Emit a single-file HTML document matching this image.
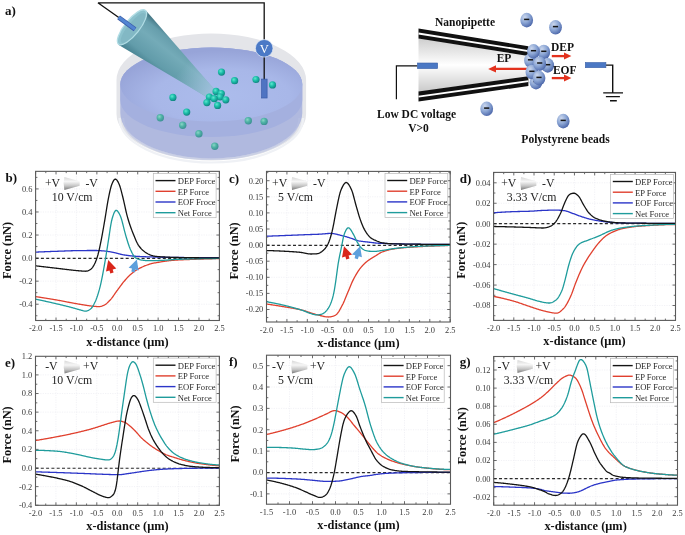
<!DOCTYPE html>
<html><head><meta charset="utf-8">
<style>
html,body{margin:0;padding:0;background:#fff;}
svg{display:block;will-change:transform;}
text{font-family:"Liberation Serif",serif;}
.tl{font-size:8.4px;fill:#3a3a3a;}
.at{font-size:12.4px;font-weight:bold;fill:#111;}
.pl{font-size:13px;font-weight:bold;fill:#111;}
.lg{font-size:8.6px;fill:#2a2a2a;}
.an{font-size:11.8px;fill:#222;}
.sb{font-size:11.5px;font-weight:bold;fill:#111;}
</style>
</head>
<body>
<svg width="685" height="535" viewBox="0 0 685 535">

<defs>
<radialGradient id="bg" cx="0.38" cy="0.35" r="0.7">
 <stop offset="0" stop-color="#5fe6cf"/><stop offset="0.45" stop-color="#1cbfa9"/><stop offset="1" stop-color="#0f7f7c"/>
</radialGradient>
<radialGradient id="bgf" cx="0.38" cy="0.35" r="0.7">
 <stop offset="0" stop-color="#8ad6c6"/><stop offset="0.45" stop-color="#4fb3a6"/><stop offset="1" stop-color="#3a8c90"/>
</radialGradient>
<radialGradient id="nb" cx="0.35" cy="0.3" r="0.75">
 <stop offset="0" stop-color="#cad6ec"/><stop offset="0.5" stop-color="#8da7d5"/><stop offset="1" stop-color="#4964a8"/>
</radialGradient>
<radialGradient id="liq" cx="0.56" cy="0.66" r="0.62">
 <stop offset="0" stop-color="#acbcec"/><stop offset="0.6" stop-color="#a8b7e8"/><stop offset="1" stop-color="#97a4d8"/>
</radialGradient>
<linearGradient id="coneb" gradientUnits="userSpaceOnUse" x1="119.6" y1="43.1" x2="144.4" y2="11.9">
 <stop offset="0" stop-color="#4c8695"/><stop offset="0.18" stop-color="#629caa"/><stop offset="0.6" stop-color="#74abb8"/><stop offset="0.86" stop-color="#669eac"/><stop offset="1" stop-color="#477a88"/>
</linearGradient>
<linearGradient id="conetip" gradientUnits="userSpaceOnUse" x1="132" y1="27.5" x2="213" y2="93">
 <stop offset="0" stop-color="#a8c8e2" stop-opacity="0"/><stop offset="0.62" stop-color="#a8c8e2" stop-opacity="0"/><stop offset="1" stop-color="#a8c4e4" stop-opacity="0.85"/>
</linearGradient>
<linearGradient id="pip" x1="0" y1="0" x2="0" y2="1">
 <stop offset="0" stop-color="#cdcdcd"/><stop offset="0.5" stop-color="#ffffff"/><stop offset="1" stop-color="#c9c9c9"/>
</linearGradient>
<linearGradient id="coneg" x1="0" y1="0" x2="0" y2="1">
 <stop offset="0" stop-color="#d8d8d8"/><stop offset="0.35" stop-color="#f6f6f6"/><stop offset="0.7" stop-color="#c4c4c4"/><stop offset="1" stop-color="#7c7c7c"/>
</linearGradient>
</defs>

<rect width="685" height="535" fill="#fff"/>
<path d="M116.50000000000001 80.0 A94.8 46.5 0 0 1 306.1 80.0 L306.1 114.0 A94.8 46.5 0 0 1 116.50000000000001 114.0 Z" fill="#e4e5e9"/>
<path d="M120.30000000000001 84.5 A91 37 0 0 1 302.3 84.5 L302.3 113 A91 45.5 0 0 1 120.30000000000001 113 Z" fill="#b0b9df"/>
<path d="M120.30000000000001 84.5 A91 37 0 0 1 302.3 84.5 L302.3 100 A91 37 0 0 1 120.30000000000001 100 Z" fill="#a4b0df"/>
<ellipse cx="211.3" cy="84.5" rx="91" ry="37" fill="url(#liq)"/>
<path d="M119.50000000000001 118.0 A91.8 44.5 0 0 0 303.1 118.0" fill="none" stroke="#eff1f5" stroke-width="2.2"/>
<path d="M123.30000000000001 118 A88 41 0 0 0 299.3 118" fill="none" stroke="#b9c1e3" stroke-width="2" opacity="0.6"/>
<circle cx="160.3" cy="117.8" r="3.7" fill="url(#bgf)"/>
<circle cx="182.7" cy="125.3" r="3.7" fill="url(#bgf)"/>
<circle cx="198.9" cy="133.7" r="3.7" fill="url(#bgf)"/>
<circle cx="214.8" cy="146.2" r="3.7" fill="url(#bgf)"/>
<circle cx="248.3" cy="120.8" r="3.7" fill="url(#bgf)"/>
<circle cx="264.1" cy="121.4" r="3.7" fill="url(#bgf)"/>
<circle cx="221.5" cy="72.1" r="3.6" fill="url(#bg)"/>
<circle cx="234.6" cy="80.7" r="3.6" fill="url(#bg)"/>
<circle cx="256.0" cy="79.5" r="3.6" fill="url(#bg)"/>
<circle cx="272.5" cy="84.9" r="3.6" fill="url(#bg)"/>
<circle cx="172.9" cy="97.4" r="3.6" fill="url(#bg)"/>
<circle cx="186.7" cy="112.1" r="3.6" fill="url(#bg)"/>
<path d="M97.9 2.8H264.2V40M264.2 56V80M97.9 2.8L119.5 18" fill="none" stroke="#111" stroke-width="1.3"/>
<rect x="261.6" y="79.1" width="5.5" height="18.9" fill="#4f74c2" stroke="#3b5ca8" stroke-width="0.7"/>
<circle cx="264.2" cy="48.3" r="8.8" fill="#4b79c6" stroke="#e8eef8" stroke-width="0.7"/>
<text x="264.2" y="52.6" text-anchor="middle" font-family="Liberation Serif" font-size="12.5" fill="#fff">V</text>
<path d="M118.3 44.7 L207.5 97.5 Q213 96 214.5 89.5 L145.7 10.3 Z" fill="url(#coneb)"/>
<path d="M118.3 44.7 L207.5 97.5 Q213 96 214.5 89.5 L145.7 10.3 Z" fill="url(#conetip)"/>
<ellipse cx="132" cy="27.3" rx="21.6" ry="7.4" transform="rotate(-51.5 132 27.3)" fill="#8cc2cd" stroke="#b2dde5" stroke-width="1.3"/>
<ellipse cx="133.0" cy="28.0" rx="18.5" ry="5.4" transform="rotate(-51.5 133.0 28.0)" fill="#7db4c0" opacity="0.7"/>
<path d="M118.6 17.3 L135.0 29.3" stroke="#3b5ca8" stroke-width="4.6"/>
<path d="M118.6 17.3 L135.0 29.3" stroke="#5285d2" stroke-width="3.2"/>
<circle cx="216.1" cy="91.4" r="3.6" fill="url(#bg)"/>
<circle cx="221.3" cy="93.6" r="3.6" fill="url(#bg)"/>
<circle cx="209.4" cy="97.0" r="3.6" fill="url(#bg)"/>
<circle cx="220.1" cy="97.0" r="3.6" fill="url(#bg)"/>
<circle cx="214.2" cy="98.7" r="3.6" fill="url(#bg)"/>
<circle cx="225.8" cy="99.8" r="3.6" fill="url(#bg)"/>
<circle cx="206.9" cy="102.6" r="3.6" fill="url(#bg)"/>
<circle cx="217.6" cy="105.4" r="3.6" fill="url(#bg)"/>
<path d="M418.5 38 L528.4 56 L528.4 76 L418.5 92 Z" fill="url(#pip)"/>
<path d="M418.5 28.5 L528.4 46.2 L528.4 56.0 L418.5 38.6 Z" fill="#111"/>
<path d="M418.5 33.5 L528.4 51.1" stroke="#fff" stroke-width="1.9"/>
<path d="M418.5 91.5 L528.4 76.2 L528.4 86.0 L418.5 101.6 Z" fill="#111"/>
<path d="M418.5 96.6 L528.4 81.1" stroke="#fff" stroke-width="1.9"/>
<path d="M417.4 65.8H396.4V99.3" fill="none" stroke="#111" stroke-width="1.2"/>
<rect x="417.4" y="63.0" width="20.3" height="5.6" fill="#4b78c4" stroke="#3d62a8" stroke-width="0.6"/>
<path d="M605.9 65.1H612.7V92.9M603.2 92.9H623M605.9 96.6H619.9M610 100.7H616.8" fill="none" stroke="#111" stroke-width="1.4"/>
<rect x="585.3" y="62.5" width="20.6" height="5.2" fill="#4b78c4" stroke="#3d62a8" stroke-width="0.6"/>
<path d="M528.4 68.9H494" stroke="#e3321e" stroke-width="2.3"/>
<path d="M488.2 68.9 L496 65.3 L496 72.5Z" fill="#e3321e"/>
<path d="M551.8 56.1H565" stroke="#e3321e" stroke-width="2.3"/>
<path d="M571.4 56.1 L564 52.6 L564 59.6Z" fill="#e3321e"/>
<path d="M551.8 78.1H565" stroke="#e3321e" stroke-width="2.3"/>
<path d="M571.4 78.1 L564 74.6 L564 81.6Z" fill="#e3321e"/>
<ellipse cx="526.7" cy="20.1" rx="6.4" ry="7.3" fill="url(#nb)"/><path d="M524.1 19.4h5.2" stroke="#151515" stroke-width="1.5"/>
<ellipse cx="555.5" cy="27.3" rx="6.4" ry="7.3" fill="url(#nb)"/><path d="M552.9 26.6h5.2" stroke="#151515" stroke-width="1.5"/>
<ellipse cx="486.7" cy="108.8" rx="6.4" ry="7.3" fill="url(#nb)"/><path d="M484.1 108.1h5.2" stroke="#151515" stroke-width="1.5"/>
<ellipse cx="563.2" cy="121.1" rx="6.4" ry="7.3" fill="url(#nb)"/><path d="M560.6 120.4h5.2" stroke="#151515" stroke-width="1.5"/>
<ellipse cx="530.5" cy="60.5" rx="6.4" ry="7.3" fill="url(#nb)"/><path d="M527.9 59.8h5.2" stroke="#151515" stroke-width="1.5"/>
<ellipse cx="536.0" cy="82.2" rx="6.4" ry="7.3" fill="url(#nb)"/><path d="M533.4 81.5h5.2" stroke="#151515" stroke-width="1.5"/>
<ellipse cx="531.9" cy="72.0" rx="6.4" ry="7.3" fill="url(#nb)"/><path d="M529.3 71.3h5.2" stroke="#151515" stroke-width="1.5"/>
<ellipse cx="543.8" cy="52.0" rx="6.4" ry="7.3" fill="url(#nb)"/><path d="M541.2 51.3h5.2" stroke="#151515" stroke-width="1.5"/>
<ellipse cx="533.5" cy="51.4" rx="6.4" ry="7.3" fill="url(#nb)"/><path d="M530.9 50.7h5.2" stroke="#151515" stroke-width="1.5"/>
<ellipse cx="547.7" cy="65.4" rx="6.4" ry="7.3" fill="url(#nb)"/><path d="M545.1 64.7h5.2" stroke="#151515" stroke-width="1.5"/>
<ellipse cx="539.7" cy="63.7" rx="6.4" ry="7.3" fill="url(#nb)"/><path d="M537.1 63.0h5.2" stroke="#151515" stroke-width="1.5"/>
<ellipse cx="539.0" cy="78.1" rx="6.4" ry="7.3" fill="url(#nb)"/><path d="M536.4 77.4h5.2" stroke="#151515" stroke-width="1.5"/>
<text x="465" y="25.8" text-anchor="middle" class="sb">Nanopipette</text>
<text x="504" y="62.2" text-anchor="middle" class="sb">EP</text>
<text x="562.5" y="50.7" text-anchor="middle" class="sb">DEP</text>
<text x="564.7" y="73.7" text-anchor="middle" class="sb">EOF</text>
<text x="416.6" y="118.3" text-anchor="middle" class="sb">Low DC voltage</text>
<text x="418.5" y="131.8" text-anchor="middle" class="sb">V&gt;0</text>
<text x="565.5" y="143.1" text-anchor="middle" class="sb">Polystyrene beads</text>
<clipPath id="clipb"><rect x="35.60" y="171.35" width="183.80" height="149.15"/></clipPath>
<path d="M56.02 171.35V320.50M76.44 171.35V320.50M96.87 171.35V320.50M117.29 171.35V320.50M137.71 171.35V320.50M158.13 171.35V320.50M178.56 171.35V320.50M198.98 171.35V320.50M35.60 188.92H219.40M35.60 211.98H219.40M35.60 235.04H219.40M35.60 258.10H219.40M35.60 281.16H219.40M35.60 304.22H219.40" stroke="#ececf2" stroke-width="0.7" fill="none" stroke-dasharray="1.2 1.2"/>
<path d="M35.60 320.50v-3.0M35.60 171.35v3.0M45.81 320.50v-1.8M45.81 171.35v1.8M56.02 320.50v-3.0M56.02 171.35v3.0M66.23 320.50v-1.8M66.23 171.35v1.8M76.44 320.50v-3.0M76.44 171.35v3.0M86.66 320.50v-1.8M86.66 171.35v1.8M96.87 320.50v-3.0M96.87 171.35v3.0M107.08 320.50v-1.8M107.08 171.35v1.8M117.29 320.50v-3.0M117.29 171.35v3.0M127.50 320.50v-1.8M127.50 171.35v1.8M137.71 320.50v-3.0M137.71 171.35v3.0M147.92 320.50v-1.8M147.92 171.35v1.8M158.13 320.50v-3.0M158.13 171.35v3.0M168.34 320.50v-1.8M168.34 171.35v1.8M178.56 320.50v-3.0M178.56 171.35v3.0M188.77 320.50v-1.8M188.77 171.35v1.8M198.98 320.50v-3.0M198.98 171.35v3.0M209.19 320.50v-1.8M209.19 171.35v1.8M219.40 320.50v-3.0M219.40 171.35v3.0M35.60 315.75h1.8M219.40 315.75h-1.8M35.60 304.22h3.0M219.40 304.22h-3.0M35.60 292.69h1.8M219.40 292.69h-1.8M35.60 281.16h3.0M219.40 281.16h-3.0M35.60 269.63h1.8M219.40 269.63h-1.8M35.60 258.10h3.0M219.40 258.10h-3.0M35.60 246.57h1.8M219.40 246.57h-1.8M35.60 235.04h3.0M219.40 235.04h-3.0M35.60 223.51h1.8M219.40 223.51h-1.8M35.60 211.98h3.0M219.40 211.98h-3.0M35.60 200.45h1.8M219.40 200.45h-1.8M35.60 188.92h3.0M219.40 188.92h-3.0M35.60 177.39h1.8M219.40 177.39h-1.8" stroke="#5a5a5a" stroke-width="0.9" fill="none"/>
<path d="M35.60 258.40H219.40" stroke="#2a2a2a" stroke-width="1.15" stroke-dasharray="3 2.3" fill="none"/>
<path d="M35.60 252.10 L36.21 252.08 L36.83 252.05 L37.44 252.03 L38.05 252.00 L38.66 251.98 L39.28 251.95 L39.89 251.92 L40.50 251.90 L41.11 251.87 L41.73 251.85 L42.34 251.83 L42.95 251.80 L43.56 251.78 L44.18 251.75 L44.79 251.73 L45.40 251.70 L46.02 251.68 L46.63 251.66 L47.24 251.63 L47.85 251.61 L48.47 251.59 L49.08 251.56 L49.69 251.54 L50.30 251.52 L50.92 251.49 L51.53 251.47 L52.14 251.45 L52.75 251.43 L53.37 251.40 L53.98 251.38 L54.59 251.36 L55.21 251.34 L55.82 251.32 L56.43 251.30 L57.04 251.28 L57.66 251.25 L58.27 251.23 L58.88 251.21 L59.49 251.19 L60.11 251.16 L60.72 251.14 L61.33 251.12 L61.94 251.10 L62.56 251.07 L63.17 251.05 L63.78 251.03 L64.40 251.00 L65.01 250.98 L65.62 250.96 L66.23 250.94 L66.85 250.92 L67.46 250.89 L68.07 250.87 L68.68 250.85 L69.30 250.83 L69.91 250.81 L70.52 250.79 L71.13 250.77 L71.75 250.76 L72.36 250.74 L72.97 250.72 L73.59 250.71 L74.20 250.69 L74.81 250.68 L75.42 250.66 L76.04 250.65 L76.65 250.64 L77.26 250.63 L77.87 250.62 L78.49 250.61 L79.10 250.60 L79.71 250.60 L80.32 250.59 L80.94 250.58 L81.55 250.58 L82.16 250.57 L82.78 250.56 L83.39 250.56 L84.00 250.55 L84.61 250.55 L85.23 250.54 L85.84 250.53 L86.45 250.53 L87.06 250.52 L87.68 250.52 L88.29 250.52 L88.90 250.51 L89.51 250.51 L90.13 250.50 L90.74 250.50 L91.35 250.50 L91.97 250.50 L92.58 250.49 L93.19 250.49 L93.80 250.49 L94.42 250.49 L95.03 250.49 L95.64 250.50 L96.25 250.50 L96.87 250.52 L97.48 250.54 L98.09 250.56 L98.70 250.59 L99.32 250.62 L99.93 250.66 L100.54 250.70 L101.16 250.74 L101.77 250.78 L102.38 250.83 L102.99 250.87 L103.61 250.92 L104.22 250.97 L104.83 251.03 L105.44 251.09 L106.06 251.16 L106.67 251.24 L107.28 251.33 L107.89 251.42 L108.51 251.52 L109.12 251.62 L109.73 251.73 L110.35 251.84 L110.96 251.95 L111.57 252.06 L112.18 252.18 L112.80 252.30 L113.41 252.41 L114.02 252.54 L114.63 252.67 L115.25 252.81 L115.86 252.96 L116.47 253.11 L117.08 253.27 L117.70 253.44 L118.31 253.60 L118.92 253.77 L119.54 253.93 L120.15 254.09 L120.76 254.25 L121.37 254.40 L121.99 254.54 L122.60 254.66 L123.21 254.78 L123.82 254.89 L124.44 254.99 L125.05 255.08 L125.66 255.17 L126.27 255.26 L126.89 255.35 L127.50 255.43 L128.11 255.51 L128.73 255.59 L129.34 255.67 L129.95 255.74 L130.56 255.81 L131.18 255.88 L131.79 255.94 L132.40 256.00 L133.01 256.06 L133.63 256.11 L134.24 256.16 L134.85 256.21 L135.46 256.25 L136.08 256.29 L136.69 256.33 L137.30 256.36 L137.92 256.40 L138.53 256.43 L139.14 256.46 L139.75 256.50 L140.37 256.53 L140.98 256.55 L141.59 256.58 L142.20 256.61 L142.82 256.64 L143.43 256.66 L144.04 256.69 L144.65 256.71 L145.27 256.73 L145.88 256.76 L146.49 256.78 L147.11 256.80 L147.72 256.82 L148.33 256.84 L148.94 256.86 L149.56 256.88 L150.17 256.90 L150.78 256.92 L151.39 256.94 L152.01 256.96 L152.62 256.97 L153.23 256.99 L153.84 257.01 L154.46 257.03 L155.07 257.05 L155.68 257.06 L156.30 257.08 L156.91 257.10 L157.52 257.11 L158.13 257.13 L158.75 257.14 L159.36 257.16 L159.97 257.17 L160.58 257.19 L161.20 257.20 L161.81 257.21 L162.42 257.23 L163.03 257.24 L163.65 257.25 L164.26 257.26 L164.87 257.27 L165.49 257.28 L166.10 257.29 L166.71 257.30 L167.32 257.31 L167.94 257.32 L168.55 257.32 L169.16 257.33 L169.77 257.34 L170.39 257.35 L171.00 257.36 L171.61 257.37 L172.22 257.37 L172.84 257.38 L173.45 257.39 L174.06 257.40 L174.68 257.41 L175.29 257.41 L175.90 257.42 L176.51 257.43 L177.13 257.44 L177.74 257.45 L178.35 257.45 L178.96 257.46 L179.58 257.47 L180.19 257.48 L180.80 257.48 L181.41 257.49 L182.03 257.50 L182.64 257.51 L183.25 257.51 L183.87 257.52 L184.48 257.53 L185.09 257.53 L185.70 257.54 L186.32 257.55 L186.93 257.56 L187.54 257.56 L188.15 257.57 L188.77 257.57 L189.38 257.58 L189.99 257.59 L190.60 257.59 L191.22 257.60 L191.83 257.61 L192.44 257.61 L193.06 257.62 L193.67 257.62 L194.28 257.63 L194.89 257.63 L195.51 257.64 L196.12 257.65 L196.73 257.65 L197.34 257.66 L197.96 257.66 L198.57 257.67 L199.18 257.67 L199.79 257.68 L200.41 257.68 L201.02 257.68 L201.63 257.69 L202.25 257.69 L202.86 257.70 L203.47 257.70 L204.08 257.70 L204.70 257.71 L205.31 257.71 L205.92 257.72 L206.53 257.72 L207.15 257.72 L207.76 257.73 L208.37 257.73 L208.98 257.73 L209.60 257.73 L210.21 257.74 L210.82 257.74 L211.44 257.74 L212.05 257.74 L212.66 257.74 L213.27 257.75 L213.89 257.75 L214.50 257.75 L215.11 257.75 L215.72 257.75 L216.34 257.75 L216.95 257.75 L217.56 257.75 L218.17 257.75 L218.79 257.75 L219.40 257.75" stroke="#2b35c8" stroke-width="1.3" fill="none" stroke-linejoin="round" clip-path="url(#clipb)"/>
<path d="M35.60 296.61 L36.21 296.70 L36.83 296.79 L37.44 296.89 L38.05 296.98 L38.66 297.07 L39.28 297.17 L39.89 297.26 L40.50 297.35 L41.11 297.45 L41.73 297.54 L42.34 297.64 L42.95 297.74 L43.56 297.83 L44.18 297.93 L44.79 298.03 L45.40 298.12 L46.02 298.22 L46.63 298.32 L47.24 298.42 L47.85 298.52 L48.47 298.62 L49.08 298.72 L49.69 298.82 L50.30 298.92 L50.92 299.02 L51.53 299.13 L52.14 299.23 L52.75 299.33 L53.37 299.43 L53.98 299.54 L54.59 299.64 L55.21 299.74 L55.82 299.85 L56.43 299.95 L57.04 300.06 L57.66 300.17 L58.27 300.28 L58.88 300.39 L59.49 300.50 L60.11 300.61 L60.72 300.72 L61.33 300.84 L61.94 300.95 L62.56 301.07 L63.17 301.19 L63.78 301.31 L64.40 301.42 L65.01 301.54 L65.62 301.66 L66.23 301.78 L66.85 301.90 L67.46 302.02 L68.07 302.13 L68.68 302.25 L69.30 302.37 L69.91 302.49 L70.52 302.61 L71.13 302.72 L71.75 302.84 L72.36 302.95 L72.97 303.07 L73.59 303.18 L74.20 303.29 L74.81 303.40 L75.42 303.51 L76.04 303.62 L76.65 303.73 L77.26 303.83 L77.87 303.94 L78.49 304.04 L79.10 304.14 L79.71 304.24 L80.32 304.34 L80.94 304.44 L81.55 304.55 L82.16 304.65 L82.78 304.75 L83.39 304.85 L84.00 304.96 L84.61 305.06 L85.23 305.16 L85.84 305.26 L86.45 305.35 L87.06 305.45 L87.68 305.54 L88.29 305.63 L88.90 305.72 L89.51 305.81 L90.13 305.89 L90.74 305.97 L91.35 306.04 L91.97 306.11 L92.58 306.18 L93.19 306.24 L93.80 306.29 L94.42 306.35 L95.03 306.41 L95.64 306.46 L96.25 306.51 L96.87 306.56 L97.48 306.59 L98.09 306.62 L98.70 306.62 L99.32 306.60 L99.93 306.53 L100.54 306.42 L101.16 306.28 L101.77 306.10 L102.38 305.90 L102.99 305.67 L103.61 305.43 L104.22 305.14 L104.83 304.80 L105.44 304.39 L106.06 303.93 L106.67 303.43 L107.28 302.88 L107.89 302.30 L108.51 301.70 L109.12 301.08 L109.73 300.45 L110.35 299.80 L110.96 299.11 L111.57 298.37 L112.18 297.58 L112.80 296.75 L113.41 295.89 L114.02 295.00 L114.63 294.11 L115.25 293.22 L115.86 292.34 L116.47 291.47 L117.08 290.63 L117.70 289.79 L118.31 288.96 L118.92 288.12 L119.54 287.28 L120.15 286.45 L120.76 285.62 L121.37 284.81 L121.99 284.01 L122.60 283.22 L123.21 282.46 L123.82 281.71 L124.44 280.98 L125.05 280.26 L125.66 279.54 L126.27 278.84 L126.89 278.15 L127.50 277.48 L128.11 276.82 L128.73 276.19 L129.34 275.59 L129.95 275.01 L130.56 274.46 L131.18 273.93 L131.79 273.41 L132.40 272.91 L133.01 272.43 L133.63 271.96 L134.24 271.51 L134.85 271.08 L135.46 270.66 L136.08 270.26 L136.69 269.88 L137.30 269.52 L137.92 269.17 L138.53 268.83 L139.14 268.51 L139.75 268.19 L140.37 267.89 L140.98 267.59 L141.59 267.30 L142.20 267.02 L142.82 266.75 L143.43 266.48 L144.04 266.22 L144.65 265.97 L145.27 265.72 L145.88 265.48 L146.49 265.24 L147.11 265.01 L147.72 264.78 L148.33 264.56 L148.94 264.34 L149.56 264.14 L150.17 263.95 L150.78 263.77 L151.39 263.61 L152.01 263.46 L152.62 263.33 L153.23 263.20 L153.84 263.09 L154.46 262.98 L155.07 262.87 L155.68 262.77 L156.30 262.67 L156.91 262.57 L157.52 262.47 L158.13 262.36 L158.75 262.25 L159.36 262.14 L159.97 262.03 L160.58 261.92 L161.20 261.81 L161.81 261.70 L162.42 261.60 L163.03 261.51 L163.65 261.42 L164.26 261.33 L164.87 261.25 L165.49 261.17 L166.10 261.09 L166.71 261.01 L167.32 260.93 L167.94 260.86 L168.55 260.78 L169.16 260.71 L169.77 260.65 L170.39 260.58 L171.00 260.52 L171.61 260.46 L172.22 260.40 L172.84 260.34 L173.45 260.29 L174.06 260.24 L174.68 260.20 L175.29 260.16 L175.90 260.12 L176.51 260.08 L177.13 260.04 L177.74 260.01 L178.35 259.97 L178.96 259.94 L179.58 259.91 L180.19 259.88 L180.80 259.84 L181.41 259.81 L182.03 259.79 L182.64 259.76 L183.25 259.73 L183.87 259.70 L184.48 259.68 L185.09 259.65 L185.70 259.63 L186.32 259.60 L186.93 259.58 L187.54 259.56 L188.15 259.53 L188.77 259.51 L189.38 259.49 L189.99 259.46 L190.60 259.44 L191.22 259.42 L191.83 259.40 L192.44 259.37 L193.06 259.35 L193.67 259.33 L194.28 259.31 L194.89 259.28 L195.51 259.26 L196.12 259.24 L196.73 259.22 L197.34 259.20 L197.96 259.18 L198.57 259.15 L199.18 259.13 L199.79 259.11 L200.41 259.09 L201.02 259.07 L201.63 259.05 L202.25 259.03 L202.86 259.01 L203.47 258.99 L204.08 258.97 L204.70 258.95 L205.31 258.93 L205.92 258.91 L206.53 258.89 L207.15 258.88 L207.76 258.86 L208.37 258.84 L208.98 258.82 L209.60 258.80 L210.21 258.79 L210.82 258.77 L211.44 258.75 L212.05 258.74 L212.66 258.72 L213.27 258.70 L213.89 258.69 L214.50 258.67 L215.11 258.66 L215.72 258.64 L216.34 258.63 L216.95 258.61 L217.56 258.60 L218.17 258.59 L218.79 258.57 L219.40 258.56" stroke="#e0402e" stroke-width="1.3" fill="none" stroke-linejoin="round" clip-path="url(#clipb)"/>
<path d="M35.60 299.15 L36.21 299.27 L36.83 299.40 L37.44 299.53 L38.05 299.66 L38.66 299.79 L39.28 299.92 L39.89 300.05 L40.50 300.18 L41.11 300.31 L41.73 300.44 L42.34 300.58 L42.95 300.71 L43.56 300.84 L44.18 300.98 L44.79 301.11 L45.40 301.25 L46.02 301.38 L46.63 301.52 L47.24 301.66 L47.85 301.79 L48.47 301.93 L49.08 302.07 L49.69 302.21 L50.30 302.35 L50.92 302.49 L51.53 302.63 L52.14 302.77 L52.75 302.91 L53.37 303.05 L53.98 303.19 L54.59 303.33 L55.21 303.47 L55.82 303.62 L56.43 303.76 L57.04 303.90 L57.66 304.05 L58.27 304.19 L58.88 304.34 L59.49 304.48 L60.11 304.63 L60.72 304.77 L61.33 304.92 L61.94 305.07 L62.56 305.22 L63.17 305.37 L63.78 305.51 L64.40 305.67 L65.01 305.82 L65.62 305.97 L66.23 306.12 L66.85 306.27 L67.46 306.43 L68.07 306.58 L68.68 306.74 L69.30 306.90 L69.91 307.06 L70.52 307.21 L71.13 307.37 L71.75 307.54 L72.36 307.70 L72.97 307.87 L73.59 308.04 L74.20 308.22 L74.81 308.40 L75.42 308.57 L76.04 308.75 L76.65 308.93 L77.26 309.10 L77.87 309.28 L78.49 309.45 L79.10 309.61 L79.71 309.77 L80.32 309.94 L80.94 310.10 L81.55 310.27 L82.16 310.45 L82.78 310.63 L83.39 310.79 L84.00 310.93 L84.61 311.03 L85.23 311.09 L85.84 311.08 L86.45 311.01 L87.06 310.86 L87.68 310.65 L88.29 310.37 L88.90 310.05 L89.51 309.69 L90.13 309.29 L90.74 308.83 L91.35 308.26 L91.97 307.54 L92.58 306.67 L93.19 305.65 L93.80 304.52 L94.42 303.30 L95.03 302.02 L95.64 300.65 L96.25 299.17 L96.87 297.54 L97.48 295.78 L98.09 293.87 L98.70 291.84 L99.32 289.68 L99.93 287.36 L100.54 284.85 L101.16 282.12 L101.77 279.18 L102.38 276.07 L102.99 272.83 L103.61 269.50 L104.22 266.10 L104.83 262.63 L105.44 259.05 L106.06 255.33 L106.67 251.52 L107.28 247.65 L107.89 243.76 L108.51 239.85 L109.12 235.83 L109.73 231.73 L110.35 227.71 L110.96 224.05 L111.57 220.98 L112.18 218.51 L112.80 216.44 L113.41 214.62 L114.02 213.04 L114.63 211.76 L115.25 210.85 L115.86 210.37 L116.47 210.32 L117.08 210.65 L117.70 211.28 L118.31 212.14 L118.92 213.16 L119.54 214.30 L120.15 215.57 L120.76 217.04 L121.37 218.81 L121.99 220.89 L122.60 223.21 L123.21 225.68 L123.82 228.19 L124.44 230.64 L125.05 232.95 L125.66 235.12 L126.27 237.21 L126.89 239.26 L127.50 241.27 L128.11 243.21 L128.73 245.05 L129.34 246.77 L129.95 248.33 L130.56 249.75 L131.18 251.09 L131.79 252.36 L132.40 253.56 L133.01 254.69 L133.63 255.69 L134.24 256.55 L134.85 257.23 L135.46 257.76 L136.08 258.16 L136.69 258.48 L137.30 258.77 L137.92 259.03 L138.53 259.25 L139.14 259.45 L139.75 259.63 L140.37 259.78 L140.98 259.91 L141.59 260.02 L142.20 260.12 L142.82 260.20 L143.43 260.29 L144.04 260.36 L144.65 260.43 L145.27 260.50 L145.88 260.55 L146.49 260.59 L147.11 260.61 L147.72 260.63 L148.33 260.63 L148.94 260.64 L149.56 260.64 L150.17 260.64 L150.78 260.64 L151.39 260.64 L152.01 260.64 L152.62 260.64 L153.23 260.64 L153.84 260.64 L154.46 260.63 L155.07 260.63 L155.68 260.62 L156.30 260.60 L156.91 260.59 L157.52 260.57 L158.13 260.54 L158.75 260.52 L159.36 260.49 L159.97 260.46 L160.58 260.43 L161.20 260.40 L161.81 260.37 L162.42 260.34 L163.03 260.31 L163.65 260.28 L164.26 260.25 L164.87 260.21 L165.49 260.17 L166.10 260.13 L166.71 260.08 L167.32 260.04 L167.94 259.99 L168.55 259.94 L169.16 259.89 L169.77 259.84 L170.39 259.79 L171.00 259.74 L171.61 259.70 L172.22 259.65 L172.84 259.61 L173.45 259.57 L174.06 259.53 L174.68 259.50 L175.29 259.47 L175.90 259.44 L176.51 259.42 L177.13 259.39 L177.74 259.37 L178.35 259.34 L178.96 259.32 L179.58 259.29 L180.19 259.27 L180.80 259.25 L181.41 259.23 L182.03 259.20 L182.64 259.18 L183.25 259.16 L183.87 259.14 L184.48 259.12 L185.09 259.11 L185.70 259.09 L186.32 259.07 L186.93 259.05 L187.54 259.03 L188.15 259.02 L188.77 259.00 L189.38 258.99 L189.99 258.97 L190.60 258.95 L191.22 258.94 L191.83 258.93 L192.44 258.91 L193.06 258.90 L193.67 258.88 L194.28 258.87 L194.89 258.85 L195.51 258.84 L196.12 258.83 L196.73 258.81 L197.34 258.80 L197.96 258.79 L198.57 258.77 L199.18 258.76 L199.79 258.75 L200.41 258.73 L201.02 258.72 L201.63 258.71 L202.25 258.70 L202.86 258.69 L203.47 258.67 L204.08 258.66 L204.70 258.65 L205.31 258.64 L205.92 258.63 L206.53 258.62 L207.15 258.61 L207.76 258.59 L208.37 258.58 L208.98 258.57 L209.60 258.56 L210.21 258.55 L210.82 258.55 L211.44 258.54 L212.05 258.53 L212.66 258.52 L213.27 258.51 L213.89 258.50 L214.50 258.50 L215.11 258.49 L215.72 258.48 L216.34 258.47 L216.95 258.47 L217.56 258.46 L218.17 258.46 L218.79 258.45 L219.40 258.45" stroke="#1f9c9c" stroke-width="1.3" fill="none" stroke-linejoin="round" clip-path="url(#clipb)"/>
<path d="M35.60 265.83 L36.21 265.90 L36.83 265.97 L37.44 266.04 L38.05 266.11 L38.66 266.19 L39.28 266.26 L39.89 266.33 L40.50 266.40 L41.11 266.47 L41.73 266.54 L42.34 266.62 L42.95 266.69 L43.56 266.76 L44.18 266.83 L44.79 266.90 L45.40 266.97 L46.02 267.04 L46.63 267.12 L47.24 267.19 L47.85 267.26 L48.47 267.33 L49.08 267.40 L49.69 267.47 L50.30 267.54 L50.92 267.61 L51.53 267.68 L52.14 267.75 L52.75 267.82 L53.37 267.89 L53.98 267.97 L54.59 268.04 L55.21 268.11 L55.82 268.18 L56.43 268.25 L57.04 268.32 L57.66 268.39 L58.27 268.46 L58.88 268.53 L59.49 268.61 L60.11 268.68 L60.72 268.76 L61.33 268.83 L61.94 268.91 L62.56 268.98 L63.17 269.06 L63.78 269.13 L64.40 269.21 L65.01 269.28 L65.62 269.36 L66.23 269.43 L66.85 269.51 L67.46 269.58 L68.07 269.65 L68.68 269.73 L69.30 269.80 L69.91 269.87 L70.52 269.94 L71.13 270.01 L71.75 270.08 L72.36 270.15 L72.97 270.21 L73.59 270.28 L74.20 270.34 L74.81 270.41 L75.42 270.47 L76.04 270.53 L76.65 270.58 L77.26 270.64 L77.87 270.70 L78.49 270.75 L79.10 270.80 L79.71 270.85 L80.32 270.91 L80.94 270.97 L81.55 271.02 L82.16 271.07 L82.78 271.12 L83.39 271.16 L84.00 271.20 L84.61 271.22 L85.23 271.23 L85.84 271.20 L86.45 271.14 L87.06 271.01 L87.68 270.83 L88.29 270.60 L88.90 270.33 L89.51 270.02 L90.13 269.67 L90.74 269.28 L91.35 268.78 L91.97 268.14 L92.58 267.35 L93.19 266.42 L93.80 265.38 L94.42 264.23 L95.03 263.00 L95.64 261.63 L96.25 260.08 L96.87 258.32 L97.48 256.36 L98.09 254.21 L98.70 251.85 L99.32 249.24 L99.93 246.42 L100.54 243.45 L101.16 240.37 L101.77 237.16 L102.38 233.85 L102.99 230.46 L103.61 226.99 L104.22 223.46 L104.83 219.83 L105.44 216.07 L106.06 212.23 L106.67 208.38 L107.28 204.66 L107.89 201.14 L108.51 197.89 L109.12 194.85 L109.73 191.99 L110.35 189.34 L110.96 187.01 L111.57 185.05 L112.18 183.44 L112.80 182.09 L113.41 180.92 L114.02 179.97 L114.63 179.33 L115.25 179.05 L115.86 179.17 L116.47 179.64 L117.08 180.39 L117.70 181.34 L118.31 182.44 L118.92 183.72 L119.54 185.25 L120.15 187.08 L120.76 189.17 L121.37 191.44 L121.99 193.82 L122.60 196.25 L123.21 198.75 L123.82 201.37 L124.44 204.13 L125.05 206.95 L125.66 209.74 L126.27 212.40 L126.89 214.88 L127.50 217.15 L128.11 219.27 L128.73 221.28 L129.34 223.20 L129.95 225.04 L130.56 226.81 L131.18 228.50 L131.79 230.13 L132.40 231.72 L133.01 233.29 L133.63 234.84 L134.24 236.36 L134.85 237.85 L135.46 239.29 L136.08 240.68 L136.69 241.98 L137.30 243.20 L137.92 244.33 L138.53 245.34 L139.14 246.24 L139.75 247.04 L140.37 247.77 L140.98 248.46 L141.59 249.10 L142.20 249.70 L142.82 250.27 L143.43 250.80 L144.04 251.30 L144.65 251.77 L145.27 252.21 L145.88 252.62 L146.49 253.00 L147.11 253.37 L147.72 253.71 L148.33 254.03 L148.94 254.33 L149.56 254.62 L150.17 254.88 L150.78 255.11 L151.39 255.33 L152.01 255.53 L152.62 255.71 L153.23 255.88 L153.84 256.02 L154.46 256.15 L155.07 256.25 L155.68 256.33 L156.30 256.41 L156.91 256.47 L157.52 256.53 L158.13 256.59 L158.75 256.64 L159.36 256.69 L159.97 256.74 L160.58 256.78 L161.20 256.82 L161.81 256.85 L162.42 256.89 L163.03 256.92 L163.65 256.96 L164.26 256.99 L164.87 257.02 L165.49 257.05 L166.10 257.09 L166.71 257.12 L167.32 257.15 L167.94 257.17 L168.55 257.20 L169.16 257.23 L169.77 257.26 L170.39 257.28 L171.00 257.31 L171.61 257.33 L172.22 257.35 L172.84 257.38 L173.45 257.40 L174.06 257.42 L174.68 257.44 L175.29 257.45 L175.90 257.47 L176.51 257.48 L177.13 257.50 L177.74 257.51 L178.35 257.52 L178.96 257.53 L179.58 257.54 L180.19 257.55 L180.80 257.56 L181.41 257.57 L182.03 257.58 L182.64 257.58 L183.25 257.59 L183.87 257.60 L184.48 257.61 L185.09 257.62 L185.70 257.63 L186.32 257.63 L186.93 257.64 L187.54 257.65 L188.15 257.66 L188.77 257.67 L189.38 257.67 L189.99 257.68 L190.60 257.69 L191.22 257.70 L191.83 257.70 L192.44 257.71 L193.06 257.72 L193.67 257.72 L194.28 257.73 L194.89 257.74 L195.51 257.74 L196.12 257.75 L196.73 257.75 L197.34 257.76 L197.96 257.77 L198.57 257.77 L199.18 257.78 L199.79 257.78 L200.41 257.79 L201.02 257.79 L201.63 257.80 L202.25 257.80 L202.86 257.81 L203.47 257.81 L204.08 257.81 L204.70 257.82 L205.31 257.82 L205.92 257.83 L206.53 257.83 L207.15 257.83 L207.76 257.84 L208.37 257.84 L208.98 257.84 L209.60 257.85 L210.21 257.85 L210.82 257.85 L211.44 257.85 L212.05 257.86 L212.66 257.86 L213.27 257.86 L213.89 257.86 L214.50 257.86 L215.11 257.86 L215.72 257.87 L216.34 257.87 L216.95 257.87 L217.56 257.87 L218.17 257.87 L218.79 257.87 L219.40 257.87" stroke="#141414" stroke-width="1.3" fill="none" stroke-linejoin="round" clip-path="url(#clipb)"/>
<rect x="35.60" y="171.35" width="183.80" height="149.15" fill="none" stroke="#5a5a5a" stroke-width="1.1"/>
<text x="35.60" y="331.10" class="tl" text-anchor="middle">-2.0</text>
<text x="56.02" y="331.10" class="tl" text-anchor="middle">-1.5</text>
<text x="76.44" y="331.10" class="tl" text-anchor="middle">-1.0</text>
<text x="96.87" y="331.10" class="tl" text-anchor="middle">-0.5</text>
<text x="117.29" y="331.10" class="tl" text-anchor="middle">0.0</text>
<text x="137.71" y="331.10" class="tl" text-anchor="middle">0.5</text>
<text x="158.13" y="331.10" class="tl" text-anchor="middle">1.0</text>
<text x="178.56" y="331.10" class="tl" text-anchor="middle">1.5</text>
<text x="198.98" y="331.10" class="tl" text-anchor="middle">2.0</text>
<text x="219.40" y="331.10" class="tl" text-anchor="middle">2.5</text>
<text x="32.40" y="191.82" class="tl" text-anchor="end">0.6</text>
<text x="32.40" y="214.88" class="tl" text-anchor="end">0.4</text>
<text x="32.40" y="237.94" class="tl" text-anchor="end">0.2</text>
<text x="32.40" y="261.00" class="tl" text-anchor="end">0.0</text>
<text x="32.40" y="284.06" class="tl" text-anchor="end">-0.2</text>
<text x="32.40" y="307.12" class="tl" text-anchor="end">-0.4</text>
<text x="127.50" y="345.50" class="at" text-anchor="middle">x-distance (μm)</text>
<text transform="translate(11.30 250.43) rotate(-90)" class="at" text-anchor="middle">Force (nN)</text>
<text x="5.50" y="182.40" class="pl">b)</text>
<rect x="153.30" y="173.50" width="62.8" height="44.2" fill="#fff" stroke="#b8b8b8" stroke-width="0.7"/>
<path d="M155.50 180.60h20" stroke="#141414" stroke-width="1.4"/>
<text x="177.70" y="183.90" class="lg">DEP Force</text>
<path d="M155.50 191.30h20" stroke="#e0402e" stroke-width="1.4"/>
<text x="177.70" y="194.60" class="lg">EP Force</text>
<path d="M155.50 202.00h20" stroke="#2b35c8" stroke-width="1.4"/>
<text x="177.70" y="205.30" class="lg">EOF Froce</text>
<path d="M155.50 212.70h20" stroke="#1f9c9c" stroke-width="1.4"/>
<text x="177.70" y="216.00" class="lg">Net Force</text>
<text x="44.90" y="186.80" class="an">+V</text>
<path d="M64.40 177.10 L79.70 181.20 L79.70 185.80 L64.40 189.90 Q62.60 183.50 64.40 177.10Z" fill="url(#coneg)"/>
<text x="85.40" y="186.80" class="an">-V</text>
<text x="51.80" y="200.70" class="an">10 V/cm</text>
<clipPath id="clipc"><rect x="266.50" y="171.40" width="183.70" height="150.60"/></clipPath>
<path d="M286.91 171.40V322.00M307.32 171.40V322.00M327.73 171.40V322.00M348.14 171.40V322.00M368.56 171.40V322.00M388.97 171.40V322.00M409.38 171.40V322.00M429.79 171.40V322.00M266.50 180.70H450.20M266.50 196.80H450.20M266.50 212.90H450.20M266.50 229.00H450.20M266.50 245.10H450.20M266.50 261.20H450.20M266.50 277.30H450.20M266.50 293.40H450.20M266.50 309.50H450.20" stroke="#ececf2" stroke-width="0.7" fill="none" stroke-dasharray="1.2 1.2"/>
<path d="M266.50 322.00v-3.0M266.50 171.40v3.0M276.71 322.00v-1.8M276.71 171.40v1.8M286.91 322.00v-3.0M286.91 171.40v3.0M297.12 322.00v-1.8M297.12 171.40v1.8M307.32 322.00v-3.0M307.32 171.40v3.0M317.53 322.00v-1.8M317.53 171.40v1.8M327.73 322.00v-3.0M327.73 171.40v3.0M337.94 322.00v-1.8M337.94 171.40v1.8M348.14 322.00v-3.0M348.14 171.40v3.0M358.35 322.00v-1.8M358.35 171.40v1.8M368.56 322.00v-3.0M368.56 171.40v3.0M378.76 322.00v-1.8M378.76 171.40v1.8M388.97 322.00v-3.0M388.97 171.40v3.0M399.17 322.00v-1.8M399.17 171.40v1.8M409.38 322.00v-3.0M409.38 171.40v3.0M419.58 322.00v-1.8M419.58 171.40v1.8M429.79 322.00v-3.0M429.79 171.40v3.0M439.99 322.00v-1.8M439.99 171.40v1.8M450.20 322.00v-3.0M450.20 171.40v3.0M266.50 317.55h1.8M450.20 317.55h-1.8M266.50 309.50h3.0M450.20 309.50h-3.0M266.50 301.45h1.8M450.20 301.45h-1.8M266.50 293.40h3.0M450.20 293.40h-3.0M266.50 285.35h1.8M450.20 285.35h-1.8M266.50 277.30h3.0M450.20 277.30h-3.0M266.50 269.25h1.8M450.20 269.25h-1.8M266.50 261.20h3.0M450.20 261.20h-3.0M266.50 253.15h1.8M450.20 253.15h-1.8M266.50 245.10h3.0M450.20 245.10h-3.0M266.50 237.05h1.8M450.20 237.05h-1.8M266.50 229.00h3.0M450.20 229.00h-3.0M266.50 220.95h1.8M450.20 220.95h-1.8M266.50 212.90h3.0M450.20 212.90h-3.0M266.50 204.85h1.8M450.20 204.85h-1.8M266.50 196.80h3.0M450.20 196.80h-3.0M266.50 188.75h1.8M450.20 188.75h-1.8M266.50 180.70h3.0M450.20 180.70h-3.0M266.50 172.65h1.8M450.20 172.65h-1.8" stroke="#5a5a5a" stroke-width="0.9" fill="none"/>
<path d="M266.50 245.30H450.20" stroke="#2a2a2a" stroke-width="1.15" stroke-dasharray="3 2.3" fill="none"/>
<path d="M266.50 236.21 L267.11 236.19 L267.72 236.17 L268.34 236.14 L268.95 236.12 L269.56 236.10 L270.17 236.08 L270.79 236.05 L271.40 236.03 L272.01 236.01 L272.62 235.98 L273.24 235.96 L273.85 235.94 L274.46 235.92 L275.07 235.89 L275.69 235.87 L276.30 235.85 L276.91 235.82 L277.52 235.80 L278.13 235.78 L278.75 235.75 L279.36 235.73 L279.97 235.71 L280.58 235.68 L281.20 235.66 L281.81 235.64 L282.42 235.61 L283.03 235.59 L283.65 235.57 L284.26 235.54 L284.87 235.52 L285.48 235.50 L286.09 235.47 L286.71 235.45 L287.32 235.42 L287.93 235.40 L288.54 235.38 L289.16 235.35 L289.77 235.33 L290.38 235.30 L290.99 235.28 L291.61 235.26 L292.22 235.23 L292.83 235.21 L293.44 235.18 L294.06 235.16 L294.67 235.13 L295.28 235.11 L295.89 235.08 L296.50 235.06 L297.12 235.03 L297.73 235.01 L298.34 234.98 L298.95 234.96 L299.57 234.94 L300.18 234.91 L300.79 234.89 L301.40 234.86 L302.02 234.84 L302.63 234.81 L303.24 234.79 L303.85 234.77 L304.46 234.74 L305.08 234.72 L305.69 234.70 L306.30 234.67 L306.91 234.65 L307.53 234.63 L308.14 234.61 L308.75 234.58 L309.36 234.56 L309.98 234.54 L310.59 234.52 L311.20 234.50 L311.81 234.49 L312.43 234.47 L313.04 234.45 L313.65 234.43 L314.26 234.41 L314.87 234.39 L315.49 234.37 L316.10 234.34 L316.71 234.32 L317.32 234.30 L317.94 234.27 L318.55 234.25 L319.16 234.22 L319.77 234.19 L320.39 234.16 L321.00 234.12 L321.61 234.07 L322.22 234.02 L322.83 233.97 L323.45 233.91 L324.06 233.85 L324.67 233.79 L325.28 233.73 L325.90 233.67 L326.51 233.62 L327.12 233.57 L327.73 233.52 L328.35 233.48 L328.96 233.45 L329.57 233.43 L330.18 233.42 L330.79 233.43 L331.41 233.45 L332.02 233.49 L332.63 233.55 L333.24 233.62 L333.86 233.71 L334.47 233.82 L335.08 233.94 L335.69 234.06 L336.31 234.20 L336.92 234.35 L337.53 234.50 L338.14 234.66 L338.76 234.82 L339.37 234.98 L339.98 235.14 L340.59 235.30 L341.20 235.46 L341.82 235.61 L342.43 235.76 L343.04 235.91 L343.65 236.07 L344.27 236.23 L344.88 236.40 L345.49 236.57 L346.10 236.74 L346.72 236.92 L347.33 237.10 L347.94 237.29 L348.55 237.47 L349.16 237.66 L349.78 237.85 L350.39 238.05 L351.00 238.26 L351.61 238.48 L352.23 238.70 L352.84 238.93 L353.45 239.17 L354.06 239.40 L354.68 239.63 L355.29 239.86 L355.90 240.07 L356.51 240.28 L357.13 240.46 L357.74 240.63 L358.35 240.78 L358.96 240.91 L359.57 241.02 L360.19 241.13 L360.80 241.22 L361.41 241.31 L362.02 241.40 L362.64 241.47 L363.25 241.55 L363.86 241.62 L364.47 241.69 L365.09 241.76 L365.70 241.83 L366.31 241.89 L366.92 241.96 L367.53 242.02 L368.15 242.09 L368.76 242.16 L369.37 242.24 L369.98 242.31 L370.60 242.39 L371.21 242.47 L371.82 242.54 L372.43 242.62 L373.05 242.70 L373.66 242.77 L374.27 242.85 L374.88 242.92 L375.50 242.99 L376.11 243.05 L376.72 243.11 L377.33 243.17 L377.94 243.22 L378.56 243.26 L379.17 243.29 L379.78 243.32 L380.39 243.35 L381.01 243.37 L381.62 243.39 L382.23 243.41 L382.84 243.43 L383.46 243.44 L384.07 243.46 L384.68 243.47 L385.29 243.48 L385.90 243.50 L386.52 243.51 L387.13 243.52 L387.74 243.53 L388.35 243.54 L388.97 243.55 L389.58 243.57 L390.19 243.58 L390.80 243.59 L391.42 243.60 L392.03 243.62 L392.64 243.63 L393.25 243.65 L393.87 243.66 L394.48 243.68 L395.09 243.70 L395.70 243.72 L396.31 243.74 L396.93 243.76 L397.54 243.78 L398.15 243.80 L398.76 243.82 L399.38 243.84 L399.99 243.87 L400.60 243.89 L401.21 243.91 L401.83 243.93 L402.44 243.95 L403.05 243.97 L403.66 243.99 L404.27 244.01 L404.89 244.03 L405.50 244.05 L406.11 244.07 L406.72 244.08 L407.34 244.10 L407.95 244.11 L408.56 244.12 L409.17 244.13 L409.79 244.14 L410.40 244.15 L411.01 244.16 L411.62 244.16 L412.24 244.17 L412.85 244.18 L413.46 244.19 L414.07 244.20 L414.68 244.20 L415.30 244.21 L415.91 244.22 L416.52 244.23 L417.13 244.23 L417.75 244.24 L418.36 244.25 L418.97 244.26 L419.58 244.26 L420.20 244.27 L420.81 244.28 L421.42 244.28 L422.03 244.29 L422.64 244.30 L423.26 244.30 L423.87 244.31 L424.48 244.32 L425.09 244.32 L425.71 244.33 L426.32 244.33 L426.93 244.34 L427.54 244.35 L428.16 244.35 L428.77 244.36 L429.38 244.36 L429.99 244.37 L430.61 244.37 L431.22 244.38 L431.83 244.38 L432.44 244.39 L433.05 244.39 L433.67 244.39 L434.28 244.40 L434.89 244.40 L435.50 244.41 L436.12 244.41 L436.73 244.41 L437.34 244.42 L437.95 244.42 L438.57 244.42 L439.18 244.43 L439.79 244.43 L440.40 244.43 L441.01 244.44 L441.63 244.44 L442.24 244.44 L442.85 244.44 L443.46 244.45 L444.08 244.45 L444.69 244.45 L445.30 244.45 L445.91 244.45 L446.53 244.45 L447.14 244.45 L447.75 244.45 L448.36 244.46 L448.98 244.46 L449.59 244.46 L450.20 244.46" stroke="#2b35c8" stroke-width="1.3" fill="none" stroke-linejoin="round" clip-path="url(#clipc)"/>
<path d="M266.50 304.03 L267.11 304.12 L267.72 304.20 L268.34 304.29 L268.95 304.38 L269.56 304.48 L270.17 304.57 L270.79 304.66 L271.40 304.75 L272.01 304.85 L272.62 304.94 L273.24 305.03 L273.85 305.13 L274.46 305.22 L275.07 305.32 L275.69 305.41 L276.30 305.51 L276.91 305.61 L277.52 305.70 L278.13 305.80 L278.75 305.90 L279.36 306.00 L279.97 306.10 L280.58 306.20 L281.20 306.30 L281.81 306.40 L282.42 306.50 L283.03 306.60 L283.65 306.70 L284.26 306.80 L284.87 306.90 L285.48 307.01 L286.09 307.11 L286.71 307.21 L287.32 307.31 L287.93 307.42 L288.54 307.52 L289.16 307.62 L289.77 307.72 L290.38 307.82 L290.99 307.92 L291.61 308.02 L292.22 308.12 L292.83 308.23 L293.44 308.33 L294.06 308.44 L294.67 308.55 L295.28 308.65 L295.89 308.77 L296.50 308.88 L297.12 309.00 L297.73 309.12 L298.34 309.24 L298.95 309.37 L299.57 309.50 L300.18 309.64 L300.79 309.78 L301.40 309.93 L302.02 310.09 L302.63 310.26 L303.24 310.43 L303.85 310.61 L304.46 310.80 L305.08 310.99 L305.69 311.18 L306.30 311.38 L306.91 311.58 L307.53 311.78 L308.14 311.99 L308.75 312.19 L309.36 312.40 L309.98 312.61 L310.59 312.81 L311.20 313.01 L311.81 313.22 L312.43 313.41 L313.04 313.61 L313.65 313.80 L314.26 313.98 L314.87 314.16 L315.49 314.34 L316.10 314.51 L316.71 314.67 L317.32 314.82 L317.94 314.97 L318.55 315.12 L319.16 315.27 L319.77 315.43 L320.39 315.59 L321.00 315.75 L321.61 315.91 L322.22 316.07 L322.83 316.21 L323.45 316.36 L324.06 316.49 L324.67 316.61 L325.28 316.72 L325.90 316.81 L326.51 316.88 L327.12 316.94 L327.73 316.97 L328.35 316.98 L328.96 316.97 L329.57 316.92 L330.18 316.84 L330.79 316.74 L331.41 316.61 L332.02 316.45 L332.63 316.27 L333.24 316.07 L333.86 315.85 L334.47 315.61 L335.08 315.35 L335.69 315.02 L336.31 314.59 L336.92 314.02 L337.53 313.32 L338.14 312.49 L338.76 311.57 L339.37 310.56 L339.98 309.48 L340.59 308.36 L341.20 307.22 L341.82 306.06 L342.43 304.89 L343.04 303.68 L343.65 302.40 L344.27 301.04 L344.88 299.60 L345.49 298.11 L346.10 296.60 L346.72 295.09 L347.33 293.59 L347.94 292.11 L348.55 290.64 L349.16 289.15 L349.78 287.65 L350.39 286.16 L351.00 284.69 L351.61 283.26 L352.23 281.89 L352.84 280.60 L353.45 279.37 L354.06 278.19 L354.68 277.05 L355.29 275.94 L355.90 274.86 L356.51 273.81 L357.13 272.80 L357.74 271.83 L358.35 270.89 L358.96 270.01 L359.57 269.16 L360.19 268.37 L360.80 267.61 L361.41 266.88 L362.02 266.19 L362.64 265.52 L363.25 264.88 L363.86 264.26 L364.47 263.66 L365.09 263.09 L365.70 262.54 L366.31 262.01 L366.92 261.51 L367.53 261.02 L368.15 260.56 L368.76 260.11 L369.37 259.69 L369.98 259.28 L370.60 258.88 L371.21 258.50 L371.82 258.12 L372.43 257.75 L373.05 257.39 L373.66 257.03 L374.27 256.66 L374.88 256.29 L375.50 255.92 L376.11 255.54 L376.72 255.14 L377.33 254.74 L377.94 254.33 L378.56 253.93 L379.17 253.54 L379.78 253.17 L380.39 252.82 L381.01 252.51 L381.62 252.24 L382.23 251.99 L382.84 251.75 L383.46 251.53 L384.07 251.32 L384.68 251.11 L385.29 250.92 L385.90 250.73 L386.52 250.54 L387.13 250.37 L387.74 250.20 L388.35 250.04 L388.97 249.89 L389.58 249.74 L390.19 249.60 L390.80 249.47 L391.42 249.34 L392.03 249.22 L392.64 249.11 L393.25 249.00 L393.87 248.90 L394.48 248.80 L395.09 248.71 L395.70 248.62 L396.31 248.53 L396.93 248.45 L397.54 248.37 L398.15 248.30 L398.76 248.22 L399.38 248.15 L399.99 248.08 L400.60 248.02 L401.21 247.95 L401.83 247.89 L402.44 247.83 L403.05 247.77 L403.66 247.72 L404.27 247.67 L404.89 247.61 L405.50 247.56 L406.11 247.51 L406.72 247.46 L407.34 247.41 L407.95 247.37 L408.56 247.32 L409.17 247.28 L409.79 247.23 L410.40 247.19 L411.01 247.15 L411.62 247.11 L412.24 247.07 L412.85 247.03 L413.46 246.99 L414.07 246.95 L414.68 246.91 L415.30 246.88 L415.91 246.84 L416.52 246.80 L417.13 246.77 L417.75 246.74 L418.36 246.70 L418.97 246.67 L419.58 246.64 L420.20 246.61 L420.81 246.57 L421.42 246.54 L422.03 246.51 L422.64 246.48 L423.26 246.45 L423.87 246.42 L424.48 246.39 L425.09 246.36 L425.71 246.34 L426.32 246.31 L426.93 246.28 L427.54 246.25 L428.16 246.22 L428.77 246.19 L429.38 246.16 L429.99 246.14 L430.61 246.11 L431.22 246.08 L431.83 246.06 L432.44 246.03 L433.05 246.00 L433.67 245.98 L434.28 245.95 L434.89 245.93 L435.50 245.90 L436.12 245.88 L436.73 245.85 L437.34 245.83 L437.95 245.80 L438.57 245.78 L439.18 245.76 L439.79 245.74 L440.40 245.71 L441.01 245.69 L441.63 245.67 L442.24 245.65 L442.85 245.63 L443.46 245.61 L444.08 245.59 L444.69 245.57 L445.30 245.55 L445.91 245.53 L446.53 245.52 L447.14 245.50 L447.75 245.48 L448.36 245.47 L448.98 245.45 L449.59 245.44 L450.20 245.42" stroke="#e0402e" stroke-width="1.3" fill="none" stroke-linejoin="round" clip-path="url(#clipc)"/>
<path d="M266.50 301.77 L267.11 301.87 L267.72 301.97 L268.34 302.08 L268.95 302.18 L269.56 302.29 L270.17 302.40 L270.79 302.51 L271.40 302.62 L272.01 302.74 L272.62 302.85 L273.24 302.97 L273.85 303.09 L274.46 303.21 L275.07 303.33 L275.69 303.46 L276.30 303.58 L276.91 303.71 L277.52 303.84 L278.13 303.97 L278.75 304.10 L279.36 304.23 L279.97 304.37 L280.58 304.50 L281.20 304.64 L281.81 304.77 L282.42 304.91 L283.03 305.05 L283.65 305.19 L284.26 305.33 L284.87 305.48 L285.48 305.62 L286.09 305.76 L286.71 305.91 L287.32 306.06 L287.93 306.21 L288.54 306.36 L289.16 306.52 L289.77 306.68 L290.38 306.84 L290.99 307.01 L291.61 307.18 L292.22 307.35 L292.83 307.52 L293.44 307.69 L294.06 307.87 L294.67 308.04 L295.28 308.22 L295.89 308.40 L296.50 308.58 L297.12 308.75 L297.73 308.93 L298.34 309.11 L298.95 309.29 L299.57 309.47 L300.18 309.65 L300.79 309.84 L301.40 310.04 L302.02 310.24 L302.63 310.46 L303.24 310.69 L303.85 310.92 L304.46 311.16 L305.08 311.40 L305.69 311.64 L306.30 311.89 L306.91 312.13 L307.53 312.37 L308.14 312.61 L308.75 312.85 L309.36 313.08 L309.98 313.30 L310.59 313.51 L311.20 313.71 L311.81 313.91 L312.43 314.08 L313.04 314.25 L313.65 314.40 L314.26 314.53 L314.87 314.64 L315.49 314.74 L316.10 314.81 L316.71 314.86 L317.32 314.89 L317.94 314.88 L318.55 314.84 L319.16 314.75 L319.77 314.63 L320.39 314.47 L321.00 314.29 L321.61 314.08 L322.22 313.85 L322.83 313.59 L323.45 313.29 L324.06 312.92 L324.67 312.46 L325.28 311.91 L325.90 311.29 L326.51 310.59 L327.12 309.83 L327.73 309.01 L328.35 308.11 L328.96 307.12 L329.57 306.00 L330.18 304.72 L330.79 303.28 L331.41 301.66 L332.02 299.87 L332.63 297.82 L333.24 295.42 L333.86 292.56 L334.47 289.28 L335.08 285.63 L335.69 281.62 L336.31 277.21 L336.92 272.58 L337.53 268.05 L338.14 263.95 L338.76 260.36 L339.37 257.16 L339.98 254.19 L340.59 251.30 L341.20 248.36 L341.82 245.26 L342.43 242.01 L343.04 238.87 L343.65 236.21 L344.27 234.15 L344.88 232.53 L345.49 231.15 L346.10 229.96 L346.72 228.99 L347.33 228.28 L347.94 227.87 L348.55 227.78 L349.16 228.02 L349.78 228.54 L350.39 229.29 L351.00 230.20 L351.61 231.21 L352.23 232.25 L352.84 233.30 L353.45 234.39 L354.06 235.56 L354.68 236.82 L355.29 238.12 L355.90 239.42 L356.51 240.67 L357.13 241.83 L357.74 242.91 L358.35 243.93 L358.96 244.90 L359.57 245.81 L360.19 246.63 L360.80 247.33 L361.41 247.94 L362.02 248.46 L362.64 248.93 L363.25 249.35 L363.86 249.72 L364.47 250.04 L365.09 250.30 L365.70 250.51 L366.31 250.68 L366.92 250.83 L367.53 250.96 L368.15 251.07 L368.76 251.16 L369.37 251.23 L369.98 251.27 L370.60 251.30 L371.21 251.32 L371.82 251.34 L372.43 251.35 L373.05 251.37 L373.66 251.37 L374.27 251.37 L374.88 251.36 L375.50 251.34 L376.11 251.30 L376.72 251.25 L377.33 251.18 L377.94 251.11 L378.56 251.03 L379.17 250.94 L379.78 250.85 L380.39 250.76 L381.01 250.67 L381.62 250.59 L382.23 250.50 L382.84 250.41 L383.46 250.32 L384.07 250.22 L384.68 250.12 L385.29 250.02 L385.90 249.91 L386.52 249.80 L387.13 249.69 L387.74 249.58 L388.35 249.47 L388.97 249.36 L389.58 249.25 L390.19 249.15 L390.80 249.04 L391.42 248.94 L392.03 248.85 L392.64 248.76 L393.25 248.67 L393.87 248.59 L394.48 248.51 L395.09 248.43 L395.70 248.36 L396.31 248.28 L396.93 248.21 L397.54 248.13 L398.15 248.06 L398.76 247.99 L399.38 247.93 L399.99 247.86 L400.60 247.79 L401.21 247.73 L401.83 247.67 L402.44 247.61 L403.05 247.55 L403.66 247.49 L404.27 247.44 L404.89 247.39 L405.50 247.33 L406.11 247.28 L406.72 247.23 L407.34 247.18 L407.95 247.13 L408.56 247.08 L409.17 247.03 L409.79 246.99 L410.40 246.94 L411.01 246.89 L411.62 246.85 L412.24 246.80 L412.85 246.76 L413.46 246.71 L414.07 246.67 L414.68 246.63 L415.30 246.59 L415.91 246.55 L416.52 246.51 L417.13 246.47 L417.75 246.44 L418.36 246.40 L418.97 246.37 L419.58 246.34 L420.20 246.30 L420.81 246.28 L421.42 246.25 L422.03 246.22 L422.64 246.19 L423.26 246.17 L423.87 246.14 L424.48 246.12 L425.09 246.09 L425.71 246.07 L426.32 246.05 L426.93 246.02 L427.54 246.00 L428.16 245.97 L428.77 245.95 L429.38 245.93 L429.99 245.90 L430.61 245.88 L431.22 245.86 L431.83 245.84 L432.44 245.81 L433.05 245.79 L433.67 245.77 L434.28 245.75 L434.89 245.73 L435.50 245.71 L436.12 245.69 L436.73 245.67 L437.34 245.65 L437.95 245.64 L438.57 245.62 L439.18 245.60 L439.79 245.59 L440.40 245.57 L441.01 245.56 L441.63 245.54 L442.24 245.53 L442.85 245.52 L443.46 245.50 L444.08 245.49 L444.69 245.48 L445.30 245.47 L445.91 245.46 L446.53 245.45 L447.14 245.45 L447.75 245.44 L448.36 245.43 L448.98 245.43 L449.59 245.43 L450.20 245.42" stroke="#1f9c9c" stroke-width="1.3" fill="none" stroke-linejoin="round" clip-path="url(#clipc)"/>
<path d="M266.50 250.51 L267.11 250.53 L267.72 250.54 L268.34 250.56 L268.95 250.58 L269.56 250.60 L270.17 250.62 L270.79 250.64 L271.40 250.66 L272.01 250.68 L272.62 250.70 L273.24 250.73 L273.85 250.75 L274.46 250.78 L275.07 250.80 L275.69 250.83 L276.30 250.85 L276.91 250.88 L277.52 250.91 L278.13 250.93 L278.75 250.96 L279.36 250.99 L279.97 251.02 L280.58 251.05 L281.20 251.08 L281.81 251.11 L282.42 251.14 L283.03 251.17 L283.65 251.21 L284.26 251.24 L284.87 251.27 L285.48 251.30 L286.09 251.34 L286.71 251.37 L287.32 251.40 L287.93 251.44 L288.54 251.47 L289.16 251.50 L289.77 251.54 L290.38 251.58 L290.99 251.61 L291.61 251.65 L292.22 251.69 L292.83 251.73 L293.44 251.77 L294.06 251.81 L294.67 251.86 L295.28 251.90 L295.89 251.95 L296.50 252.00 L297.12 252.05 L297.73 252.10 L298.34 252.16 L298.95 252.21 L299.57 252.27 L300.18 252.34 L300.79 252.41 L301.40 252.50 L302.02 252.61 L302.63 252.72 L303.24 252.84 L303.85 252.97 L304.46 253.10 L305.08 253.23 L305.69 253.36 L306.30 253.48 L306.91 253.60 L307.53 253.70 L308.14 253.79 L308.75 253.87 L309.36 253.92 L309.98 253.96 L310.59 253.98 L311.20 253.98 L311.81 253.98 L312.43 253.96 L313.04 253.95 L313.65 253.93 L314.26 253.91 L314.87 253.88 L315.49 253.84 L316.10 253.81 L316.71 253.77 L317.32 253.71 L317.94 253.62 L318.55 253.47 L319.16 253.24 L319.77 252.93 L320.39 252.56 L321.00 252.13 L321.61 251.68 L322.22 251.19 L322.83 250.69 L323.45 250.17 L324.06 249.59 L324.67 248.96 L325.28 248.25 L325.90 247.47 L326.51 246.60 L327.12 245.64 L327.73 244.53 L328.35 243.24 L328.96 241.75 L329.57 240.07 L330.18 238.21 L330.79 236.20 L331.41 234.05 L332.02 231.72 L332.63 229.12 L333.24 226.21 L333.86 223.04 L334.47 219.71 L335.08 216.35 L335.69 213.08 L336.31 209.95 L336.92 206.91 L337.53 203.89 L338.14 200.90 L338.76 198.03 L339.37 195.38 L339.98 193.06 L340.59 191.11 L341.20 189.51 L341.82 188.12 L342.43 186.85 L343.04 185.69 L343.65 184.65 L344.27 183.78 L344.88 183.11 L345.49 182.67 L346.10 182.49 L346.72 182.59 L347.33 182.94 L347.94 183.52 L348.55 184.30 L349.16 185.23 L349.78 186.28 L350.39 187.42 L351.00 188.65 L351.61 190.02 L352.23 191.64 L352.84 193.55 L353.45 195.71 L354.06 198.03 L354.68 200.40 L355.29 202.72 L355.90 204.96 L356.51 207.13 L357.13 209.29 L357.74 211.43 L358.35 213.54 L358.96 215.57 L359.57 217.51 L360.19 219.34 L360.80 221.05 L361.41 222.68 L362.02 224.24 L362.64 225.73 L363.25 227.13 L363.86 228.42 L364.47 229.60 L365.09 230.68 L365.70 231.68 L366.31 232.63 L366.92 233.52 L367.53 234.37 L368.15 235.16 L368.76 235.90 L369.37 236.56 L369.98 237.16 L370.60 237.69 L371.21 238.15 L371.82 238.57 L372.43 238.94 L373.05 239.28 L373.66 239.60 L374.27 239.90 L374.88 240.18 L375.50 240.45 L376.11 240.71 L376.72 240.98 L377.33 241.23 L377.94 241.48 L378.56 241.72 L379.17 241.95 L379.78 242.16 L380.39 242.35 L381.01 242.51 L381.62 242.66 L382.23 242.78 L382.84 242.90 L383.46 243.01 L384.07 243.11 L384.68 243.21 L385.29 243.30 L385.90 243.38 L386.52 243.45 L387.13 243.51 L387.74 243.57 L388.35 243.61 L388.97 243.65 L389.58 243.68 L390.19 243.70 L390.80 243.73 L391.42 243.75 L392.03 243.77 L392.64 243.80 L393.25 243.82 L393.87 243.84 L394.48 243.86 L395.09 243.87 L395.70 243.89 L396.31 243.91 L396.93 243.92 L397.54 243.94 L398.15 243.95 L398.76 243.97 L399.38 243.98 L399.99 243.99 L400.60 244.00 L401.21 244.02 L401.83 244.03 L402.44 244.04 L403.05 244.05 L403.66 244.06 L404.27 244.07 L404.89 244.07 L405.50 244.08 L406.11 244.09 L406.72 244.10 L407.34 244.11 L407.95 244.12 L408.56 244.12 L409.17 244.13 L409.79 244.14 L410.40 244.15 L411.01 244.15 L411.62 244.16 L412.24 244.17 L412.85 244.18 L413.46 244.18 L414.07 244.19 L414.68 244.20 L415.30 244.21 L415.91 244.21 L416.52 244.22 L417.13 244.23 L417.75 244.24 L418.36 244.24 L418.97 244.25 L419.58 244.26 L420.20 244.26 L420.81 244.27 L421.42 244.28 L422.03 244.28 L422.64 244.29 L423.26 244.30 L423.87 244.30 L424.48 244.31 L425.09 244.31 L425.71 244.32 L426.32 244.33 L426.93 244.33 L427.54 244.34 L428.16 244.34 L428.77 244.35 L429.38 244.36 L429.99 244.36 L430.61 244.37 L431.22 244.37 L431.83 244.38 L432.44 244.38 L433.05 244.39 L433.67 244.39 L434.28 244.39 L434.89 244.40 L435.50 244.40 L436.12 244.41 L436.73 244.41 L437.34 244.41 L437.95 244.42 L438.57 244.42 L439.18 244.43 L439.79 244.43 L440.40 244.43 L441.01 244.43 L441.63 244.44 L442.24 244.44 L442.85 244.44 L443.46 244.44 L444.08 244.45 L444.69 244.45 L445.30 244.45 L445.91 244.45 L446.53 244.45 L447.14 244.45 L447.75 244.45 L448.36 244.45 L448.98 244.46 L449.59 244.46 L450.20 244.46" stroke="#141414" stroke-width="1.3" fill="none" stroke-linejoin="round" clip-path="url(#clipc)"/>
<rect x="266.50" y="171.40" width="183.70" height="150.60" fill="none" stroke="#5a5a5a" stroke-width="1.1"/>
<text x="266.50" y="332.60" class="tl" text-anchor="middle">-2.0</text>
<text x="286.91" y="332.60" class="tl" text-anchor="middle">-1.5</text>
<text x="307.32" y="332.60" class="tl" text-anchor="middle">-1.0</text>
<text x="327.73" y="332.60" class="tl" text-anchor="middle">-0.5</text>
<text x="348.14" y="332.60" class="tl" text-anchor="middle">0.0</text>
<text x="368.56" y="332.60" class="tl" text-anchor="middle">0.5</text>
<text x="388.97" y="332.60" class="tl" text-anchor="middle">1.0</text>
<text x="409.38" y="332.60" class="tl" text-anchor="middle">1.5</text>
<text x="429.79" y="332.60" class="tl" text-anchor="middle">2.0</text>
<text x="450.20" y="332.60" class="tl" text-anchor="middle">2.5</text>
<text x="263.30" y="183.60" class="tl" text-anchor="end">0.20</text>
<text x="263.30" y="199.70" class="tl" text-anchor="end">0.15</text>
<text x="263.30" y="215.80" class="tl" text-anchor="end">0.10</text>
<text x="263.30" y="231.90" class="tl" text-anchor="end">0.05</text>
<text x="263.30" y="248.00" class="tl" text-anchor="end">0.00</text>
<text x="263.30" y="264.10" class="tl" text-anchor="end">-0.05</text>
<text x="263.30" y="280.20" class="tl" text-anchor="end">-0.10</text>
<text x="263.30" y="296.30" class="tl" text-anchor="end">-0.15</text>
<text x="263.30" y="312.40" class="tl" text-anchor="end">-0.20</text>
<text x="358.35" y="347.00" class="at" text-anchor="middle">x-distance (μm)</text>
<text transform="translate(238.20 250.90) rotate(-90)" class="at" text-anchor="middle">Force (nN)</text>
<text x="229.00" y="182.50" class="pl">c)</text>
<rect x="385.00" y="173.40" width="62.8" height="44.2" fill="#fff" stroke="#b8b8b8" stroke-width="0.7"/>
<path d="M387.20 180.50h20" stroke="#141414" stroke-width="1.4"/>
<text x="409.40" y="183.80" class="lg">DEP Force</text>
<path d="M387.20 191.20h20" stroke="#e0402e" stroke-width="1.4"/>
<text x="409.40" y="194.50" class="lg">EP Force</text>
<path d="M387.20 201.90h20" stroke="#2b35c8" stroke-width="1.4"/>
<text x="409.40" y="205.20" class="lg">EOF Froce</text>
<path d="M387.20 212.60h20" stroke="#1f9c9c" stroke-width="1.4"/>
<text x="409.40" y="215.90" class="lg">Net Force</text>
<text x="272.10" y="186.80" class="an">+V</text>
<path d="M292.10 177.10 L307.40 181.20 L307.40 185.80 L292.10 189.90 Q290.30 183.50 292.10 177.10Z" fill="url(#coneg)"/>
<text x="313.00" y="186.80" class="an">-V</text>
<text x="278.10" y="200.60" class="an">5 V/cm</text>
<clipPath id="clipd"><rect x="493.60" y="172.40" width="181.90" height="148.00"/></clipPath>
<path d="M513.81 172.40V320.40M534.02 172.40V320.40M554.23 172.40V320.40M574.44 172.40V320.40M594.66 172.40V320.40M614.87 172.40V320.40M635.08 172.40V320.40M655.29 172.40V320.40M493.60 182.80H675.50M493.60 203.25H675.50M493.60 223.70H675.50M493.60 244.15H675.50M493.60 264.60H675.50M493.60 285.05H675.50M493.60 305.50H675.50" stroke="#ececf2" stroke-width="0.7" fill="none" stroke-dasharray="1.2 1.2"/>
<path d="M493.60 320.40v-3.0M493.60 172.40v3.0M503.71 320.40v-1.8M503.71 172.40v1.8M513.81 320.40v-3.0M513.81 172.40v3.0M523.92 320.40v-1.8M523.92 172.40v1.8M534.02 320.40v-3.0M534.02 172.40v3.0M544.13 320.40v-1.8M544.13 172.40v1.8M554.23 320.40v-3.0M554.23 172.40v3.0M564.34 320.40v-1.8M564.34 172.40v1.8M574.44 320.40v-3.0M574.44 172.40v3.0M584.55 320.40v-1.8M584.55 172.40v1.8M594.66 320.40v-3.0M594.66 172.40v3.0M604.76 320.40v-1.8M604.76 172.40v1.8M614.87 320.40v-3.0M614.87 172.40v3.0M624.97 320.40v-1.8M624.97 172.40v1.8M635.08 320.40v-3.0M635.08 172.40v3.0M645.18 320.40v-1.8M645.18 172.40v1.8M655.29 320.40v-3.0M655.29 172.40v3.0M665.39 320.40v-1.8M665.39 172.40v1.8M675.50 320.40v-3.0M675.50 172.40v3.0M493.60 315.72h1.8M675.50 315.72h-1.8M493.60 305.50h3.0M675.50 305.50h-3.0M493.60 295.27h1.8M675.50 295.27h-1.8M493.60 285.05h3.0M675.50 285.05h-3.0M493.60 274.82h1.8M675.50 274.82h-1.8M493.60 264.60h3.0M675.50 264.60h-3.0M493.60 254.38h1.8M675.50 254.38h-1.8M493.60 244.15h3.0M675.50 244.15h-3.0M493.60 233.92h1.8M675.50 233.92h-1.8M493.60 223.70h3.0M675.50 223.70h-3.0M493.60 213.47h1.8M675.50 213.47h-1.8M493.60 203.25h3.0M675.50 203.25h-3.0M493.60 193.02h1.8M675.50 193.02h-1.8M493.60 182.80h3.0M675.50 182.80h-3.0M493.60 172.57h1.8M675.50 172.57h-1.8" stroke="#5a5a5a" stroke-width="0.9" fill="none"/>
<path d="M493.60 223.60H675.50" stroke="#2a2a2a" stroke-width="1.15" stroke-dasharray="3 2.3" fill="none"/>
<path d="M493.60 212.76 L494.21 212.72 L494.81 212.67 L495.42 212.63 L496.03 212.59 L496.63 212.55 L497.24 212.50 L497.84 212.46 L498.45 212.42 L499.06 212.38 L499.66 212.34 L500.27 212.31 L500.88 212.27 L501.48 212.23 L502.09 212.19 L502.70 212.16 L503.30 212.12 L503.91 212.09 L504.51 212.06 L505.12 212.02 L505.73 211.99 L506.33 211.96 L506.94 211.93 L507.55 211.90 L508.15 211.87 L508.76 211.84 L509.36 211.81 L509.97 211.79 L510.58 211.76 L511.18 211.73 L511.79 211.71 L512.40 211.69 L513.00 211.66 L513.61 211.64 L514.22 211.62 L514.82 211.60 L515.43 211.58 L516.03 211.57 L516.64 211.55 L517.25 211.54 L517.85 211.52 L518.46 211.51 L519.07 211.49 L519.67 211.48 L520.28 211.47 L520.88 211.45 L521.49 211.44 L522.10 211.43 L522.70 211.42 L523.31 211.41 L523.92 211.39 L524.52 211.38 L525.13 211.37 L525.74 211.35 L526.34 211.34 L526.95 211.32 L527.55 211.30 L528.16 211.29 L528.77 211.27 L529.37 211.25 L529.98 211.22 L530.59 211.20 L531.19 211.17 L531.80 211.14 L532.41 211.10 L533.01 211.07 L533.62 211.03 L534.22 210.98 L534.83 210.94 L535.44 210.90 L536.04 210.85 L536.65 210.80 L537.26 210.76 L537.86 210.71 L538.47 210.67 L539.08 210.63 L539.68 210.59 L540.29 210.55 L540.89 210.51 L541.50 210.48 L542.11 210.45 L542.71 210.42 L543.32 210.40 L543.93 210.38 L544.53 210.36 L545.14 210.34 L545.74 210.32 L546.35 210.30 L546.96 210.28 L547.56 210.26 L548.17 210.24 L548.78 210.22 L549.38 210.21 L549.99 210.19 L550.60 210.18 L551.20 210.16 L551.81 210.15 L552.41 210.14 L553.02 210.13 L553.63 210.12 L554.23 210.11 L554.84 210.11 L555.45 210.10 L556.05 210.10 L556.66 210.11 L557.26 210.12 L557.87 210.13 L558.48 210.16 L559.08 210.19 L559.69 210.23 L560.30 210.27 L560.90 210.32 L561.51 210.37 L562.12 210.42 L562.72 210.48 L563.33 210.54 L563.93 210.61 L564.54 210.70 L565.15 210.80 L565.75 210.94 L566.36 211.09 L566.97 211.27 L567.57 211.47 L568.18 211.68 L568.79 211.90 L569.39 212.13 L570.00 212.36 L570.60 212.60 L571.21 212.84 L571.82 213.07 L572.42 213.30 L573.03 213.52 L573.64 213.73 L574.24 213.95 L574.85 214.17 L575.46 214.40 L576.06 214.63 L576.67 214.86 L577.27 215.09 L577.88 215.33 L578.49 215.56 L579.09 215.79 L579.70 216.01 L580.31 216.23 L580.91 216.45 L581.52 216.66 L582.12 216.86 L582.73 217.05 L583.34 217.24 L583.94 217.43 L584.55 217.62 L585.16 217.80 L585.76 217.99 L586.37 218.16 L586.98 218.34 L587.58 218.51 L588.19 218.68 L588.79 218.85 L589.40 219.01 L590.01 219.17 L590.61 219.32 L591.22 219.46 L591.83 219.60 L592.43 219.73 L593.04 219.86 L593.64 219.98 L594.25 220.10 L594.86 220.21 L595.46 220.32 L596.07 220.43 L596.68 220.53 L597.28 220.63 L597.89 220.73 L598.50 220.82 L599.10 220.91 L599.71 221.00 L600.31 221.09 L600.92 221.17 L601.53 221.26 L602.13 221.35 L602.74 221.43 L603.35 221.52 L603.95 221.60 L604.56 221.68 L605.17 221.76 L605.77 221.83 L606.38 221.91 L606.98 221.98 L607.59 222.04 L608.20 222.10 L608.80 222.16 L609.41 222.22 L610.02 222.27 L610.62 222.31 L611.23 222.36 L611.84 222.41 L612.44 222.45 L613.05 222.50 L613.65 222.54 L614.26 222.58 L614.87 222.62 L615.47 222.66 L616.08 222.70 L616.69 222.74 L617.29 222.77 L617.90 222.80 L618.50 222.83 L619.11 222.86 L619.72 222.89 L620.32 222.91 L620.93 222.93 L621.54 222.95 L622.14 222.97 L622.75 222.98 L623.36 222.99 L623.96 223.00 L624.57 223.01 L625.17 223.02 L625.78 223.03 L626.39 223.04 L626.99 223.05 L627.60 223.06 L628.21 223.06 L628.81 223.07 L629.42 223.08 L630.02 223.09 L630.63 223.10 L631.24 223.11 L631.84 223.11 L632.45 223.12 L633.06 223.13 L633.66 223.14 L634.27 223.15 L634.88 223.15 L635.48 223.16 L636.09 223.17 L636.69 223.17 L637.30 223.18 L637.91 223.19 L638.51 223.19 L639.12 223.20 L639.73 223.21 L640.33 223.21 L640.94 223.22 L641.55 223.23 L642.15 223.23 L642.76 223.24 L643.36 223.24 L643.97 223.25 L644.58 223.26 L645.18 223.26 L645.79 223.27 L646.40 223.27 L647.00 223.28 L647.61 223.28 L648.22 223.29 L648.82 223.29 L649.43 223.30 L650.03 223.30 L650.64 223.30 L651.25 223.31 L651.85 223.31 L652.46 223.32 L653.07 223.32 L653.67 223.33 L654.28 223.33 L654.88 223.33 L655.49 223.34 L656.10 223.34 L656.70 223.34 L657.31 223.35 L657.92 223.35 L658.52 223.35 L659.13 223.36 L659.74 223.36 L660.34 223.36 L660.95 223.36 L661.55 223.37 L662.16 223.37 L662.77 223.37 L663.37 223.37 L663.98 223.37 L664.59 223.38 L665.19 223.38 L665.80 223.38 L666.40 223.38 L667.01 223.38 L667.62 223.38 L668.22 223.39 L668.83 223.39 L669.44 223.39 L670.04 223.39 L670.65 223.39 L671.26 223.39 L671.86 223.39 L672.47 223.39 L673.07 223.39 L673.68 223.39 L674.29 223.39 L674.89 223.39 L675.50 223.39" stroke="#2b35c8" stroke-width="1.3" fill="none" stroke-linejoin="round" clip-path="url(#clipd)"/>
<path d="M493.60 296.40 L494.21 296.51 L494.81 296.63 L495.42 296.75 L496.03 296.87 L496.63 296.99 L497.24 297.11 L497.84 297.24 L498.45 297.37 L499.06 297.50 L499.66 297.63 L500.27 297.76 L500.88 297.90 L501.48 298.04 L502.09 298.18 L502.70 298.32 L503.30 298.46 L503.91 298.61 L504.51 298.76 L505.12 298.91 L505.73 299.06 L506.33 299.21 L506.94 299.36 L507.55 299.52 L508.15 299.68 L508.76 299.83 L509.36 299.99 L509.97 300.16 L510.58 300.32 L511.18 300.48 L511.79 300.65 L512.40 300.81 L513.00 300.98 L513.61 301.15 L514.22 301.32 L514.82 301.50 L515.43 301.68 L516.03 301.86 L516.64 302.05 L517.25 302.24 L517.85 302.44 L518.46 302.64 L519.07 302.84 L519.67 303.05 L520.28 303.25 L520.88 303.46 L521.49 303.67 L522.10 303.88 L522.70 304.10 L523.31 304.31 L523.92 304.53 L524.52 304.74 L525.13 304.95 L525.74 305.17 L526.34 305.38 L526.95 305.59 L527.55 305.80 L528.16 306.01 L528.77 306.22 L529.37 306.42 L529.98 306.62 L530.59 306.83 L531.19 307.03 L531.80 307.23 L532.41 307.44 L533.01 307.64 L533.62 307.85 L534.22 308.05 L534.83 308.26 L535.44 308.46 L536.04 308.66 L536.65 308.86 L537.26 309.05 L537.86 309.24 L538.47 309.43 L539.08 309.62 L539.68 309.80 L540.29 309.98 L540.89 310.15 L541.50 310.33 L542.11 310.49 L542.71 310.65 L543.32 310.81 L543.93 310.95 L544.53 311.09 L545.14 311.23 L545.74 311.37 L546.35 311.51 L546.96 311.65 L547.56 311.80 L548.17 311.94 L548.78 312.08 L549.38 312.21 L549.99 312.34 L550.60 312.47 L551.20 312.58 L551.81 312.69 L552.41 312.80 L553.02 312.89 L553.63 312.97 L554.23 313.03 L554.84 313.09 L555.45 313.13 L556.05 313.14 L556.66 313.13 L557.26 313.05 L557.87 312.89 L558.48 312.65 L559.08 312.33 L559.69 311.94 L560.30 311.49 L560.90 310.99 L561.51 310.45 L562.12 309.89 L562.72 309.31 L563.33 308.71 L563.93 308.07 L564.54 307.36 L565.15 306.57 L565.75 305.68 L566.36 304.72 L566.97 303.68 L567.57 302.57 L568.18 301.41 L568.79 300.20 L569.39 298.96 L570.00 297.69 L570.60 296.38 L571.21 295.01 L571.82 293.53 L572.42 291.95 L573.03 290.28 L573.64 288.57 L574.24 286.84 L574.85 285.14 L575.46 283.49 L576.06 281.92 L576.67 280.41 L577.27 278.93 L577.88 277.47 L578.49 276.03 L579.09 274.61 L579.70 273.22 L580.31 271.86 L580.91 270.53 L581.52 269.24 L582.12 267.99 L582.73 266.78 L583.34 265.62 L583.94 264.50 L584.55 263.41 L585.16 262.35 L585.76 261.32 L586.37 260.31 L586.98 259.32 L587.58 258.35 L588.19 257.40 L588.79 256.47 L589.40 255.56 L590.01 254.65 L590.61 253.77 L591.22 252.89 L591.83 252.02 L592.43 251.16 L593.04 250.31 L593.64 249.46 L594.25 248.63 L594.86 247.81 L595.46 246.99 L596.07 246.20 L596.68 245.41 L597.28 244.65 L597.89 243.90 L598.50 243.17 L599.10 242.46 L599.71 241.77 L600.31 241.11 L600.92 240.46 L601.53 239.83 L602.13 239.22 L602.74 238.62 L603.35 238.05 L603.95 237.49 L604.56 236.97 L605.17 236.48 L605.77 236.02 L606.38 235.58 L606.98 235.16 L607.59 234.77 L608.20 234.38 L608.80 234.02 L609.41 233.67 L610.02 233.34 L610.62 233.03 L611.23 232.73 L611.84 232.44 L612.44 232.17 L613.05 231.90 L613.65 231.64 L614.26 231.38 L614.87 231.13 L615.47 230.88 L616.08 230.64 L616.69 230.40 L617.29 230.17 L617.90 229.96 L618.50 229.74 L619.11 229.54 L619.72 229.35 L620.32 229.17 L620.93 228.99 L621.54 228.83 L622.14 228.68 L622.75 228.54 L623.36 228.41 L623.96 228.29 L624.57 228.17 L625.17 228.05 L625.78 227.94 L626.39 227.83 L626.99 227.73 L627.60 227.63 L628.21 227.53 L628.81 227.43 L629.42 227.33 L630.02 227.24 L630.63 227.15 L631.24 227.07 L631.84 226.98 L632.45 226.90 L633.06 226.82 L633.66 226.75 L634.27 226.68 L634.88 226.61 L635.48 226.54 L636.09 226.47 L636.69 226.41 L637.30 226.35 L637.91 226.30 L638.51 226.24 L639.12 226.19 L639.73 226.14 L640.33 226.09 L640.94 226.05 L641.55 226.01 L642.15 225.96 L642.76 225.92 L643.36 225.88 L643.97 225.84 L644.58 225.80 L645.18 225.76 L645.79 225.71 L646.40 225.67 L647.00 225.63 L647.61 225.59 L648.22 225.55 L648.82 225.52 L649.43 225.48 L650.03 225.44 L650.64 225.40 L651.25 225.36 L651.85 225.33 L652.46 225.29 L653.07 225.26 L653.67 225.22 L654.28 225.19 L654.88 225.15 L655.49 225.12 L656.10 225.09 L656.70 225.06 L657.31 225.02 L657.92 224.99 L658.52 224.96 L659.13 224.94 L659.74 224.91 L660.34 224.88 L660.95 224.85 L661.55 224.83 L662.16 224.80 L662.77 224.78 L663.37 224.76 L663.98 224.74 L664.59 224.71 L665.19 224.69 L665.80 224.67 L666.40 224.66 L667.01 224.64 L667.62 224.62 L668.22 224.61 L668.83 224.59 L669.44 224.58 L670.04 224.57 L670.65 224.56 L671.26 224.55 L671.86 224.54 L672.47 224.53 L673.07 224.53 L673.68 224.52 L674.29 224.52 L674.89 224.52 L675.50 224.52" stroke="#e0402e" stroke-width="1.3" fill="none" stroke-linejoin="round" clip-path="url(#clipd)"/>
<path d="M493.60 288.63 L494.21 288.80 L494.81 288.97 L495.42 289.14 L496.03 289.31 L496.63 289.48 L497.24 289.65 L497.84 289.82 L498.45 289.99 L499.06 290.16 L499.66 290.33 L500.27 290.50 L500.88 290.67 L501.48 290.84 L502.09 291.01 L502.70 291.18 L503.30 291.35 L503.91 291.51 L504.51 291.68 L505.12 291.85 L505.73 292.02 L506.33 292.19 L506.94 292.36 L507.55 292.52 L508.15 292.69 L508.76 292.86 L509.36 293.03 L509.97 293.19 L510.58 293.36 L511.18 293.53 L511.79 293.70 L512.40 293.86 L513.00 294.03 L513.61 294.20 L514.22 294.36 L514.82 294.53 L515.43 294.69 L516.03 294.86 L516.64 295.02 L517.25 295.18 L517.85 295.35 L518.46 295.51 L519.07 295.67 L519.67 295.83 L520.28 296.00 L520.88 296.16 L521.49 296.32 L522.10 296.48 L522.70 296.65 L523.31 296.81 L523.92 296.97 L524.52 297.14 L525.13 297.30 L525.74 297.47 L526.34 297.63 L526.95 297.80 L527.55 297.97 L528.16 298.14 L528.77 298.31 L529.37 298.48 L529.98 298.65 L530.59 298.83 L531.19 299.02 L531.80 299.21 L532.41 299.40 L533.01 299.60 L533.62 299.80 L534.22 299.99 L534.83 300.19 L535.44 300.38 L536.04 300.56 L536.65 300.74 L537.26 300.91 L537.86 301.06 L538.47 301.21 L539.08 301.35 L539.68 301.48 L540.29 301.62 L540.89 301.75 L541.50 301.89 L542.11 302.02 L542.71 302.16 L543.32 302.28 L543.93 302.40 L544.53 302.52 L545.14 302.63 L545.74 302.72 L546.35 302.81 L546.96 302.88 L547.56 302.95 L548.17 302.99 L548.78 303.02 L549.38 303.02 L549.99 302.98 L550.60 302.89 L551.20 302.74 L551.81 302.53 L552.41 302.27 L553.02 301.96 L553.63 301.61 L554.23 301.22 L554.84 300.81 L555.45 300.36 L556.05 299.89 L556.66 299.38 L557.26 298.78 L557.87 298.07 L558.48 297.22 L559.08 296.26 L559.69 295.19 L560.30 294.03 L560.90 292.77 L561.51 291.42 L562.12 289.92 L562.72 288.21 L563.33 286.26 L563.93 284.13 L564.54 281.87 L565.15 279.56 L565.75 277.19 L566.36 274.74 L566.97 272.21 L567.57 269.68 L568.18 267.24 L568.79 264.96 L569.39 262.85 L570.00 260.87 L570.60 258.99 L571.21 257.20 L571.82 255.54 L572.42 254.02 L573.03 252.67 L573.64 251.47 L574.24 250.38 L574.85 249.37 L575.46 248.42 L576.06 247.53 L576.67 246.70 L577.27 245.94 L577.88 245.25 L578.49 244.65 L579.09 244.13 L579.70 243.68 L580.31 243.30 L580.91 242.96 L581.52 242.65 L582.12 242.37 L582.73 242.12 L583.34 241.88 L583.94 241.66 L584.55 241.44 L585.16 241.24 L585.76 241.04 L586.37 240.83 L586.98 240.62 L587.58 240.41 L588.19 240.18 L588.79 239.94 L589.40 239.70 L590.01 239.46 L590.61 239.22 L591.22 238.98 L591.83 238.74 L592.43 238.50 L593.04 238.26 L593.64 238.02 L594.25 237.78 L594.86 237.54 L595.46 237.30 L596.07 237.06 L596.68 236.82 L597.28 236.57 L597.89 236.33 L598.50 236.08 L599.10 235.83 L599.71 235.57 L600.31 235.32 L600.92 235.05 L601.53 234.77 L602.13 234.49 L602.74 234.20 L603.35 233.91 L603.95 233.61 L604.56 233.31 L605.17 233.01 L605.77 232.72 L606.38 232.42 L606.98 232.14 L607.59 231.86 L608.20 231.59 L608.80 231.32 L609.41 231.07 L610.02 230.84 L610.62 230.61 L611.23 230.41 L611.84 230.21 L612.44 230.03 L613.05 229.85 L613.65 229.68 L614.26 229.52 L614.87 229.35 L615.47 229.20 L616.08 229.04 L616.69 228.89 L617.29 228.75 L617.90 228.61 L618.50 228.48 L619.11 228.35 L619.72 228.22 L620.32 228.10 L620.93 227.99 L621.54 227.88 L622.14 227.78 L622.75 227.68 L623.36 227.59 L623.96 227.50 L624.57 227.41 L625.17 227.33 L625.78 227.24 L626.39 227.16 L626.99 227.08 L627.60 227.00 L628.21 226.93 L628.81 226.85 L629.42 226.78 L630.02 226.71 L630.63 226.64 L631.24 226.57 L631.84 226.51 L632.45 226.45 L633.06 226.38 L633.66 226.32 L634.27 226.27 L634.88 226.21 L635.48 226.15 L636.09 226.10 L636.69 226.05 L637.30 226.00 L637.91 225.95 L638.51 225.91 L639.12 225.86 L639.73 225.82 L640.33 225.78 L640.94 225.74 L641.55 225.70 L642.15 225.67 L642.76 225.63 L643.36 225.59 L643.97 225.55 L644.58 225.52 L645.18 225.48 L645.79 225.44 L646.40 225.41 L647.00 225.37 L647.61 225.33 L648.22 225.30 L648.82 225.26 L649.43 225.23 L650.03 225.19 L650.64 225.16 L651.25 225.12 L651.85 225.09 L652.46 225.05 L653.07 225.02 L653.67 224.99 L654.28 224.96 L654.88 224.92 L655.49 224.89 L656.10 224.86 L656.70 224.83 L657.31 224.80 L657.92 224.77 L658.52 224.75 L659.13 224.72 L659.74 224.69 L660.34 224.67 L660.95 224.64 L661.55 224.62 L662.16 224.59 L662.77 224.57 L663.37 224.55 L663.98 224.53 L664.59 224.50 L665.19 224.49 L665.80 224.47 L666.40 224.45 L667.01 224.43 L667.62 224.42 L668.22 224.40 L668.83 224.39 L669.44 224.38 L670.04 224.36 L670.65 224.35 L671.26 224.35 L671.86 224.34 L672.47 224.33 L673.07 224.32 L673.68 224.32 L674.29 224.32 L674.89 224.31 L675.50 224.31" stroke="#1f9c9c" stroke-width="1.3" fill="none" stroke-linejoin="round" clip-path="url(#clipd)"/>
<path d="M493.60 226.46 L494.21 226.47 L494.81 226.49 L495.42 226.50 L496.03 226.51 L496.63 226.53 L497.24 226.54 L497.84 226.56 L498.45 226.57 L499.06 226.59 L499.66 226.60 L500.27 226.61 L500.88 226.63 L501.48 226.64 L502.09 226.66 L502.70 226.67 L503.30 226.69 L503.91 226.71 L504.51 226.72 L505.12 226.74 L505.73 226.75 L506.33 226.77 L506.94 226.78 L507.55 226.80 L508.15 226.82 L508.76 226.83 L509.36 226.85 L509.97 226.87 L510.58 226.88 L511.18 226.90 L511.79 226.92 L512.40 226.93 L513.00 226.95 L513.61 226.97 L514.22 226.98 L514.82 227.00 L515.43 227.02 L516.03 227.04 L516.64 227.05 L517.25 227.07 L517.85 227.09 L518.46 227.11 L519.07 227.13 L519.67 227.14 L520.28 227.16 L520.88 227.18 L521.49 227.20 L522.10 227.22 L522.70 227.24 L523.31 227.26 L523.92 227.28 L524.52 227.30 L525.13 227.32 L525.74 227.34 L526.34 227.36 L526.95 227.38 L527.55 227.40 L528.16 227.42 L528.77 227.44 L529.37 227.46 L529.98 227.48 L530.59 227.51 L531.19 227.53 L531.80 227.56 L532.41 227.59 L533.01 227.62 L533.62 227.65 L534.22 227.68 L534.83 227.71 L535.44 227.74 L536.04 227.77 L536.65 227.80 L537.26 227.83 L537.86 227.86 L538.47 227.88 L539.08 227.91 L539.68 227.93 L540.29 227.95 L540.89 227.96 L541.50 227.98 L542.11 227.99 L542.71 227.99 L543.32 227.98 L543.93 227.95 L544.53 227.89 L545.14 227.81 L545.74 227.71 L546.35 227.58 L546.96 227.44 L547.56 227.28 L548.17 227.10 L548.78 226.92 L549.38 226.71 L549.99 226.48 L550.60 226.20 L551.20 225.86 L551.81 225.47 L552.41 225.03 L553.02 224.53 L553.63 224.00 L554.23 223.43 L554.84 222.82 L555.45 222.13 L556.05 221.36 L556.66 220.48 L557.26 219.52 L557.87 218.48 L558.48 217.39 L559.08 216.25 L559.69 215.06 L560.30 213.80 L560.90 212.45 L561.51 210.98 L562.12 209.42 L562.72 207.82 L563.33 206.21 L563.93 204.64 L564.54 203.15 L565.15 201.77 L565.75 200.47 L566.36 199.20 L566.97 197.98 L567.57 196.86 L568.18 195.89 L568.79 195.15 L569.39 194.61 L570.00 194.24 L570.60 193.95 L571.21 193.70 L571.82 193.50 L572.42 193.34 L573.03 193.23 L573.64 193.19 L574.24 193.23 L574.85 193.38 L575.46 193.65 L576.06 194.02 L576.67 194.47 L577.27 194.98 L577.88 195.53 L578.49 196.15 L579.09 196.87 L579.70 197.74 L580.31 198.74 L580.91 199.85 L581.52 201.01 L582.12 202.19 L582.73 203.34 L583.34 204.43 L583.94 205.47 L584.55 206.49 L585.16 207.49 L585.76 208.49 L586.37 209.46 L586.98 210.39 L587.58 211.26 L588.19 212.06 L588.79 212.79 L589.40 213.45 L590.01 214.06 L590.61 214.64 L591.22 215.20 L591.83 215.72 L592.43 216.21 L593.04 216.67 L593.64 217.10 L594.25 217.49 L594.86 217.84 L595.46 218.16 L596.07 218.45 L596.68 218.72 L597.28 218.97 L597.89 219.21 L598.50 219.43 L599.10 219.65 L599.71 219.85 L600.31 220.04 L600.92 220.21 L601.53 220.38 L602.13 220.54 L602.74 220.70 L603.35 220.84 L603.95 220.98 L604.56 221.12 L605.17 221.25 L605.77 221.38 L606.38 221.50 L606.98 221.61 L607.59 221.72 L608.20 221.82 L608.80 221.91 L609.41 221.99 L610.02 222.06 L610.62 222.13 L611.23 222.19 L611.84 222.25 L612.44 222.31 L613.05 222.37 L613.65 222.43 L614.26 222.49 L614.87 222.54 L615.47 222.59 L616.08 222.64 L616.69 222.68 L617.29 222.73 L617.90 222.77 L618.50 222.81 L619.11 222.84 L619.72 222.87 L620.32 222.90 L620.93 222.93 L621.54 222.95 L622.14 222.96 L622.75 222.98 L623.36 222.99 L623.96 223.00 L624.57 223.01 L625.17 223.02 L625.78 223.03 L626.39 223.04 L626.99 223.05 L627.60 223.06 L628.21 223.07 L628.81 223.08 L629.42 223.08 L630.02 223.09 L630.63 223.10 L631.24 223.11 L631.84 223.12 L632.45 223.13 L633.06 223.13 L633.66 223.14 L634.27 223.15 L634.88 223.16 L635.48 223.16 L636.09 223.17 L636.69 223.18 L637.30 223.19 L637.91 223.19 L638.51 223.20 L639.12 223.21 L639.73 223.21 L640.33 223.22 L640.94 223.23 L641.55 223.23 L642.15 223.24 L642.76 223.24 L643.36 223.25 L643.97 223.25 L644.58 223.26 L645.18 223.27 L645.79 223.27 L646.40 223.28 L647.00 223.28 L647.61 223.29 L648.22 223.29 L648.82 223.30 L649.43 223.30 L650.03 223.30 L650.64 223.31 L651.25 223.31 L651.85 223.32 L652.46 223.32 L653.07 223.33 L653.67 223.33 L654.28 223.33 L654.88 223.34 L655.49 223.34 L656.10 223.34 L656.70 223.35 L657.31 223.35 L657.92 223.35 L658.52 223.35 L659.13 223.36 L659.74 223.36 L660.34 223.36 L660.95 223.37 L661.55 223.37 L662.16 223.37 L662.77 223.37 L663.37 223.37 L663.98 223.38 L664.59 223.38 L665.19 223.38 L665.80 223.38 L666.40 223.38 L667.01 223.38 L667.62 223.39 L668.22 223.39 L668.83 223.39 L669.44 223.39 L670.04 223.39 L670.65 223.39 L671.26 223.39 L671.86 223.39 L672.47 223.39 L673.07 223.39 L673.68 223.39 L674.29 223.39 L674.89 223.39 L675.50 223.39" stroke="#141414" stroke-width="1.3" fill="none" stroke-linejoin="round" clip-path="url(#clipd)"/>
<rect x="493.60" y="172.40" width="181.90" height="148.00" fill="none" stroke="#5a5a5a" stroke-width="1.1"/>
<text x="493.60" y="331.00" class="tl" text-anchor="middle">-2.0</text>
<text x="513.81" y="331.00" class="tl" text-anchor="middle">-1.5</text>
<text x="534.02" y="331.00" class="tl" text-anchor="middle">-1.0</text>
<text x="554.23" y="331.00" class="tl" text-anchor="middle">-0.5</text>
<text x="574.44" y="331.00" class="tl" text-anchor="middle">0.0</text>
<text x="594.66" y="331.00" class="tl" text-anchor="middle">0.5</text>
<text x="614.87" y="331.00" class="tl" text-anchor="middle">1.0</text>
<text x="635.08" y="331.00" class="tl" text-anchor="middle">1.5</text>
<text x="655.29" y="331.00" class="tl" text-anchor="middle">2.0</text>
<text x="675.50" y="331.00" class="tl" text-anchor="middle">2.5</text>
<text x="490.40" y="185.70" class="tl" text-anchor="end">0.04</text>
<text x="490.40" y="206.15" class="tl" text-anchor="end">0.02</text>
<text x="490.40" y="226.60" class="tl" text-anchor="end">0.00</text>
<text x="490.40" y="247.05" class="tl" text-anchor="end">-0.02</text>
<text x="490.40" y="267.50" class="tl" text-anchor="end">-0.04</text>
<text x="490.40" y="287.95" class="tl" text-anchor="end">-0.06</text>
<text x="490.40" y="308.40" class="tl" text-anchor="end">-0.08</text>
<text x="584.55" y="345.40" class="at" text-anchor="middle">x-distance (μm)</text>
<text transform="translate(465.20 250.20) rotate(-90)" class="at" text-anchor="middle">Force (nN)</text>
<text x="459.70" y="182.60" class="pl">d)</text>
<rect x="610.60" y="174.40" width="62.8" height="44.2" fill="#fff" stroke="#b8b8b8" stroke-width="0.7"/>
<path d="M612.80 181.50h20" stroke="#141414" stroke-width="1.4"/>
<text x="635.00" y="184.80" class="lg">DEP Force</text>
<path d="M612.80 192.20h20" stroke="#e0402e" stroke-width="1.4"/>
<text x="635.00" y="195.50" class="lg">EP Force</text>
<path d="M612.80 202.90h20" stroke="#2b35c8" stroke-width="1.4"/>
<text x="635.00" y="206.20" class="lg">EOF Force</text>
<path d="M612.80 213.60h20" stroke="#1f9c9c" stroke-width="1.4"/>
<text x="635.00" y="216.90" class="lg">Net Force</text>
<text x="501.20" y="186.80" class="an">+V</text>
<path d="M521.10 177.10 L536.40 181.20 L536.40 185.80 L521.10 189.90 Q519.30 183.50 521.10 177.10Z" fill="url(#coneg)"/>
<text x="542.00" y="186.80" class="an">-V</text>
<text x="506.80" y="200.60" class="an">3.33 V/cm</text>
<clipPath id="clipe"><rect x="35.50" y="356.30" width="183.90" height="149.00"/></clipPath>
<path d="M55.93 356.30V505.30M76.37 356.30V505.30M96.80 356.30V505.30M117.23 356.30V505.30M137.67 356.30V505.30M158.10 356.30V505.30M178.53 356.30V505.30M198.97 356.30V505.30M35.50 374.90H219.40M35.50 393.52H219.40M35.50 412.14H219.40M35.50 430.76H219.40M35.50 449.38H219.40M35.50 468.00H219.40M35.50 486.62H219.40" stroke="#ececf2" stroke-width="0.7" fill="none" stroke-dasharray="1.2 1.2"/>
<path d="M35.50 505.30v-3.0M35.50 356.30v3.0M45.72 505.30v-1.8M45.72 356.30v1.8M55.93 505.30v-3.0M55.93 356.30v3.0M66.15 505.30v-1.8M66.15 356.30v1.8M76.37 505.30v-3.0M76.37 356.30v3.0M86.58 505.30v-1.8M86.58 356.30v1.8M96.80 505.30v-3.0M96.80 356.30v3.0M107.02 505.30v-1.8M107.02 356.30v1.8M117.23 505.30v-3.0M117.23 356.30v3.0M127.45 505.30v-1.8M127.45 356.30v1.8M137.67 505.30v-3.0M137.67 356.30v3.0M147.88 505.30v-1.8M147.88 356.30v1.8M158.10 505.30v-3.0M158.10 356.30v3.0M168.32 505.30v-1.8M168.32 356.30v1.8M178.53 505.30v-3.0M178.53 356.30v3.0M188.75 505.30v-1.8M188.75 356.30v1.8M198.97 505.30v-3.0M198.97 356.30v3.0M209.18 505.30v-1.8M209.18 356.30v1.8M219.40 505.30v-3.0M219.40 356.30v3.0M35.50 505.24h3.0M219.40 505.24h-3.0M35.50 495.93h1.8M219.40 495.93h-1.8M35.50 486.62h3.0M219.40 486.62h-3.0M35.50 477.31h1.8M219.40 477.31h-1.8M35.50 468.00h3.0M219.40 468.00h-3.0M35.50 458.69h1.8M219.40 458.69h-1.8M35.50 449.38h3.0M219.40 449.38h-3.0M35.50 440.07h1.8M219.40 440.07h-1.8M35.50 430.76h3.0M219.40 430.76h-3.0M35.50 421.45h1.8M219.40 421.45h-1.8M35.50 412.14h3.0M219.40 412.14h-3.0M35.50 402.83h1.8M219.40 402.83h-1.8M35.50 393.52h3.0M219.40 393.52h-3.0M35.50 384.21h1.8M219.40 384.21h-1.8M35.50 374.90h3.0M219.40 374.90h-3.0M35.50 365.59h1.8M219.40 365.59h-1.8" stroke="#5a5a5a" stroke-width="0.9" fill="none"/>
<path d="M35.50 468.20H219.40" stroke="#2a2a2a" stroke-width="1.15" stroke-dasharray="3 2.3" fill="none"/>
<path d="M35.50 471.82 L36.11 471.84 L36.73 471.86 L37.34 471.87 L37.95 471.89 L38.56 471.91 L39.18 471.93 L39.79 471.95 L40.40 471.97 L41.02 471.99 L41.63 472.01 L42.24 472.03 L42.86 472.05 L43.47 472.07 L44.08 472.09 L44.70 472.11 L45.31 472.13 L45.92 472.15 L46.53 472.17 L47.15 472.19 L47.76 472.21 L48.37 472.23 L48.99 472.25 L49.60 472.27 L50.21 472.29 L50.83 472.31 L51.44 472.33 L52.05 472.35 L52.66 472.37 L53.28 472.39 L53.89 472.41 L54.50 472.43 L55.12 472.45 L55.73 472.47 L56.34 472.49 L56.95 472.51 L57.57 472.53 L58.18 472.55 L58.79 472.58 L59.41 472.60 L60.02 472.62 L60.63 472.64 L61.25 472.66 L61.86 472.68 L62.47 472.70 L63.08 472.72 L63.70 472.75 L64.31 472.77 L64.92 472.79 L65.54 472.81 L66.15 472.83 L66.76 472.85 L67.38 472.88 L67.99 472.90 L68.60 472.92 L69.22 472.94 L69.83 472.96 L70.44 472.98 L71.05 473.01 L71.67 473.03 L72.28 473.05 L72.89 473.07 L73.51 473.10 L74.12 473.12 L74.73 473.14 L75.34 473.16 L75.96 473.19 L76.57 473.21 L77.18 473.23 L77.80 473.25 L78.41 473.28 L79.02 473.30 L79.64 473.32 L80.25 473.35 L80.86 473.37 L81.47 473.39 L82.09 473.42 L82.70 473.44 L83.31 473.46 L83.93 473.49 L84.54 473.51 L85.15 473.54 L85.77 473.56 L86.38 473.59 L86.99 473.61 L87.60 473.64 L88.22 473.66 L88.83 473.69 L89.44 473.72 L90.06 473.74 L90.67 473.77 L91.28 473.80 L91.90 473.82 L92.51 473.85 L93.12 473.87 L93.73 473.90 L94.35 473.93 L94.96 473.95 L95.57 473.98 L96.19 474.00 L96.80 474.03 L97.41 474.05 L98.03 474.08 L98.64 474.10 L99.25 474.13 L99.86 474.15 L100.48 474.17 L101.09 474.20 L101.70 474.22 L102.32 474.24 L102.93 474.26 L103.54 474.28 L104.16 474.30 L104.77 474.32 L105.38 474.34 L105.99 474.37 L106.61 474.39 L107.22 474.41 L107.83 474.43 L108.45 474.45 L109.06 474.48 L109.67 474.50 L110.29 474.52 L110.90 474.54 L111.51 474.56 L112.12 474.58 L112.74 474.60 L113.35 474.62 L113.96 474.64 L114.58 474.65 L115.19 474.66 L115.80 474.68 L116.42 474.69 L117.03 474.69 L117.64 474.70 L118.25 474.70 L118.87 474.69 L119.48 474.68 L120.09 474.65 L120.71 474.60 L121.32 474.55 L121.93 474.48 L122.55 474.41 L123.16 474.33 L123.77 474.24 L124.38 474.15 L125.00 474.05 L125.61 473.96 L126.22 473.86 L126.84 473.76 L127.45 473.67 L128.06 473.58 L128.68 473.49 L129.29 473.41 L129.90 473.32 L130.51 473.24 L131.13 473.15 L131.74 473.06 L132.35 472.96 L132.97 472.87 L133.58 472.78 L134.19 472.68 L134.81 472.59 L135.42 472.49 L136.03 472.40 L136.65 472.30 L137.26 472.21 L137.87 472.11 L138.48 472.02 L139.10 471.93 L139.71 471.84 L140.32 471.75 L140.94 471.66 L141.55 471.57 L142.16 471.48 L142.78 471.39 L143.39 471.30 L144.00 471.21 L144.61 471.12 L145.23 471.03 L145.84 470.94 L146.45 470.86 L147.07 470.77 L147.68 470.69 L148.29 470.60 L148.91 470.52 L149.52 470.44 L150.13 470.37 L150.74 470.30 L151.36 470.23 L151.97 470.16 L152.58 470.10 L153.20 470.04 L153.81 469.98 L154.42 469.92 L155.03 469.86 L155.65 469.80 L156.26 469.75 L156.87 469.69 L157.49 469.64 L158.10 469.58 L158.71 469.53 L159.33 469.48 L159.94 469.43 L160.55 469.39 L161.16 469.34 L161.78 469.30 L162.39 469.25 L163.00 469.21 L163.62 469.17 L164.23 469.14 L164.84 469.10 L165.46 469.07 L166.07 469.04 L166.68 469.01 L167.30 468.98 L167.91 468.95 L168.52 468.92 L169.13 468.89 L169.75 468.87 L170.36 468.84 L170.97 468.82 L171.59 468.80 L172.20 468.77 L172.81 468.75 L173.43 468.73 L174.04 468.71 L174.65 468.69 L175.26 468.67 L175.88 468.65 L176.49 468.63 L177.10 468.61 L177.72 468.59 L178.33 468.57 L178.94 468.56 L179.56 468.54 L180.17 468.53 L180.78 468.51 L181.39 468.49 L182.01 468.48 L182.62 468.47 L183.23 468.45 L183.85 468.44 L184.46 468.42 L185.07 468.41 L185.69 468.40 L186.30 468.38 L186.91 468.37 L187.52 468.36 L188.14 468.35 L188.75 468.33 L189.36 468.32 L189.98 468.31 L190.59 468.30 L191.20 468.29 L191.81 468.28 L192.43 468.27 L193.04 468.26 L193.65 468.25 L194.27 468.24 L194.88 468.23 L195.49 468.22 L196.11 468.21 L196.72 468.21 L197.33 468.20 L197.94 468.19 L198.56 468.19 L199.17 468.18 L199.78 468.18 L200.40 468.18 L201.01 468.17 L201.62 468.17 L202.24 468.16 L202.85 468.16 L203.46 468.15 L204.07 468.15 L204.69 468.15 L205.30 468.14 L205.91 468.14 L206.53 468.14 L207.14 468.13 L207.75 468.13 L208.37 468.13 L208.98 468.12 L209.59 468.12 L210.20 468.12 L210.82 468.11 L211.43 468.11 L212.04 468.11 L212.66 468.11 L213.27 468.10 L213.88 468.10 L214.50 468.10 L215.11 468.10 L215.72 468.10 L216.34 468.10 L216.95 468.10 L217.56 468.09 L218.17 468.09 L218.79 468.09 L219.40 468.09" stroke="#2b35c8" stroke-width="1.3" fill="none" stroke-linejoin="round" clip-path="url(#clipe)"/>
<path d="M35.50 440.54 L36.11 440.44 L36.73 440.34 L37.34 440.23 L37.95 440.13 L38.56 440.03 L39.18 439.93 L39.79 439.83 L40.40 439.72 L41.02 439.62 L41.63 439.51 L42.24 439.41 L42.86 439.30 L43.47 439.20 L44.08 439.09 L44.70 438.98 L45.31 438.87 L45.92 438.76 L46.53 438.66 L47.15 438.55 L47.76 438.44 L48.37 438.33 L48.99 438.21 L49.60 438.10 L50.21 437.99 L50.83 437.88 L51.44 437.76 L52.05 437.65 L52.66 437.54 L53.28 437.42 L53.89 437.31 L54.50 437.19 L55.12 437.08 L55.73 436.96 L56.34 436.84 L56.95 436.73 L57.57 436.61 L58.18 436.49 L58.79 436.37 L59.41 436.25 L60.02 436.13 L60.63 436.01 L61.25 435.89 L61.86 435.77 L62.47 435.65 L63.08 435.53 L63.70 435.40 L64.31 435.28 L64.92 435.16 L65.54 435.03 L66.15 434.91 L66.76 434.78 L67.38 434.65 L67.99 434.53 L68.60 434.40 L69.22 434.27 L69.83 434.14 L70.44 434.01 L71.05 433.88 L71.67 433.74 L72.28 433.61 L72.89 433.48 L73.51 433.34 L74.12 433.21 L74.73 433.07 L75.34 432.93 L75.96 432.79 L76.57 432.65 L77.18 432.51 L77.80 432.37 L78.41 432.22 L79.02 432.08 L79.64 431.93 L80.25 431.78 L80.86 431.64 L81.47 431.49 L82.09 431.34 L82.70 431.18 L83.31 431.03 L83.93 430.88 L84.54 430.72 L85.15 430.56 L85.77 430.41 L86.38 430.25 L86.99 430.08 L87.60 429.92 L88.22 429.76 L88.83 429.59 L89.44 429.43 L90.06 429.26 L90.67 429.09 L91.28 428.92 L91.90 428.75 L92.51 428.57 L93.12 428.39 L93.73 428.21 L94.35 428.03 L94.96 427.84 L95.57 427.65 L96.19 427.46 L96.80 427.26 L97.41 427.06 L98.03 426.86 L98.64 426.66 L99.25 426.46 L99.86 426.26 L100.48 426.06 L101.09 425.86 L101.70 425.67 L102.32 425.47 L102.93 425.27 L103.54 425.07 L104.16 424.87 L104.77 424.66 L105.38 424.46 L105.99 424.26 L106.61 424.06 L107.22 423.86 L107.83 423.67 L108.45 423.48 L109.06 423.30 L109.67 423.13 L110.29 422.96 L110.90 422.79 L111.51 422.62 L112.12 422.45 L112.74 422.28 L113.35 422.10 L113.96 421.92 L114.58 421.76 L115.19 421.60 L115.80 421.45 L116.42 421.32 L117.03 421.20 L117.64 421.11 L118.25 421.05 L118.87 421.01 L119.48 421.01 L120.09 421.05 L120.71 421.13 L121.32 421.25 L121.93 421.40 L122.55 421.57 L123.16 421.77 L123.77 421.99 L124.38 422.22 L125.00 422.47 L125.61 422.76 L126.22 423.10 L126.84 423.50 L127.45 423.96 L128.06 424.45 L128.68 424.96 L129.29 425.47 L129.90 425.98 L130.51 426.51 L131.13 427.05 L131.74 427.60 L132.35 428.17 L132.97 428.75 L133.58 429.35 L134.19 429.95 L134.81 430.56 L135.42 431.20 L136.03 431.85 L136.65 432.53 L137.26 433.22 L137.87 433.93 L138.48 434.64 L139.10 435.34 L139.71 436.04 L140.32 436.71 L140.94 437.36 L141.55 437.98 L142.16 438.57 L142.78 439.15 L143.39 439.71 L144.00 440.26 L144.61 440.80 L145.23 441.33 L145.84 441.85 L146.45 442.36 L147.07 442.85 L147.68 443.34 L148.29 443.82 L148.91 444.29 L149.52 444.75 L150.13 445.20 L150.74 445.65 L151.36 446.09 L151.97 446.51 L152.58 446.94 L153.20 447.35 L153.81 447.76 L154.42 448.16 L155.03 448.55 L155.65 448.94 L156.26 449.33 L156.87 449.70 L157.49 450.07 L158.10 450.44 L158.71 450.80 L159.33 451.16 L159.94 451.52 L160.55 451.88 L161.16 452.23 L161.78 452.58 L162.39 452.92 L163.00 453.25 L163.62 453.57 L164.23 453.88 L164.84 454.18 L165.46 454.46 L166.07 454.73 L166.68 454.98 L167.30 455.22 L167.91 455.44 L168.52 455.66 L169.13 455.87 L169.75 456.07 L170.36 456.26 L170.97 456.45 L171.59 456.64 L172.20 456.82 L172.81 457.00 L173.43 457.19 L174.04 457.38 L174.65 457.57 L175.26 457.76 L175.88 457.96 L176.49 458.15 L177.10 458.35 L177.72 458.55 L178.33 458.75 L178.94 458.95 L179.56 459.14 L180.17 459.32 L180.78 459.50 L181.39 459.67 L182.01 459.84 L182.62 460.00 L183.23 460.15 L183.85 460.31 L184.46 460.46 L185.07 460.62 L185.69 460.77 L186.30 460.92 L186.91 461.07 L187.52 461.21 L188.14 461.36 L188.75 461.50 L189.36 461.64 L189.98 461.78 L190.59 461.92 L191.20 462.05 L191.81 462.18 L192.43 462.31 L193.04 462.44 L193.65 462.56 L194.27 462.68 L194.88 462.80 L195.49 462.91 L196.11 463.02 L196.72 463.13 L197.33 463.24 L197.94 463.34 L198.56 463.44 L199.17 463.53 L199.78 463.62 L200.40 463.71 L201.01 463.80 L201.62 463.89 L202.24 463.97 L202.85 464.06 L203.46 464.14 L204.07 464.23 L204.69 464.31 L205.30 464.39 L205.91 464.47 L206.53 464.55 L207.14 464.62 L207.75 464.70 L208.37 464.77 L208.98 464.84 L209.59 464.92 L210.20 464.98 L210.82 465.05 L211.43 465.12 L212.04 465.18 L212.66 465.24 L213.27 465.30 L213.88 465.36 L214.50 465.41 L215.11 465.46 L215.72 465.51 L216.34 465.56 L216.95 465.61 L217.56 465.65 L218.17 465.69 L218.79 465.73 L219.40 465.76" stroke="#e0402e" stroke-width="1.3" fill="none" stroke-linejoin="round" clip-path="url(#clipe)"/>
<path d="M35.50 474.14 L36.11 474.25 L36.73 474.35 L37.34 474.45 L37.95 474.55 L38.56 474.65 L39.18 474.76 L39.79 474.86 L40.40 474.97 L41.02 475.08 L41.63 475.18 L42.24 475.29 L42.86 475.40 L43.47 475.51 L44.08 475.62 L44.70 475.73 L45.31 475.84 L45.92 475.96 L46.53 476.07 L47.15 476.18 L47.76 476.30 L48.37 476.41 L48.99 476.53 L49.60 476.64 L50.21 476.76 L50.83 476.88 L51.44 476.99 L52.05 477.11 L52.66 477.23 L53.28 477.35 L53.89 477.48 L54.50 477.60 L55.12 477.73 L55.73 477.85 L56.34 477.98 L56.95 478.11 L57.57 478.25 L58.18 478.38 L58.79 478.52 L59.41 478.66 L60.02 478.80 L60.63 478.94 L61.25 479.08 L61.86 479.23 L62.47 479.37 L63.08 479.52 L63.70 479.67 L64.31 479.83 L64.92 479.98 L65.54 480.14 L66.15 480.30 L66.76 480.47 L67.38 480.64 L67.99 480.81 L68.60 480.99 L69.22 481.17 L69.83 481.36 L70.44 481.55 L71.05 481.75 L71.67 481.95 L72.28 482.17 L72.89 482.38 L73.51 482.61 L74.12 482.83 L74.73 483.07 L75.34 483.30 L75.96 483.55 L76.57 483.79 L77.18 484.04 L77.80 484.30 L78.41 484.55 L79.02 484.81 L79.64 485.08 L80.25 485.34 L80.86 485.61 L81.47 485.88 L82.09 486.16 L82.70 486.44 L83.31 486.73 L83.93 487.02 L84.54 487.33 L85.15 487.64 L85.77 487.95 L86.38 488.27 L86.99 488.59 L87.60 488.91 L88.22 489.24 L88.83 489.56 L89.44 489.89 L90.06 490.21 L90.67 490.53 L91.28 490.85 L91.90 491.17 L92.51 491.48 L93.12 491.78 L93.73 492.09 L94.35 492.40 L94.96 492.72 L95.57 493.04 L96.19 493.36 L96.80 493.68 L97.41 494.00 L98.03 494.31 L98.64 494.62 L99.25 494.91 L99.86 495.20 L100.48 495.47 L101.09 495.72 L101.70 495.96 L102.32 496.17 L102.93 496.38 L103.54 496.58 L104.16 496.77 L104.77 496.96 L105.38 497.14 L105.99 497.31 L106.61 497.45 L107.22 497.56 L107.83 497.63 L108.45 497.65 L109.06 497.58 L109.67 497.40 L110.29 497.12 L110.90 496.76 L111.51 496.33 L112.12 495.84 L112.74 495.26 L113.35 494.53 L113.96 493.59 L114.58 492.32 L115.19 490.53 L115.80 488.03 L116.42 484.76 L117.03 480.64 L117.64 475.69 L118.25 470.31 L118.87 465.06 L119.48 460.19 L120.09 455.63 L120.71 451.27 L121.32 447.06 L121.93 443.00 L122.55 439.04 L123.16 435.12 L123.77 431.19 L124.38 427.22 L125.00 423.28 L125.61 419.54 L126.22 416.13 L126.84 413.10 L127.45 410.37 L128.06 407.87 L128.68 405.50 L129.29 403.25 L129.90 401.20 L130.51 399.49 L131.13 398.18 L131.74 397.18 L132.35 396.41 L132.97 395.85 L133.58 395.54 L134.19 395.53 L134.81 395.80 L135.42 396.30 L136.03 396.96 L136.65 397.73 L137.26 398.59 L137.87 399.60 L138.48 400.78 L139.10 402.13 L139.71 403.63 L140.32 405.24 L140.94 406.93 L141.55 408.64 L142.16 410.37 L142.78 412.13 L143.39 413.92 L144.00 415.73 L144.61 417.57 L145.23 419.43 L145.84 421.32 L146.45 423.23 L147.07 425.13 L147.68 426.96 L148.29 428.68 L148.91 430.30 L149.52 431.84 L150.13 433.30 L150.74 434.71 L151.36 436.06 L151.97 437.35 L152.58 438.57 L153.20 439.73 L153.81 440.85 L154.42 441.92 L155.03 442.95 L155.65 443.94 L156.26 444.90 L156.87 445.82 L157.49 446.72 L158.10 447.59 L158.71 448.43 L159.33 449.26 L159.94 450.06 L160.55 450.83 L161.16 451.59 L161.78 452.32 L162.39 453.02 L163.00 453.70 L163.62 454.36 L164.23 454.99 L164.84 455.59 L165.46 456.19 L166.07 456.76 L166.68 457.30 L167.30 457.81 L167.91 458.28 L168.52 458.71 L169.13 459.11 L169.75 459.49 L170.36 459.86 L170.97 460.21 L171.59 460.56 L172.20 460.90 L172.81 461.23 L173.43 461.54 L174.04 461.85 L174.65 462.14 L175.26 462.42 L175.88 462.69 L176.49 462.95 L177.10 463.19 L177.72 463.42 L178.33 463.64 L178.94 463.85 L179.56 464.04 L180.17 464.21 L180.78 464.38 L181.39 464.54 L182.01 464.69 L182.62 464.84 L183.23 464.99 L183.85 465.13 L184.46 465.26 L185.07 465.39 L185.69 465.52 L186.30 465.64 L186.91 465.75 L187.52 465.86 L188.14 465.96 L188.75 466.06 L189.36 466.15 L189.98 466.24 L190.59 466.32 L191.20 466.39 L191.81 466.46 L192.43 466.52 L193.04 466.58 L193.65 466.63 L194.27 466.69 L194.88 466.74 L195.49 466.79 L196.11 466.84 L196.72 466.89 L197.33 466.93 L197.94 466.97 L198.56 467.02 L199.17 467.06 L199.78 467.10 L200.40 467.13 L201.01 467.17 L201.62 467.20 L202.24 467.23 L202.85 467.26 L203.46 467.29 L204.07 467.32 L204.69 467.35 L205.30 467.37 L205.91 467.40 L206.53 467.42 L207.14 467.44 L207.75 467.46 L208.37 467.48 L208.98 467.50 L209.59 467.52 L210.20 467.54 L210.82 467.56 L211.43 467.57 L212.04 467.59 L212.66 467.61 L213.27 467.62 L213.88 467.64 L214.50 467.65 L215.11 467.66 L215.72 467.68 L216.34 467.69 L216.95 467.70 L217.56 467.70 L218.17 467.71 L218.79 467.72 L219.40 467.72" stroke="#141414" stroke-width="1.3" fill="none" stroke-linejoin="round" clip-path="url(#clipe)"/>
<path d="M35.50 450.31 L36.11 450.31 L36.73 450.32 L37.34 450.32 L37.95 450.33 L38.56 450.34 L39.18 450.35 L39.79 450.36 L40.40 450.37 L41.02 450.39 L41.63 450.40 L42.24 450.42 L42.86 450.44 L43.47 450.46 L44.08 450.48 L44.70 450.51 L45.31 450.53 L45.92 450.56 L46.53 450.59 L47.15 450.62 L47.76 450.64 L48.37 450.67 L48.99 450.71 L49.60 450.74 L50.21 450.77 L50.83 450.81 L51.44 450.84 L52.05 450.88 L52.66 450.91 L53.28 450.95 L53.89 450.99 L54.50 451.02 L55.12 451.06 L55.73 451.10 L56.34 451.14 L56.95 451.18 L57.57 451.23 L58.18 451.28 L58.79 451.34 L59.41 451.40 L60.02 451.46 L60.63 451.53 L61.25 451.61 L61.86 451.69 L62.47 451.77 L63.08 451.86 L63.70 451.95 L64.31 452.04 L64.92 452.14 L65.54 452.24 L66.15 452.34 L66.76 452.45 L67.38 452.55 L67.99 452.66 L68.60 452.77 L69.22 452.89 L69.83 453.00 L70.44 453.12 L71.05 453.23 L71.67 453.35 L72.28 453.47 L72.89 453.59 L73.51 453.70 L74.12 453.82 L74.73 453.94 L75.34 454.06 L75.96 454.17 L76.57 454.29 L77.18 454.41 L77.80 454.53 L78.41 454.66 L79.02 454.80 L79.64 454.93 L80.25 455.07 L80.86 455.22 L81.47 455.36 L82.09 455.51 L82.70 455.65 L83.31 455.80 L83.93 455.95 L84.54 456.10 L85.15 456.24 L85.77 456.39 L86.38 456.53 L86.99 456.66 L87.60 456.80 L88.22 456.93 L88.83 457.05 L89.44 457.18 L90.06 457.30 L90.67 457.42 L91.28 457.55 L91.90 457.67 L92.51 457.79 L93.12 457.90 L93.73 458.02 L94.35 458.13 L94.96 458.25 L95.57 458.35 L96.19 458.46 L96.80 458.56 L97.41 458.66 L98.03 458.75 L98.64 458.85 L99.25 458.94 L99.86 459.03 L100.48 459.12 L101.09 459.22 L101.70 459.31 L102.32 459.41 L102.93 459.50 L103.54 459.58 L104.16 459.67 L104.77 459.74 L105.38 459.81 L105.99 459.87 L106.61 459.92 L107.22 459.95 L107.83 459.97 L108.45 459.95 L109.06 459.86 L109.67 459.67 L110.29 459.36 L110.90 458.95 L111.51 458.44 L112.12 457.85 L112.74 457.17 L113.35 456.35 L113.96 455.29 L114.58 453.85 L115.19 451.99 L115.80 449.77 L116.42 447.26 L117.03 444.44 L117.64 441.22 L118.25 437.56 L118.87 433.55 L119.48 429.28 L120.09 424.79 L120.71 420.11 L121.32 415.39 L121.93 410.77 L122.55 406.33 L123.16 402.02 L123.77 397.79 L124.38 393.62 L125.00 389.43 L125.61 385.18 L126.22 380.96 L126.84 377.02 L127.45 373.61 L128.06 370.83 L128.68 368.55 L129.29 366.68 L129.90 365.18 L130.51 364.00 L131.13 363.06 L131.74 362.34 L132.35 361.87 L132.97 361.70 L133.58 361.83 L134.19 362.21 L134.81 362.76 L135.42 363.46 L136.03 364.36 L136.65 365.52 L137.26 366.94 L137.87 368.57 L138.48 370.32 L139.10 372.12 L139.71 373.95 L140.32 375.85 L140.94 377.82 L141.55 379.89 L142.16 382.03 L142.78 384.23 L143.39 386.51 L144.00 388.87 L144.61 391.33 L145.23 393.83 L145.84 396.32 L146.45 398.72 L147.07 401.04 L147.68 403.27 L148.29 405.45 L148.91 407.57 L149.52 409.62 L150.13 411.61 L150.74 413.53 L151.36 415.40 L151.97 417.21 L152.58 418.98 L153.20 420.68 L153.81 422.33 L154.42 423.90 L155.03 425.39 L155.65 426.82 L156.26 428.19 L156.87 429.51 L157.49 430.78 L158.10 432.01 L158.71 433.20 L159.33 434.35 L159.94 435.47 L160.55 436.56 L161.16 437.62 L161.78 438.67 L162.39 439.70 L163.00 440.71 L163.62 441.69 L164.23 442.65 L164.84 443.58 L165.46 444.47 L166.07 445.32 L166.68 446.12 L167.30 446.88 L167.91 447.60 L168.52 448.29 L169.13 448.96 L169.75 449.61 L170.36 450.24 L170.97 450.84 L171.59 451.41 L172.20 451.96 L172.81 452.49 L173.43 452.98 L174.04 453.45 L174.65 453.88 L175.26 454.29 L175.88 454.69 L176.49 455.07 L177.10 455.43 L177.72 455.79 L178.33 456.13 L178.94 456.46 L179.56 456.78 L180.17 457.09 L180.78 457.38 L181.39 457.66 L182.01 457.93 L182.62 458.19 L183.23 458.44 L183.85 458.68 L184.46 458.90 L185.07 459.11 L185.69 459.32 L186.30 459.52 L186.91 459.72 L187.52 459.91 L188.14 460.10 L188.75 460.28 L189.36 460.46 L189.98 460.63 L190.59 460.80 L191.20 460.96 L191.81 461.12 L192.43 461.28 L193.04 461.43 L193.65 461.58 L194.27 461.72 L194.88 461.85 L195.49 461.99 L196.11 462.11 L196.72 462.24 L197.33 462.36 L197.94 462.47 L198.56 462.58 L199.17 462.68 L199.78 462.78 L200.40 462.88 L201.01 462.98 L201.62 463.08 L202.24 463.17 L202.85 463.27 L203.46 463.36 L204.07 463.45 L204.69 463.54 L205.30 463.63 L205.91 463.72 L206.53 463.80 L207.14 463.89 L207.75 463.97 L208.37 464.05 L208.98 464.13 L209.59 464.20 L210.20 464.28 L210.82 464.35 L211.43 464.42 L212.04 464.48 L212.66 464.55 L213.27 464.61 L213.88 464.66 L214.50 464.72 L215.11 464.77 L215.72 464.81 L216.34 464.86 L216.95 464.90 L217.56 464.93 L218.17 464.97 L218.79 464.99 L219.40 465.02" stroke="#1f9c9c" stroke-width="1.3" fill="none" stroke-linejoin="round" clip-path="url(#clipe)"/>
<rect x="35.50" y="356.30" width="183.90" height="149.00" fill="none" stroke="#5a5a5a" stroke-width="1.1"/>
<text x="35.50" y="515.90" class="tl" text-anchor="middle">-2.0</text>
<text x="55.93" y="515.90" class="tl" text-anchor="middle">-1.5</text>
<text x="76.37" y="515.90" class="tl" text-anchor="middle">-1.0</text>
<text x="96.80" y="515.90" class="tl" text-anchor="middle">-0.5</text>
<text x="117.23" y="515.90" class="tl" text-anchor="middle">0.0</text>
<text x="137.67" y="515.90" class="tl" text-anchor="middle">0.5</text>
<text x="158.10" y="515.90" class="tl" text-anchor="middle">1.0</text>
<text x="178.53" y="515.90" class="tl" text-anchor="middle">1.5</text>
<text x="198.97" y="515.90" class="tl" text-anchor="middle">2.0</text>
<text x="219.40" y="515.90" class="tl" text-anchor="middle">2.5</text>
<text x="32.30" y="359.18" class="tl" text-anchor="end">1.2</text>
<text x="32.30" y="377.80" class="tl" text-anchor="end">1.0</text>
<text x="32.30" y="396.42" class="tl" text-anchor="end">0.8</text>
<text x="32.30" y="415.04" class="tl" text-anchor="end">0.6</text>
<text x="32.30" y="433.66" class="tl" text-anchor="end">0.4</text>
<text x="32.30" y="452.28" class="tl" text-anchor="end">0.2</text>
<text x="32.30" y="470.90" class="tl" text-anchor="end">0.0</text>
<text x="32.30" y="489.52" class="tl" text-anchor="end">-0.2</text>
<text x="32.30" y="508.14" class="tl" text-anchor="end">-0.4</text>
<text x="127.45" y="530.30" class="at" text-anchor="middle">x-distance (μm)</text>
<text transform="translate(11.30 434.90) rotate(-90)" class="at" text-anchor="middle">Force (nN)</text>
<text x="5.00" y="366.60" class="pl">e)</text>
<rect x="153.30" y="358.10" width="62.8" height="44.2" fill="#fff" stroke="#b8b8b8" stroke-width="0.7"/>
<path d="M155.50 365.20h20" stroke="#141414" stroke-width="1.4"/>
<text x="177.70" y="368.50" class="lg">DEP Force</text>
<path d="M155.50 375.90h20" stroke="#e0402e" stroke-width="1.4"/>
<text x="177.70" y="379.20" class="lg">EP Force</text>
<path d="M155.50 386.60h20" stroke="#2b35c8" stroke-width="1.4"/>
<text x="177.70" y="389.90" class="lg">EOF Force</text>
<path d="M155.50 397.30h20" stroke="#1f9c9c" stroke-width="1.4"/>
<text x="177.70" y="400.60" class="lg">Net Force</text>
<text x="45.20" y="370.30" class="an">-V</text>
<path d="M64.60 360.60 L79.90 364.70 L79.90 369.30 L64.60 373.40 Q62.80 367.00 64.60 360.60Z" fill="url(#coneg)"/>
<text x="83.00" y="370.30" class="an">+V</text>
<text x="51.40" y="384.10" class="an">10 V/cm</text>
<clipPath id="clipf"><rect x="266.50" y="355.20" width="184.00" height="149.00"/></clipPath>
<path d="M289.50 355.20V504.20M312.50 355.20V504.20M335.50 355.20V504.20M358.50 355.20V504.20M381.50 355.20V504.20M404.50 355.20V504.20M427.50 355.20V504.20M266.50 365.65H450.50M266.50 387.02H450.50M266.50 408.39H450.50M266.50 429.76H450.50M266.50 451.13H450.50M266.50 472.50H450.50M266.50 493.87H450.50" stroke="#ececf2" stroke-width="0.7" fill="none" stroke-dasharray="1.2 1.2"/>
<path d="M266.50 504.20v-3.0M266.50 355.20v3.0M278.00 504.20v-1.8M278.00 355.20v1.8M289.50 504.20v-3.0M289.50 355.20v3.0M301.00 504.20v-1.8M301.00 355.20v1.8M312.50 504.20v-3.0M312.50 355.20v3.0M324.00 504.20v-1.8M324.00 355.20v1.8M335.50 504.20v-3.0M335.50 355.20v3.0M347.00 504.20v-1.8M347.00 355.20v1.8M358.50 504.20v-3.0M358.50 355.20v3.0M370.00 504.20v-1.8M370.00 355.20v1.8M381.50 504.20v-3.0M381.50 355.20v3.0M393.00 504.20v-1.8M393.00 355.20v1.8M404.50 504.20v-3.0M404.50 355.20v3.0M416.00 504.20v-1.8M416.00 355.20v1.8M427.50 504.20v-3.0M427.50 355.20v3.0M439.00 504.20v-1.8M439.00 355.20v1.8M450.50 504.20v-3.0M450.50 355.20v3.0M266.50 493.87h3.0M450.50 493.87h-3.0M266.50 483.19h1.8M450.50 483.19h-1.8M266.50 472.50h3.0M450.50 472.50h-3.0M266.50 461.81h1.8M450.50 461.81h-1.8M266.50 451.13h3.0M450.50 451.13h-3.0M266.50 440.44h1.8M450.50 440.44h-1.8M266.50 429.76h3.0M450.50 429.76h-3.0M266.50 419.07h1.8M450.50 419.07h-1.8M266.50 408.39h3.0M450.50 408.39h-3.0M266.50 397.70h1.8M450.50 397.70h-1.8M266.50 387.02h3.0M450.50 387.02h-3.0M266.50 376.34h1.8M450.50 376.34h-1.8M266.50 365.65h3.0M450.50 365.65h-3.0" stroke="#5a5a5a" stroke-width="0.9" fill="none"/>
<path d="M266.50 472.60H450.50" stroke="#2a2a2a" stroke-width="1.15" stroke-dasharray="3 2.3" fill="none"/>
<path d="M266.50 478.06 L267.11 478.06 L267.73 478.06 L268.34 478.07 L268.95 478.08 L269.57 478.08 L270.18 478.09 L270.79 478.10 L271.41 478.11 L272.02 478.12 L272.63 478.13 L273.25 478.14 L273.86 478.16 L274.47 478.17 L275.09 478.18 L275.70 478.20 L276.31 478.21 L276.93 478.23 L277.54 478.25 L278.15 478.26 L278.77 478.28 L279.38 478.30 L279.99 478.32 L280.61 478.34 L281.22 478.36 L281.83 478.38 L282.45 478.40 L283.06 478.42 L283.67 478.45 L284.29 478.47 L284.90 478.49 L285.51 478.52 L286.13 478.54 L286.74 478.56 L287.35 478.59 L287.97 478.61 L288.58 478.64 L289.19 478.66 L289.81 478.69 L290.42 478.71 L291.03 478.74 L291.65 478.77 L292.26 478.79 L292.87 478.82 L293.49 478.84 L294.10 478.87 L294.71 478.90 L295.33 478.93 L295.94 478.95 L296.55 478.99 L297.17 479.02 L297.78 479.05 L298.39 479.09 L299.01 479.13 L299.62 479.16 L300.23 479.20 L300.85 479.25 L301.46 479.29 L302.07 479.33 L302.69 479.38 L303.30 479.42 L303.91 479.47 L304.53 479.52 L305.14 479.56 L305.75 479.62 L306.37 479.67 L306.98 479.73 L307.59 479.79 L308.21 479.85 L308.82 479.91 L309.43 479.97 L310.05 480.03 L310.66 480.09 L311.27 480.14 L311.89 480.20 L312.50 480.25 L313.11 480.31 L313.73 480.37 L314.34 480.43 L314.95 480.49 L315.57 480.55 L316.18 480.61 L316.79 480.68 L317.41 480.74 L318.02 480.80 L318.63 480.86 L319.25 480.92 L319.86 480.98 L320.47 481.04 L321.09 481.09 L321.70 481.14 L322.31 481.19 L322.93 481.24 L323.54 481.29 L324.15 481.32 L324.77 481.36 L325.38 481.39 L325.99 481.42 L326.61 481.44 L327.22 481.46 L327.83 481.47 L328.45 481.47 L329.06 481.47 L329.67 481.47 L330.29 481.46 L330.90 481.44 L331.51 481.43 L332.13 481.41 L332.74 481.39 L333.35 481.36 L333.97 481.33 L334.58 481.30 L335.19 481.27 L335.81 481.23 L336.42 481.20 L337.03 481.16 L337.65 481.12 L338.26 481.08 L338.87 481.03 L339.49 480.98 L340.10 480.92 L340.71 480.84 L341.33 480.76 L341.94 480.66 L342.55 480.56 L343.17 480.45 L343.78 480.34 L344.39 480.21 L345.01 480.09 L345.62 479.96 L346.23 479.83 L346.85 479.69 L347.46 479.56 L348.07 479.42 L348.69 479.29 L349.30 479.16 L349.91 479.03 L350.53 478.90 L351.14 478.78 L351.75 478.64 L352.37 478.51 L352.98 478.36 L353.59 478.22 L354.21 478.07 L354.82 477.92 L355.43 477.77 L356.05 477.62 L356.66 477.47 L357.27 477.32 L357.89 477.18 L358.50 477.04 L359.11 476.91 L359.73 476.78 L360.34 476.66 L360.95 476.55 L361.57 476.45 L362.18 476.35 L362.79 476.27 L363.41 476.19 L364.02 476.12 L364.63 476.06 L365.25 475.99 L365.86 475.93 L366.47 475.88 L367.09 475.82 L367.70 475.76 L368.31 475.69 L368.93 475.62 L369.54 475.55 L370.15 475.46 L370.77 475.37 L371.38 475.27 L371.99 475.16 L372.61 475.05 L373.22 474.94 L373.83 474.83 L374.45 474.73 L375.06 474.63 L375.67 474.54 L376.29 474.46 L376.90 474.37 L377.51 474.28 L378.13 474.20 L378.74 474.12 L379.35 474.03 L379.97 473.95 L380.58 473.88 L381.19 473.80 L381.81 473.73 L382.42 473.66 L383.03 473.60 L383.65 473.54 L384.26 473.49 L384.87 473.44 L385.49 473.40 L386.10 473.36 L386.71 473.32 L387.33 473.29 L387.94 473.26 L388.55 473.23 L389.17 473.20 L389.78 473.17 L390.39 473.14 L391.01 473.11 L391.62 473.08 L392.23 473.06 L392.85 473.03 L393.46 473.01 L394.07 472.99 L394.69 472.96 L395.30 472.94 L395.91 472.92 L396.53 472.90 L397.14 472.88 L397.75 472.87 L398.37 472.85 L398.98 472.83 L399.59 472.82 L400.21 472.80 L400.82 472.79 L401.43 472.77 L402.05 472.76 L402.66 472.75 L403.27 472.74 L403.89 472.72 L404.50 472.71 L405.11 472.70 L405.73 472.69 L406.34 472.68 L406.95 472.68 L407.57 472.67 L408.18 472.66 L408.79 472.65 L409.41 472.64 L410.02 472.63 L410.63 472.62 L411.25 472.61 L411.86 472.60 L412.47 472.59 L413.09 472.58 L413.70 472.58 L414.31 472.57 L414.93 472.56 L415.54 472.55 L416.15 472.54 L416.77 472.53 L417.38 472.53 L417.99 472.52 L418.61 472.51 L419.22 472.50 L419.83 472.49 L420.45 472.49 L421.06 472.48 L421.67 472.47 L422.29 472.46 L422.90 472.46 L423.51 472.45 L424.13 472.44 L424.74 472.44 L425.35 472.43 L425.97 472.42 L426.58 472.42 L427.19 472.41 L427.81 472.41 L428.42 472.40 L429.03 472.39 L429.65 472.39 L430.26 472.38 L430.87 472.38 L431.49 472.37 L432.10 472.37 L432.71 472.36 L433.33 472.36 L433.94 472.35 L434.55 472.35 L435.17 472.34 L435.78 472.34 L436.39 472.33 L437.01 472.33 L437.62 472.33 L438.23 472.32 L438.85 472.32 L439.46 472.32 L440.07 472.31 L440.69 472.31 L441.30 472.31 L441.91 472.30 L442.53 472.30 L443.14 472.30 L443.75 472.30 L444.37 472.30 L444.98 472.29 L445.59 472.29 L446.21 472.29 L446.82 472.29 L447.43 472.29 L448.05 472.29 L448.66 472.29 L449.27 472.29 L449.89 472.29 L450.50 472.29" stroke="#2b35c8" stroke-width="1.3" fill="none" stroke-linejoin="round" clip-path="url(#clipf)"/>
<path d="M266.50 434.46 L267.11 434.32 L267.73 434.18 L268.34 434.04 L268.95 433.90 L269.57 433.76 L270.18 433.61 L270.79 433.46 L271.41 433.32 L272.02 433.17 L272.63 433.02 L273.25 432.87 L273.86 432.71 L274.47 432.56 L275.09 432.40 L275.70 432.25 L276.31 432.09 L276.93 431.93 L277.54 431.77 L278.15 431.61 L278.77 431.45 L279.38 431.29 L279.99 431.12 L280.61 430.96 L281.22 430.79 L281.83 430.63 L282.45 430.46 L283.06 430.29 L283.67 430.11 L284.29 429.94 L284.90 429.77 L285.51 429.59 L286.13 429.42 L286.74 429.24 L287.35 429.06 L287.97 428.88 L288.58 428.69 L289.19 428.51 L289.81 428.32 L290.42 428.14 L291.03 427.95 L291.65 427.76 L292.26 427.57 L292.87 427.37 L293.49 427.18 L294.10 426.98 L294.71 426.78 L295.33 426.58 L295.94 426.38 L296.55 426.18 L297.17 425.97 L297.78 425.76 L298.39 425.55 L299.01 425.34 L299.62 425.13 L300.23 424.91 L300.85 424.70 L301.46 424.48 L302.07 424.26 L302.69 424.03 L303.30 423.81 L303.91 423.58 L304.53 423.36 L305.14 423.13 L305.75 422.89 L306.37 422.66 L306.98 422.42 L307.59 422.19 L308.21 421.94 L308.82 421.70 L309.43 421.45 L310.05 421.20 L310.66 420.95 L311.27 420.69 L311.89 420.44 L312.50 420.17 L313.11 419.91 L313.73 419.65 L314.34 419.38 L314.95 419.11 L315.57 418.84 L316.18 418.57 L316.79 418.29 L317.41 418.02 L318.02 417.74 L318.63 417.47 L319.25 417.19 L319.86 416.91 L320.47 416.64 L321.09 416.36 L321.70 416.08 L322.31 415.81 L322.93 415.53 L323.54 415.25 L324.15 414.98 L324.77 414.70 L325.38 414.42 L325.99 414.13 L326.61 413.84 L327.22 413.55 L327.83 413.25 L328.45 412.94 L329.06 412.61 L329.67 412.26 L330.29 411.91 L330.90 411.59 L331.51 411.32 L332.13 411.09 L332.74 410.91 L333.35 410.76 L333.97 410.64 L334.58 410.58 L335.19 410.57 L335.81 410.62 L336.42 410.73 L337.03 410.87 L337.65 411.06 L338.26 411.28 L338.87 411.53 L339.49 411.79 L340.10 412.07 L340.71 412.35 L341.33 412.65 L341.94 412.97 L342.55 413.33 L343.17 413.73 L343.78 414.17 L344.39 414.64 L345.01 415.14 L345.62 415.66 L346.23 416.21 L346.85 416.78 L347.46 417.38 L348.07 418.03 L348.69 418.71 L349.30 419.43 L349.91 420.18 L350.53 420.94 L351.14 421.72 L351.75 422.50 L352.37 423.27 L352.98 424.04 L353.59 424.79 L354.21 425.53 L354.82 426.26 L355.43 426.99 L356.05 427.72 L356.66 428.45 L357.27 429.18 L357.89 429.91 L358.50 430.64 L359.11 431.37 L359.73 432.11 L360.34 432.85 L360.95 433.60 L361.57 434.35 L362.18 435.11 L362.79 435.88 L363.41 436.66 L364.02 437.45 L364.63 438.25 L365.25 439.05 L365.86 439.85 L366.47 440.64 L367.09 441.42 L367.70 442.19 L368.31 442.94 L368.93 443.68 L369.54 444.41 L370.15 445.14 L370.77 445.88 L371.38 446.61 L371.99 447.34 L372.61 448.06 L373.22 448.77 L373.83 449.46 L374.45 450.14 L375.06 450.80 L375.67 451.44 L376.29 452.04 L376.90 452.62 L377.51 453.16 L378.13 453.66 L378.74 454.13 L379.35 454.58 L379.97 455.01 L380.58 455.43 L381.19 455.82 L381.81 456.21 L382.42 456.57 L383.03 456.93 L383.65 457.27 L384.26 457.59 L384.87 457.91 L385.49 458.21 L386.10 458.50 L386.71 458.78 L387.33 459.06 L387.94 459.32 L388.55 459.58 L389.17 459.84 L389.78 460.09 L390.39 460.33 L391.01 460.57 L391.62 460.80 L392.23 461.03 L392.85 461.25 L393.46 461.47 L394.07 461.68 L394.69 461.88 L395.30 462.08 L395.91 462.28 L396.53 462.47 L397.14 462.65 L397.75 462.83 L398.37 463.01 L398.98 463.17 L399.59 463.34 L400.21 463.50 L400.82 463.65 L401.43 463.80 L402.05 463.95 L402.66 464.10 L403.27 464.25 L403.89 464.39 L404.50 464.53 L405.11 464.67 L405.73 464.81 L406.34 464.95 L406.95 465.08 L407.57 465.21 L408.18 465.34 L408.79 465.47 L409.41 465.59 L410.02 465.72 L410.63 465.83 L411.25 465.95 L411.86 466.07 L412.47 466.18 L413.09 466.29 L413.70 466.39 L414.31 466.50 L414.93 466.60 L415.54 466.69 L416.15 466.79 L416.77 466.88 L417.38 466.97 L417.99 467.05 L418.61 467.14 L419.22 467.21 L419.83 467.29 L420.45 467.36 L421.06 467.43 L421.67 467.50 L422.29 467.57 L422.90 467.64 L423.51 467.71 L424.13 467.78 L424.74 467.85 L425.35 467.92 L425.97 467.98 L426.58 468.05 L427.19 468.12 L427.81 468.18 L428.42 468.25 L429.03 468.31 L429.65 468.37 L430.26 468.44 L430.87 468.50 L431.49 468.56 L432.10 468.62 L432.71 468.68 L433.33 468.74 L433.94 468.79 L434.55 468.85 L435.17 468.90 L435.78 468.95 L436.39 469.01 L437.01 469.06 L437.62 469.11 L438.23 469.15 L438.85 469.20 L439.46 469.24 L440.07 469.29 L440.69 469.33 L441.30 469.37 L441.91 469.40 L442.53 469.44 L443.14 469.47 L443.75 469.51 L444.37 469.54 L444.98 469.56 L445.59 469.59 L446.21 469.61 L446.82 469.64 L447.43 469.66 L448.05 469.67 L448.66 469.69 L449.27 469.70 L449.89 469.71 L450.50 469.72" stroke="#e0402e" stroke-width="1.3" fill="none" stroke-linejoin="round" clip-path="url(#clipf)"/>
<path d="M266.50 479.98 L267.11 480.09 L267.73 480.20 L268.34 480.32 L268.95 480.44 L269.57 480.56 L270.18 480.68 L270.79 480.80 L271.41 480.93 L272.02 481.06 L272.63 481.19 L273.25 481.32 L273.86 481.45 L274.47 481.59 L275.09 481.73 L275.70 481.87 L276.31 482.01 L276.93 482.15 L277.54 482.30 L278.15 482.45 L278.77 482.59 L279.38 482.74 L279.99 482.90 L280.61 483.05 L281.22 483.20 L281.83 483.36 L282.45 483.52 L283.06 483.68 L283.67 483.85 L284.29 484.01 L284.90 484.18 L285.51 484.35 L286.13 484.53 L286.74 484.70 L287.35 484.88 L287.97 485.06 L288.58 485.25 L289.19 485.44 L289.81 485.62 L290.42 485.82 L291.03 486.01 L291.65 486.21 L292.26 486.41 L292.87 486.62 L293.49 486.82 L294.10 487.03 L294.71 487.25 L295.33 487.47 L295.94 487.70 L296.55 487.94 L297.17 488.18 L297.78 488.43 L298.39 488.68 L299.01 488.93 L299.62 489.19 L300.23 489.45 L300.85 489.71 L301.46 489.98 L302.07 490.24 L302.69 490.51 L303.30 490.78 L303.91 491.05 L304.53 491.31 L305.14 491.58 L305.75 491.86 L306.37 492.14 L306.98 492.42 L307.59 492.71 L308.21 493.00 L308.82 493.30 L309.43 493.59 L310.05 493.88 L310.66 494.16 L311.27 494.44 L311.89 494.70 L312.50 494.96 L313.11 495.21 L313.73 495.45 L314.34 495.70 L314.95 495.95 L315.57 496.21 L316.18 496.47 L316.79 496.71 L317.41 496.93 L318.02 497.13 L318.63 497.28 L319.25 497.40 L319.86 497.45 L320.47 497.45 L321.09 497.37 L321.70 497.23 L322.31 497.03 L322.93 496.76 L323.54 496.45 L324.15 496.09 L324.77 495.69 L325.38 495.25 L325.99 494.75 L326.61 494.14 L327.22 493.37 L327.83 492.41 L328.45 491.29 L329.06 490.04 L329.67 488.67 L330.29 487.17 L330.90 485.51 L331.51 483.62 L332.13 481.51 L332.74 479.19 L333.35 476.66 L333.97 473.89 L334.58 470.84 L335.19 467.51 L335.81 464.00 L336.42 460.41 L337.03 456.79 L337.65 453.14 L338.26 449.45 L338.87 445.75 L339.49 442.13 L340.10 438.65 L340.71 435.32 L341.33 432.11 L341.94 429.04 L342.55 426.19 L343.17 423.70 L343.78 421.58 L344.39 419.81 L345.01 418.30 L345.62 416.99 L346.23 415.87 L346.85 414.88 L347.46 413.98 L348.07 413.13 L348.69 412.36 L349.30 411.68 L349.91 411.16 L350.53 410.81 L351.14 410.68 L351.75 410.77 L352.37 411.08 L352.98 411.58 L353.59 412.22 L354.21 412.99 L354.82 413.83 L355.43 414.76 L356.05 415.82 L356.66 417.10 L357.27 418.62 L357.89 420.32 L358.50 422.12 L359.11 423.93 L359.73 425.67 L360.34 427.31 L360.95 428.88 L361.57 430.42 L362.18 431.94 L362.79 433.46 L363.41 434.95 L364.02 436.41 L364.63 437.85 L365.25 439.26 L365.86 440.62 L366.47 441.94 L367.09 443.21 L367.70 444.41 L368.31 445.56 L368.93 446.67 L369.54 447.76 L370.15 448.87 L370.77 450.01 L371.38 451.19 L371.99 452.39 L372.61 453.59 L373.22 454.78 L373.83 455.94 L374.45 457.05 L375.06 458.10 L375.67 459.06 L376.29 459.93 L376.90 460.71 L377.51 461.43 L378.13 462.10 L378.74 462.74 L379.35 463.34 L379.97 463.91 L380.58 464.44 L381.19 464.95 L381.81 465.41 L382.42 465.84 L383.03 466.23 L383.65 466.60 L384.26 466.94 L384.87 467.27 L385.49 467.59 L386.10 467.89 L386.71 468.18 L387.33 468.45 L387.94 468.71 L388.55 468.95 L389.17 469.18 L389.78 469.38 L390.39 469.57 L391.01 469.73 L391.62 469.87 L392.23 469.99 L392.85 470.11 L393.46 470.22 L394.07 470.33 L394.69 470.43 L395.30 470.53 L395.91 470.62 L396.53 470.71 L397.14 470.80 L397.75 470.88 L398.37 470.96 L398.98 471.03 L399.59 471.09 L400.21 471.15 L400.82 471.21 L401.43 471.26 L402.05 471.31 L402.66 471.35 L403.27 471.38 L403.89 471.41 L404.50 471.43 L405.11 471.45 L405.73 471.47 L406.34 471.48 L406.95 471.50 L407.57 471.52 L408.18 471.53 L408.79 471.55 L409.41 471.57 L410.02 471.58 L410.63 471.60 L411.25 471.61 L411.86 471.63 L412.47 471.64 L413.09 471.66 L413.70 471.67 L414.31 471.68 L414.93 471.70 L415.54 471.71 L416.15 471.72 L416.77 471.74 L417.38 471.75 L417.99 471.76 L418.61 471.77 L419.22 471.79 L419.83 471.80 L420.45 471.81 L421.06 471.82 L421.67 471.83 L422.29 471.84 L422.90 471.85 L423.51 471.86 L424.13 471.87 L424.74 471.88 L425.35 471.89 L425.97 471.90 L426.58 471.91 L427.19 471.92 L427.81 471.92 L428.42 471.93 L429.03 471.94 L429.65 471.95 L430.26 471.96 L430.87 471.96 L431.49 471.97 L432.10 471.98 L432.71 471.98 L433.33 471.99 L433.94 471.99 L434.55 472.00 L435.17 472.01 L435.78 472.01 L436.39 472.02 L437.01 472.02 L437.62 472.03 L438.23 472.03 L438.85 472.03 L439.46 472.04 L440.07 472.04 L440.69 472.05 L441.30 472.05 L441.91 472.05 L442.53 472.05 L443.14 472.06 L443.75 472.06 L444.37 472.06 L444.98 472.06 L445.59 472.07 L446.21 472.07 L446.82 472.07 L447.43 472.07 L448.05 472.07 L448.66 472.07 L449.27 472.07 L449.89 472.07 L450.50 472.07" stroke="#141414" stroke-width="1.3" fill="none" stroke-linejoin="round" clip-path="url(#clipf)"/>
<path d="M266.50 447.28 L267.11 447.28 L267.73 447.29 L268.34 447.29 L268.95 447.29 L269.57 447.30 L270.18 447.30 L270.79 447.31 L271.41 447.32 L272.02 447.33 L272.63 447.34 L273.25 447.35 L273.86 447.36 L274.47 447.37 L275.09 447.38 L275.70 447.39 L276.31 447.41 L276.93 447.42 L277.54 447.43 L278.15 447.45 L278.77 447.46 L279.38 447.48 L279.99 447.49 L280.61 447.51 L281.22 447.52 L281.83 447.54 L282.45 447.56 L283.06 447.58 L283.67 447.60 L284.29 447.62 L284.90 447.65 L285.51 447.67 L286.13 447.70 L286.74 447.73 L287.35 447.76 L287.97 447.79 L288.58 447.82 L289.19 447.85 L289.81 447.88 L290.42 447.92 L291.03 447.95 L291.65 447.99 L292.26 448.02 L292.87 448.06 L293.49 448.10 L294.10 448.14 L294.71 448.18 L295.33 448.23 L295.94 448.29 L296.55 448.34 L297.17 448.40 L297.78 448.47 L298.39 448.53 L299.01 448.60 L299.62 448.67 L300.23 448.74 L300.85 448.81 L301.46 448.88 L302.07 448.94 L302.69 449.00 L303.30 449.06 L303.91 449.12 L304.53 449.17 L305.14 449.22 L305.75 449.26 L306.37 449.31 L306.98 449.36 L307.59 449.40 L308.21 449.45 L308.82 449.49 L309.43 449.53 L310.05 449.56 L310.66 449.59 L311.27 449.61 L311.89 449.62 L312.50 449.63 L313.11 449.62 L313.73 449.59 L314.34 449.55 L314.95 449.49 L315.57 449.43 L316.18 449.34 L316.79 449.25 L317.41 449.15 L318.02 449.03 L318.63 448.91 L319.25 448.77 L319.86 448.63 L320.47 448.46 L321.09 448.24 L321.70 447.97 L322.31 447.64 L322.93 447.25 L323.54 446.82 L324.15 446.33 L324.77 445.80 L325.38 445.22 L325.99 444.60 L326.61 443.93 L327.22 443.16 L327.83 442.27 L328.45 441.21 L329.06 439.99 L329.67 438.63 L330.29 437.13 L330.90 435.47 L331.51 433.58 L332.13 431.41 L332.74 428.97 L333.35 426.34 L333.97 423.53 L334.58 420.56 L335.19 417.44 L335.81 414.24 L336.42 411.00 L337.03 407.72 L337.65 404.40 L338.26 401.07 L338.87 397.80 L339.49 394.62 L340.10 391.53 L340.71 388.49 L341.33 385.47 L341.94 382.55 L342.55 379.84 L343.17 377.46 L343.78 375.47 L344.39 373.83 L345.01 372.40 L345.62 371.08 L346.23 369.88 L346.85 368.82 L347.46 367.94 L348.07 367.26 L348.69 366.84 L349.30 366.69 L349.91 366.82 L350.53 367.20 L351.14 367.81 L351.75 368.61 L352.37 369.54 L352.98 370.58 L353.59 371.68 L354.21 372.85 L354.82 374.12 L355.43 375.56 L356.05 377.22 L356.66 379.05 L357.27 381.01 L357.89 383.04 L358.50 385.08 L359.11 387.07 L359.73 388.98 L360.34 390.83 L360.95 392.62 L361.57 394.41 L362.18 396.19 L362.79 397.99 L363.41 399.82 L364.02 401.71 L364.63 403.67 L365.25 405.72 L365.86 407.89 L366.47 410.16 L367.09 412.51 L367.70 414.89 L368.31 417.25 L368.93 419.55 L369.54 421.74 L370.15 423.83 L370.77 425.83 L371.38 427.78 L371.99 429.69 L372.61 431.56 L373.22 433.38 L373.83 435.14 L374.45 436.81 L375.06 438.39 L375.67 439.86 L376.29 441.21 L376.90 442.46 L377.51 443.62 L378.13 444.72 L378.74 445.77 L379.35 446.77 L379.97 447.71 L380.58 448.61 L381.19 449.45 L381.81 450.25 L382.42 450.99 L383.03 451.69 L383.65 452.35 L384.26 452.97 L384.87 453.57 L385.49 454.14 L386.10 454.69 L386.71 455.21 L387.33 455.71 L387.94 456.19 L388.55 456.65 L389.17 457.09 L389.78 457.51 L390.39 457.91 L391.01 458.29 L391.62 458.66 L392.23 459.01 L392.85 459.35 L393.46 459.68 L394.07 460.01 L394.69 460.32 L395.30 460.63 L395.91 460.93 L396.53 461.22 L397.14 461.51 L397.75 461.78 L398.37 462.04 L398.98 462.30 L399.59 462.55 L400.21 462.78 L400.82 463.01 L401.43 463.23 L402.05 463.43 L402.66 463.63 L403.27 463.82 L403.89 464.00 L404.50 464.17 L405.11 464.34 L405.73 464.50 L406.34 464.67 L406.95 464.83 L407.57 464.98 L408.18 465.13 L408.79 465.28 L409.41 465.43 L410.02 465.57 L410.63 465.71 L411.25 465.85 L411.86 465.98 L412.47 466.10 L413.09 466.23 L413.70 466.35 L414.31 466.46 L414.93 466.57 L415.54 466.68 L416.15 466.78 L416.77 466.88 L417.38 466.97 L417.99 467.06 L418.61 467.14 L419.22 467.22 L419.83 467.29 L420.45 467.36 L421.06 467.43 L421.67 467.49 L422.29 467.56 L422.90 467.62 L423.51 467.69 L424.13 467.75 L424.74 467.81 L425.35 467.88 L425.97 467.94 L426.58 468.00 L427.19 468.06 L427.81 468.12 L428.42 468.18 L429.03 468.24 L429.65 468.29 L430.26 468.35 L430.87 468.40 L431.49 468.46 L432.10 468.51 L432.71 468.56 L433.33 468.61 L433.94 468.66 L434.55 468.71 L435.17 468.76 L435.78 468.81 L436.39 468.85 L437.01 468.89 L437.62 468.94 L438.23 468.98 L438.85 469.01 L439.46 469.05 L440.07 469.09 L440.69 469.12 L441.30 469.15 L441.91 469.18 L442.53 469.21 L443.14 469.24 L443.75 469.26 L444.37 469.29 L444.98 469.31 L445.59 469.33 L446.21 469.34 L446.82 469.36 L447.43 469.37 L448.05 469.38 L448.66 469.39 L449.27 469.40 L449.89 469.40 L450.50 469.40" stroke="#1f9c9c" stroke-width="1.3" fill="none" stroke-linejoin="round" clip-path="url(#clipf)"/>
<rect x="266.50" y="355.20" width="184.00" height="149.00" fill="none" stroke="#5a5a5a" stroke-width="1.1"/>
<text x="266.50" y="514.80" class="tl" text-anchor="middle">-1.5</text>
<text x="289.50" y="514.80" class="tl" text-anchor="middle">-1.0</text>
<text x="312.50" y="514.80" class="tl" text-anchor="middle">-0.5</text>
<text x="335.50" y="514.80" class="tl" text-anchor="middle">0.0</text>
<text x="358.50" y="514.80" class="tl" text-anchor="middle">0.5</text>
<text x="381.50" y="514.80" class="tl" text-anchor="middle">1.0</text>
<text x="404.50" y="514.80" class="tl" text-anchor="middle">1.5</text>
<text x="427.50" y="514.80" class="tl" text-anchor="middle">2.0</text>
<text x="450.50" y="514.80" class="tl" text-anchor="middle">2.5</text>
<text x="263.30" y="368.55" class="tl" text-anchor="end">0.5</text>
<text x="263.30" y="389.92" class="tl" text-anchor="end">0.4</text>
<text x="263.30" y="411.29" class="tl" text-anchor="end">0.3</text>
<text x="263.30" y="432.66" class="tl" text-anchor="end">0.2</text>
<text x="263.30" y="454.03" class="tl" text-anchor="end">0.1</text>
<text x="263.30" y="475.40" class="tl" text-anchor="end">0.0</text>
<text x="263.30" y="496.77" class="tl" text-anchor="end">-0.1</text>
<text x="358.50" y="529.20" class="at" text-anchor="middle">x-distance (μm)</text>
<text transform="translate(238.60 434.00) rotate(-90)" class="at" text-anchor="middle">Force (nN)</text>
<text x="229.00" y="366.40" class="pl">f)</text>
<rect x="381.40" y="358.40" width="62.8" height="44.2" fill="#fff" stroke="#b8b8b8" stroke-width="0.7"/>
<path d="M383.60 365.50h20" stroke="#141414" stroke-width="1.4"/>
<text x="405.80" y="368.80" class="lg">DEP Force</text>
<path d="M383.60 376.20h20" stroke="#e0402e" stroke-width="1.4"/>
<text x="405.80" y="379.50" class="lg">EP Force</text>
<path d="M383.60 386.90h20" stroke="#2b35c8" stroke-width="1.4"/>
<text x="405.80" y="390.20" class="lg">EOF Force</text>
<path d="M383.60 397.60h20" stroke="#1f9c9c" stroke-width="1.4"/>
<text x="405.80" y="400.90" class="lg">Net Force</text>
<text x="272.10" y="370.30" class="an">-V</text>
<path d="M292.10 360.60 L307.40 364.70 L307.40 369.30 L292.10 373.40 Q290.30 367.00 292.10 360.60Z" fill="url(#coneg)"/>
<text x="309.90" y="370.30" class="an">+V</text>
<text x="278.10" y="384.10" class="an">5 V/cm</text>
<clipPath id="clipg"><rect x="493.70" y="356.50" width="183.80" height="148.70"/></clipPath>
<path d="M514.12 356.50V505.20M534.54 356.50V505.20M554.97 356.50V505.20M575.39 356.50V505.20M595.81 356.50V505.20M616.23 356.50V505.20M636.66 356.50V505.20M657.08 356.50V505.20M493.70 370.00H677.50M493.70 388.10H677.50M493.70 406.20H677.50M493.70 424.30H677.50M493.70 442.40H677.50M493.70 460.50H677.50M493.70 478.60H677.50M493.70 496.70H677.50" stroke="#ececf2" stroke-width="0.7" fill="none" stroke-dasharray="1.2 1.2"/>
<path d="M493.70 505.20v-3.0M493.70 356.50v3.0M503.91 505.20v-1.8M503.91 356.50v1.8M514.12 505.20v-3.0M514.12 356.50v3.0M524.33 505.20v-1.8M524.33 356.50v1.8M534.54 505.20v-3.0M534.54 356.50v3.0M544.76 505.20v-1.8M544.76 356.50v1.8M554.97 505.20v-3.0M554.97 356.50v3.0M565.18 505.20v-1.8M565.18 356.50v1.8M575.39 505.20v-3.0M575.39 356.50v3.0M585.60 505.20v-1.8M585.60 356.50v1.8M595.81 505.20v-3.0M595.81 356.50v3.0M606.02 505.20v-1.8M606.02 356.50v1.8M616.23 505.20v-3.0M616.23 356.50v3.0M626.44 505.20v-1.8M626.44 356.50v1.8M636.66 505.20v-3.0M636.66 356.50v3.0M646.87 505.20v-1.8M646.87 356.50v1.8M657.08 505.20v-3.0M657.08 356.50v3.0M667.29 505.20v-1.8M667.29 356.50v1.8M677.50 505.20v-3.0M677.50 356.50v3.0M493.70 496.70h3.0M677.50 496.70h-3.0M493.70 487.65h1.8M677.50 487.65h-1.8M493.70 478.60h3.0M677.50 478.60h-3.0M493.70 469.55h1.8M677.50 469.55h-1.8M493.70 460.50h3.0M677.50 460.50h-3.0M493.70 451.45h1.8M677.50 451.45h-1.8M493.70 442.40h3.0M677.50 442.40h-3.0M493.70 433.35h1.8M677.50 433.35h-1.8M493.70 424.30h3.0M677.50 424.30h-3.0M493.70 415.25h1.8M677.50 415.25h-1.8M493.70 406.20h3.0M677.50 406.20h-3.0M493.70 397.15h1.8M677.50 397.15h-1.8M493.70 388.10h3.0M677.50 388.10h-3.0M493.70 379.05h1.8M677.50 379.05h-1.8M493.70 370.00h3.0M677.50 370.00h-3.0M493.70 360.95h1.8M677.50 360.95h-1.8" stroke="#5a5a5a" stroke-width="0.9" fill="none"/>
<path d="M493.70 478.60H677.50" stroke="#2a2a2a" stroke-width="1.15" stroke-dasharray="3 2.3" fill="none"/>
<path d="M493.70 486.47 L494.31 486.49 L494.93 486.51 L495.54 486.53 L496.15 486.55 L496.76 486.57 L497.38 486.58 L497.99 486.60 L498.60 486.62 L499.21 486.64 L499.83 486.66 L500.44 486.68 L501.05 486.71 L501.66 486.73 L502.28 486.75 L502.89 486.77 L503.50 486.79 L504.12 486.81 L504.73 486.83 L505.34 486.86 L505.95 486.88 L506.57 486.90 L507.18 486.92 L507.79 486.95 L508.40 486.97 L509.02 486.99 L509.63 487.02 L510.24 487.04 L510.85 487.07 L511.47 487.09 L512.08 487.12 L512.69 487.14 L513.31 487.16 L513.92 487.19 L514.53 487.21 L515.14 487.24 L515.76 487.26 L516.37 487.29 L516.98 487.31 L517.59 487.33 L518.21 487.36 L518.82 487.38 L519.43 487.40 L520.04 487.43 L520.66 487.45 L521.27 487.47 L521.88 487.50 L522.50 487.52 L523.11 487.55 L523.72 487.58 L524.33 487.61 L524.95 487.63 L525.56 487.66 L526.17 487.70 L526.78 487.73 L527.40 487.76 L528.01 487.80 L528.62 487.84 L529.23 487.88 L529.85 487.92 L530.46 487.96 L531.07 488.01 L531.69 488.06 L532.30 488.11 L532.91 488.17 L533.52 488.24 L534.14 488.32 L534.75 488.40 L535.36 488.48 L535.97 488.57 L536.59 488.67 L537.20 488.77 L537.81 488.87 L538.42 488.98 L539.04 489.10 L539.65 489.21 L540.26 489.34 L540.88 489.49 L541.49 489.66 L542.10 489.84 L542.71 490.02 L543.33 490.20 L543.94 490.37 L544.55 490.53 L545.16 490.66 L545.78 490.77 L546.39 490.88 L547.00 490.97 L547.61 491.06 L548.23 491.15 L548.84 491.23 L549.45 491.31 L550.07 491.39 L550.68 491.46 L551.29 491.54 L551.90 491.62 L552.52 491.70 L553.13 491.78 L553.74 491.86 L554.35 491.95 L554.97 492.04 L555.58 492.13 L556.19 492.22 L556.80 492.31 L557.42 492.40 L558.03 492.48 L558.64 492.57 L559.26 492.65 L559.87 492.72 L560.48 492.80 L561.09 492.86 L561.71 492.92 L562.32 492.98 L562.93 493.02 L563.54 493.06 L564.16 493.10 L564.77 493.13 L565.38 493.16 L565.99 493.18 L566.61 493.20 L567.22 493.22 L567.83 493.24 L568.45 493.25 L569.06 493.25 L569.67 493.24 L570.28 493.22 L570.90 493.18 L571.51 493.12 L572.12 493.05 L572.73 492.96 L573.35 492.87 L573.96 492.78 L574.57 492.68 L575.18 492.57 L575.80 492.44 L576.41 492.30 L577.02 492.14 L577.64 491.97 L578.25 491.78 L578.86 491.58 L579.47 491.37 L580.09 491.15 L580.70 490.92 L581.31 490.67 L581.92 490.40 L582.54 490.11 L583.15 489.81 L583.76 489.50 L584.37 489.18 L584.99 488.88 L585.60 488.57 L586.21 488.28 L586.83 487.98 L587.44 487.69 L588.05 487.39 L588.66 487.09 L589.28 486.80 L589.89 486.52 L590.50 486.25 L591.11 486.00 L591.73 485.76 L592.34 485.53 L592.95 485.32 L593.56 485.11 L594.18 484.92 L594.79 484.72 L595.40 484.54 L596.02 484.36 L596.63 484.19 L597.24 484.02 L597.85 483.85 L598.47 483.69 L599.08 483.53 L599.69 483.38 L600.30 483.23 L600.92 483.09 L601.53 482.94 L602.14 482.80 L602.75 482.67 L603.37 482.53 L603.98 482.40 L604.59 482.27 L605.21 482.15 L605.82 482.03 L606.43 481.91 L607.04 481.79 L607.66 481.67 L608.27 481.56 L608.88 481.44 L609.49 481.32 L610.11 481.20 L610.72 481.08 L611.33 480.95 L611.94 480.82 L612.56 480.68 L613.17 480.55 L613.78 480.43 L614.40 480.32 L615.01 480.21 L615.62 480.13 L616.23 480.06 L616.85 479.99 L617.46 479.94 L618.07 479.89 L618.68 479.83 L619.30 479.79 L619.91 479.74 L620.52 479.69 L621.13 479.64 L621.75 479.60 L622.36 479.56 L622.97 479.52 L623.59 479.48 L624.20 479.44 L624.81 479.40 L625.42 479.37 L626.04 479.33 L626.65 479.30 L627.26 479.27 L627.87 479.24 L628.49 479.21 L629.10 479.19 L629.71 479.16 L630.32 479.14 L630.94 479.11 L631.55 479.09 L632.16 479.07 L632.78 479.05 L633.39 479.03 L634.00 479.02 L634.61 479.00 L635.23 478.99 L635.84 478.98 L636.45 478.97 L637.06 478.96 L637.68 478.95 L638.29 478.94 L638.90 478.93 L639.51 478.92 L640.13 478.91 L640.74 478.90 L641.35 478.89 L641.97 478.88 L642.58 478.87 L643.19 478.86 L643.80 478.85 L644.42 478.84 L645.03 478.84 L645.64 478.83 L646.25 478.82 L646.87 478.81 L647.48 478.80 L648.09 478.79 L648.70 478.79 L649.32 478.78 L649.93 478.77 L650.54 478.77 L651.16 478.76 L651.77 478.75 L652.38 478.74 L652.99 478.74 L653.61 478.73 L654.22 478.72 L654.83 478.72 L655.44 478.71 L656.06 478.71 L656.67 478.70 L657.28 478.69 L657.89 478.69 L658.51 478.68 L659.12 478.68 L659.73 478.67 L660.35 478.67 L660.96 478.66 L661.57 478.66 L662.18 478.66 L662.80 478.65 L663.41 478.65 L664.02 478.64 L664.63 478.64 L665.25 478.64 L665.86 478.63 L666.47 478.63 L667.08 478.63 L667.70 478.62 L668.31 478.62 L668.92 478.62 L669.54 478.62 L670.15 478.61 L670.76 478.61 L671.37 478.61 L671.99 478.61 L672.60 478.61 L673.21 478.60 L673.82 478.60 L674.44 478.60 L675.05 478.60 L675.66 478.60 L676.27 478.60 L676.89 478.60 L677.50 478.60" stroke="#2b35c8" stroke-width="1.3" fill="none" stroke-linejoin="round" clip-path="url(#clipg)"/>
<path d="M493.70 422.58 L494.31 422.33 L494.93 422.09 L495.54 421.84 L496.15 421.59 L496.76 421.33 L497.38 421.08 L497.99 420.82 L498.60 420.56 L499.21 420.29 L499.83 420.03 L500.44 419.76 L501.05 419.49 L501.66 419.22 L502.28 418.95 L502.89 418.67 L503.50 418.40 L504.12 418.12 L504.73 417.84 L505.34 417.55 L505.95 417.27 L506.57 416.98 L507.18 416.69 L507.79 416.40 L508.40 416.11 L509.02 415.82 L509.63 415.52 L510.24 415.22 L510.85 414.92 L511.47 414.62 L512.08 414.32 L512.69 414.02 L513.31 413.71 L513.92 413.40 L514.53 413.09 L515.14 412.78 L515.76 412.47 L516.37 412.15 L516.98 411.84 L517.59 411.52 L518.21 411.20 L518.82 410.88 L519.43 410.56 L520.04 410.24 L520.66 409.92 L521.27 409.60 L521.88 409.27 L522.50 408.95 L523.11 408.62 L523.72 408.29 L524.33 407.96 L524.95 407.62 L525.56 407.29 L526.17 406.95 L526.78 406.61 L527.40 406.26 L528.01 405.92 L528.62 405.57 L529.23 405.21 L529.85 404.86 L530.46 404.50 L531.07 404.13 L531.69 403.77 L532.30 403.40 L532.91 403.02 L533.52 402.64 L534.14 402.26 L534.75 401.87 L535.36 401.48 L535.97 401.08 L536.59 400.68 L537.20 400.27 L537.81 399.86 L538.42 399.44 L539.04 399.01 L539.65 398.58 L540.26 398.14 L540.88 397.69 L541.49 397.22 L542.10 396.74 L542.71 396.25 L543.33 395.75 L543.94 395.23 L544.55 394.71 L545.16 394.17 L545.78 393.63 L546.39 393.09 L547.00 392.53 L547.61 391.98 L548.23 391.41 L548.84 390.83 L549.45 390.23 L550.07 389.61 L550.68 388.99 L551.29 388.36 L551.90 387.72 L552.52 387.09 L553.13 386.46 L553.74 385.84 L554.35 385.23 L554.97 384.63 L555.58 384.05 L556.19 383.48 L556.80 382.91 L557.42 382.34 L558.03 381.76 L558.64 381.19 L559.26 380.63 L559.87 380.08 L560.48 379.56 L561.09 379.05 L561.71 378.58 L562.32 378.15 L562.93 377.75 L563.54 377.39 L564.16 377.05 L564.77 376.72 L565.38 376.40 L565.99 376.09 L566.61 375.81 L567.22 375.56 L567.83 375.36 L568.45 375.21 L569.06 375.13 L569.67 375.12 L570.28 375.19 L570.90 375.33 L571.51 375.53 L572.12 375.79 L572.73 376.09 L573.35 376.44 L573.96 376.81 L574.57 377.23 L575.18 377.71 L575.80 378.31 L576.41 379.04 L577.02 379.93 L577.64 380.93 L578.25 382.05 L578.86 383.24 L579.47 384.50 L580.09 385.81 L580.70 387.18 L581.31 388.66 L581.92 390.28 L582.54 392.04 L583.15 393.90 L583.76 395.84 L584.37 397.82 L584.99 399.80 L585.60 401.74 L586.21 403.65 L586.83 405.54 L587.44 407.44 L588.05 409.34 L588.66 411.25 L589.28 413.14 L589.89 415.00 L590.50 416.81 L591.11 418.56 L591.73 420.24 L592.34 421.85 L592.95 423.42 L593.56 424.94 L594.18 426.42 L594.79 427.87 L595.40 429.27 L596.02 430.64 L596.63 431.97 L597.24 433.27 L597.85 434.54 L598.47 435.80 L599.08 437.04 L599.69 438.28 L600.30 439.49 L600.92 440.68 L601.53 441.85 L602.14 442.98 L602.75 444.08 L603.37 445.14 L603.98 446.15 L604.59 447.12 L605.21 448.03 L605.82 448.88 L606.43 449.68 L607.04 450.44 L607.66 451.16 L608.27 451.84 L608.88 452.50 L609.49 453.13 L610.11 453.73 L610.72 454.33 L611.33 454.91 L611.94 455.48 L612.56 456.05 L613.17 456.62 L613.78 457.20 L614.40 457.78 L615.01 458.36 L615.62 458.95 L616.23 459.53 L616.85 460.11 L617.46 460.68 L618.07 461.25 L618.68 461.81 L619.30 462.35 L619.91 462.88 L620.52 463.39 L621.13 463.88 L621.75 464.34 L622.36 464.79 L622.97 465.20 L623.59 465.58 L624.20 465.94 L624.81 466.26 L625.42 466.55 L626.04 466.83 L626.65 467.09 L627.26 467.34 L627.87 467.59 L628.49 467.83 L629.10 468.06 L629.71 468.28 L630.32 468.50 L630.94 468.70 L631.55 468.91 L632.16 469.10 L632.78 469.29 L633.39 469.47 L634.00 469.65 L634.61 469.82 L635.23 469.99 L635.84 470.15 L636.45 470.31 L637.06 470.46 L637.68 470.61 L638.29 470.75 L638.90 470.89 L639.51 471.02 L640.13 471.16 L640.74 471.28 L641.35 471.41 L641.97 471.53 L642.58 471.65 L643.19 471.77 L643.80 471.88 L644.42 472.00 L645.03 472.11 L645.64 472.22 L646.25 472.32 L646.87 472.43 L647.48 472.53 L648.09 472.63 L648.70 472.73 L649.32 472.82 L649.93 472.91 L650.54 473.01 L651.16 473.09 L651.77 473.18 L652.38 473.26 L652.99 473.34 L653.61 473.42 L654.22 473.50 L654.83 473.57 L655.44 473.64 L656.06 473.71 L656.67 473.77 L657.28 473.84 L657.89 473.90 L658.51 473.95 L659.12 474.01 L659.73 474.06 L660.35 474.12 L660.96 474.17 L661.57 474.22 L662.18 474.27 L662.80 474.32 L663.41 474.38 L664.02 474.42 L664.63 474.47 L665.25 474.52 L665.86 474.57 L666.47 474.61 L667.08 474.66 L667.70 474.70 L668.31 474.74 L668.92 474.78 L669.54 474.82 L670.15 474.86 L670.76 474.89 L671.37 474.93 L671.99 474.96 L672.60 474.99 L673.21 475.02 L673.82 475.05 L674.44 475.07 L675.05 475.09 L675.66 475.11 L676.27 475.13 L676.89 475.15 L677.50 475.16" stroke="#e0402e" stroke-width="1.3" fill="none" stroke-linejoin="round" clip-path="url(#clipg)"/>
<path d="M493.70 482.40 L494.31 482.45 L494.93 482.49 L495.54 482.54 L496.15 482.59 L496.76 482.64 L497.38 482.70 L497.99 482.75 L498.60 482.80 L499.21 482.86 L499.83 482.91 L500.44 482.97 L501.05 483.03 L501.66 483.09 L502.28 483.15 L502.89 483.21 L503.50 483.27 L504.12 483.34 L504.73 483.40 L505.34 483.47 L505.95 483.53 L506.57 483.60 L507.18 483.67 L507.79 483.74 L508.40 483.80 L509.02 483.87 L509.63 483.94 L510.24 484.02 L510.85 484.09 L511.47 484.16 L512.08 484.23 L512.69 484.31 L513.31 484.38 L513.92 484.46 L514.53 484.53 L515.14 484.61 L515.76 484.68 L516.37 484.76 L516.98 484.84 L517.59 484.92 L518.21 484.99 L518.82 485.07 L519.43 485.15 L520.04 485.23 L520.66 485.32 L521.27 485.40 L521.88 485.49 L522.50 485.58 L523.11 485.67 L523.72 485.76 L524.33 485.85 L524.95 485.95 L525.56 486.05 L526.17 486.15 L526.78 486.26 L527.40 486.36 L528.01 486.48 L528.62 486.59 L529.23 486.71 L529.85 486.83 L530.46 486.95 L531.07 487.09 L531.69 487.22 L532.30 487.37 L532.91 487.54 L533.52 487.71 L534.14 487.89 L534.75 488.08 L535.36 488.28 L535.97 488.49 L536.59 488.70 L537.20 488.91 L537.81 489.13 L538.42 489.35 L539.04 489.57 L539.65 489.78 L540.26 490.00 L540.88 490.21 L541.49 490.43 L542.10 490.65 L542.71 490.87 L543.33 491.11 L543.94 491.36 L544.55 491.63 L545.16 491.92 L545.78 492.26 L546.39 492.62 L547.00 492.97 L547.61 493.28 L548.23 493.55 L548.84 493.79 L549.45 494.02 L550.07 494.25 L550.68 494.46 L551.29 494.66 L551.90 494.85 L552.52 495.02 L553.13 495.17 L553.74 495.29 L554.35 495.39 L554.97 495.46 L555.58 495.49 L556.19 495.47 L556.80 495.39 L557.42 495.24 L558.03 495.02 L558.64 494.74 L559.26 494.40 L559.87 494.02 L560.48 493.60 L561.09 493.14 L561.71 492.64 L562.32 492.06 L562.93 491.35 L563.54 490.47 L564.16 489.42 L564.77 488.25 L565.38 486.97 L565.99 485.61 L566.61 484.14 L567.22 482.54 L567.83 480.79 L568.45 478.89 L569.06 476.88 L569.67 474.73 L570.28 472.43 L570.90 469.97 L571.51 467.41 L572.12 464.79 L572.73 462.18 L573.35 459.56 L573.96 456.90 L574.57 454.15 L575.18 451.36 L575.80 448.65 L576.41 446.11 L577.02 443.87 L577.64 442.01 L578.25 440.49 L578.86 439.22 L579.47 438.07 L580.09 437.01 L580.70 436.06 L581.31 435.24 L581.92 434.58 L582.54 434.10 L583.15 433.83 L583.76 433.80 L584.37 434.02 L584.99 434.47 L585.60 435.12 L586.21 435.93 L586.83 436.87 L587.44 437.90 L588.05 438.97 L588.66 440.06 L589.28 441.16 L589.89 442.28 L590.50 443.49 L591.11 444.79 L591.73 446.17 L592.34 447.61 L592.95 449.07 L593.56 450.51 L594.18 451.91 L594.79 453.25 L595.40 454.53 L596.02 455.77 L596.63 457.00 L597.24 458.20 L597.85 459.37 L598.47 460.49 L599.08 461.56 L599.69 462.57 L600.30 463.51 L600.92 464.39 L601.53 465.22 L602.14 466.01 L602.75 466.78 L603.37 467.55 L603.98 468.34 L604.59 469.13 L605.21 469.91 L605.82 470.62 L606.43 471.22 L607.04 471.70 L607.66 472.08 L608.27 472.40 L608.88 472.70 L609.49 473.01 L610.11 473.35 L610.72 473.74 L611.33 474.17 L611.94 474.59 L612.56 474.97 L613.17 475.28 L613.78 475.52 L614.40 475.72 L615.01 475.89 L615.62 476.05 L616.23 476.20 L616.85 476.35 L617.46 476.48 L618.07 476.61 L618.68 476.72 L619.30 476.83 L619.91 476.93 L620.52 477.02 L621.13 477.10 L621.75 477.18 L622.36 477.24 L622.97 477.31 L623.59 477.36 L624.20 477.41 L624.81 477.45 L625.42 477.49 L626.04 477.53 L626.65 477.56 L627.26 477.60 L627.87 477.63 L628.49 477.66 L629.10 477.70 L629.71 477.73 L630.32 477.75 L630.94 477.78 L631.55 477.81 L632.16 477.83 L632.78 477.86 L633.39 477.88 L634.00 477.90 L634.61 477.92 L635.23 477.94 L635.84 477.96 L636.45 477.97 L637.06 477.99 L637.68 478.00 L638.29 478.01 L638.90 478.03 L639.51 478.04 L640.13 478.05 L640.74 478.06 L641.35 478.07 L641.97 478.07 L642.58 478.08 L643.19 478.09 L643.80 478.10 L644.42 478.11 L645.03 478.11 L645.64 478.12 L646.25 478.13 L646.87 478.13 L647.48 478.14 L648.09 478.15 L648.70 478.16 L649.32 478.16 L649.93 478.17 L650.54 478.18 L651.16 478.18 L651.77 478.19 L652.38 478.20 L652.99 478.20 L653.61 478.21 L654.22 478.21 L654.83 478.22 L655.44 478.22 L656.06 478.23 L656.67 478.24 L657.28 478.24 L657.89 478.25 L658.51 478.25 L659.12 478.26 L659.73 478.26 L660.35 478.26 L660.96 478.27 L661.57 478.27 L662.18 478.28 L662.80 478.28 L663.41 478.28 L664.02 478.29 L664.63 478.29 L665.25 478.30 L665.86 478.30 L666.47 478.30 L667.08 478.30 L667.70 478.31 L668.31 478.31 L668.92 478.31 L669.54 478.31 L670.15 478.32 L670.76 478.32 L671.37 478.32 L671.99 478.32 L672.60 478.32 L673.21 478.32 L673.82 478.33 L674.44 478.33 L675.05 478.33 L675.66 478.33 L676.27 478.33 L676.89 478.33 L677.50 478.33" stroke="#141414" stroke-width="1.3" fill="none" stroke-linejoin="round" clip-path="url(#clipg)"/>
<path d="M493.70 434.25 L494.31 434.11 L494.93 433.97 L495.54 433.83 L496.15 433.69 L496.76 433.54 L497.38 433.40 L497.99 433.25 L498.60 433.11 L499.21 432.96 L499.83 432.82 L500.44 432.67 L501.05 432.52 L501.66 432.37 L502.28 432.22 L502.89 432.07 L503.50 431.92 L504.12 431.77 L504.73 431.62 L505.34 431.47 L505.95 431.31 L506.57 431.16 L507.18 431.01 L507.79 430.85 L508.40 430.70 L509.02 430.54 L509.63 430.39 L510.24 430.23 L510.85 430.07 L511.47 429.92 L512.08 429.76 L512.69 429.60 L513.31 429.44 L513.92 429.28 L514.53 429.12 L515.14 428.96 L515.76 428.80 L516.37 428.64 L516.98 428.48 L517.59 428.32 L518.21 428.16 L518.82 428.00 L519.43 427.84 L520.04 427.68 L520.66 427.52 L521.27 427.36 L521.88 427.19 L522.50 427.03 L523.11 426.87 L523.72 426.70 L524.33 426.54 L524.95 426.37 L525.56 426.20 L526.17 426.03 L526.78 425.86 L527.40 425.68 L528.01 425.50 L528.62 425.32 L529.23 425.13 L529.85 424.94 L530.46 424.75 L531.07 424.55 L531.69 424.34 L532.30 424.12 L532.91 423.90 L533.52 423.68 L534.14 423.45 L534.75 423.21 L535.36 422.98 L535.97 422.74 L536.59 422.50 L537.20 422.27 L537.81 422.03 L538.42 421.80 L539.04 421.58 L539.65 421.36 L540.26 421.14 L540.88 420.94 L541.49 420.74 L542.10 420.54 L542.71 420.35 L543.33 420.16 L543.94 419.97 L544.55 419.77 L545.16 419.58 L545.78 419.37 L546.39 419.16 L547.00 418.94 L547.61 418.71 L548.23 418.46 L548.84 418.21 L549.45 417.96 L550.07 417.70 L550.68 417.42 L551.29 417.14 L551.90 416.85 L552.52 416.54 L553.13 416.21 L553.74 415.86 L554.35 415.49 L554.97 415.10 L555.58 414.68 L556.19 414.22 L556.80 413.72 L557.42 413.18 L558.03 412.58 L558.64 411.94 L559.26 411.26 L559.87 410.53 L560.48 409.75 L561.09 408.93 L561.71 408.06 L562.32 407.14 L562.93 406.13 L563.54 405.02 L564.16 403.82 L564.77 402.52 L565.38 401.12 L565.99 399.64 L566.61 398.08 L567.22 396.40 L567.83 394.56 L568.45 392.50 L569.06 390.24 L569.67 387.87 L570.28 385.50 L570.90 383.25 L571.51 381.17 L572.12 379.25 L572.73 377.44 L573.35 375.73 L573.96 374.08 L574.57 372.49 L575.18 370.90 L575.80 369.26 L576.41 367.57 L577.02 365.86 L577.64 364.21 L578.25 362.69 L578.86 361.40 L579.47 360.41 L580.09 359.78 L580.70 359.53 L581.31 359.59 L581.92 359.89 L582.54 360.38 L583.15 361.02 L583.76 361.81 L584.37 362.71 L584.99 363.72 L585.60 364.85 L586.21 366.21 L586.83 367.98 L587.44 370.29 L588.05 373.07 L588.66 376.14 L589.28 379.32 L589.89 382.45 L590.50 385.53 L591.11 388.60 L591.73 391.70 L592.34 394.81 L592.95 397.90 L593.56 400.95 L594.18 403.95 L594.79 406.94 L595.40 409.89 L596.02 412.75 L596.63 415.44 L597.24 417.93 L597.85 420.24 L598.47 422.40 L599.08 424.44 L599.69 426.39 L600.30 428.26 L600.92 430.03 L601.53 431.73 L602.14 433.34 L602.75 434.88 L603.37 436.36 L603.98 437.77 L604.59 439.13 L605.21 440.44 L605.82 441.70 L606.43 442.91 L607.04 444.08 L607.66 445.22 L608.27 446.32 L608.88 447.39 L609.49 448.42 L610.11 449.43 L610.72 450.42 L611.33 451.37 L611.94 452.29 L612.56 453.18 L613.17 454.04 L613.78 454.87 L614.40 455.66 L615.01 456.42 L615.62 457.16 L616.23 457.90 L616.85 458.63 L617.46 459.35 L618.07 460.07 L618.68 460.77 L619.30 461.46 L619.91 462.12 L620.52 462.76 L621.13 463.38 L621.75 463.96 L622.36 464.50 L622.97 465.00 L623.59 465.46 L624.20 465.87 L624.81 466.23 L625.42 466.56 L626.04 466.85 L626.65 467.13 L627.26 467.39 L627.87 467.65 L628.49 467.89 L629.10 468.13 L629.71 468.35 L630.32 468.57 L630.94 468.78 L631.55 468.98 L632.16 469.17 L632.78 469.36 L633.39 469.54 L634.00 469.71 L634.61 469.88 L635.23 470.04 L635.84 470.20 L636.45 470.35 L637.06 470.49 L637.68 470.63 L638.29 470.77 L638.90 470.90 L639.51 471.04 L640.13 471.16 L640.74 471.29 L641.35 471.41 L641.97 471.53 L642.58 471.65 L643.19 471.77 L643.80 471.88 L644.42 472.00 L645.03 472.11 L645.64 472.22 L646.25 472.32 L646.87 472.43 L647.48 472.53 L648.09 472.63 L648.70 472.73 L649.32 472.82 L649.93 472.91 L650.54 473.01 L651.16 473.09 L651.77 473.18 L652.38 473.26 L652.99 473.34 L653.61 473.42 L654.22 473.50 L654.83 473.57 L655.44 473.64 L656.06 473.71 L656.67 473.77 L657.28 473.84 L657.89 473.90 L658.51 473.95 L659.12 474.01 L659.73 474.06 L660.35 474.12 L660.96 474.17 L661.57 474.22 L662.18 474.27 L662.80 474.32 L663.41 474.38 L664.02 474.42 L664.63 474.47 L665.25 474.52 L665.86 474.57 L666.47 474.61 L667.08 474.66 L667.70 474.70 L668.31 474.74 L668.92 474.78 L669.54 474.82 L670.15 474.86 L670.76 474.89 L671.37 474.93 L671.99 474.96 L672.60 474.99 L673.21 475.02 L673.82 475.05 L674.44 475.07 L675.05 475.09 L675.66 475.11 L676.27 475.13 L676.89 475.15 L677.50 475.16" stroke="#1f9c9c" stroke-width="1.3" fill="none" stroke-linejoin="round" clip-path="url(#clipg)"/>
<rect x="493.70" y="356.50" width="183.80" height="148.70" fill="none" stroke="#5a5a5a" stroke-width="1.1"/>
<text x="493.70" y="515.80" class="tl" text-anchor="middle">-2.0</text>
<text x="514.12" y="515.80" class="tl" text-anchor="middle">-1.5</text>
<text x="534.54" y="515.80" class="tl" text-anchor="middle">-1.0</text>
<text x="554.97" y="515.80" class="tl" text-anchor="middle">-0.5</text>
<text x="575.39" y="515.80" class="tl" text-anchor="middle">0.0</text>
<text x="595.81" y="515.80" class="tl" text-anchor="middle">0.5</text>
<text x="616.23" y="515.80" class="tl" text-anchor="middle">1.0</text>
<text x="636.66" y="515.80" class="tl" text-anchor="middle">1.5</text>
<text x="657.08" y="515.80" class="tl" text-anchor="middle">2.0</text>
<text x="677.50" y="515.80" class="tl" text-anchor="middle">2.5</text>
<text x="490.50" y="372.90" class="tl" text-anchor="end">0.12</text>
<text x="490.50" y="391.00" class="tl" text-anchor="end">0.10</text>
<text x="490.50" y="409.10" class="tl" text-anchor="end">0.08</text>
<text x="490.50" y="427.20" class="tl" text-anchor="end">0.06</text>
<text x="490.50" y="445.30" class="tl" text-anchor="end">0.04</text>
<text x="490.50" y="463.40" class="tl" text-anchor="end">0.02</text>
<text x="490.50" y="481.50" class="tl" text-anchor="end">0.00</text>
<text x="490.50" y="499.60" class="tl" text-anchor="end">-0.02</text>
<text x="585.60" y="530.20" class="at" text-anchor="middle">x-distance (μm)</text>
<text transform="translate(466.20 435.85) rotate(-90)" class="at" text-anchor="middle">Force (nN)</text>
<text x="459.70" y="366.40" class="pl">g)</text>
<rect x="610.50" y="358.50" width="62.8" height="44.2" fill="#fff" stroke="#b8b8b8" stroke-width="0.7"/>
<path d="M612.70 365.60h20" stroke="#141414" stroke-width="1.4"/>
<text x="634.90" y="368.90" class="lg">DEP Force</text>
<path d="M612.70 376.30h20" stroke="#e0402e" stroke-width="1.4"/>
<text x="634.90" y="379.60" class="lg">EP Force</text>
<path d="M612.70 387.00h20" stroke="#2b35c8" stroke-width="1.4"/>
<text x="634.90" y="390.30" class="lg">EOF Force</text>
<path d="M612.70 397.70h20" stroke="#1f9c9c" stroke-width="1.4"/>
<text x="634.90" y="401.00" class="lg">Net Force</text>
<text x="497.60" y="369.80" class="an">-V</text>
<path d="M517.50 360.10 L532.80 364.20 L532.80 368.80 L517.50 372.90 Q515.70 366.50 517.50 360.10Z" fill="url(#coneg)"/>
<text x="535.40" y="369.80" class="an">+V</text>
<text x="503.70" y="384.10" class="an">3.33 V/cm</text>
<path d="M108.2 260 L106.0 271.5 L109.5 270.5 L110.3 273.6 L113.6 272.5 L112.7 269.4 L116.3 268.4Z" fill="#d9261a"/>
<path d="M136.8 259.5 L138.6 270.5 L135.5 269.5 L134.5 272.6 L131.3 271.5 L132.0 268.5 L128.6 267.7Z" fill="#5d9fdc"/>
<path d="M344.0 246.2 L342.0 257.5 L345.4 256.5 L346.2 259.6 L349.5 258.5 L348.6 255.4 L352.1 254.4Z" fill="#d9261a"/>
<path d="M360.1 246.2 L361.9 257.2 L358.8 256.2 L357.8 259.3 L354.6 258.2 L355.3 255.2 L351.9 254.4Z" fill="#5d9fdc"/>
<text x="5.1" y="14.6" class="pl">a)</text>
</svg>
</body></html>
